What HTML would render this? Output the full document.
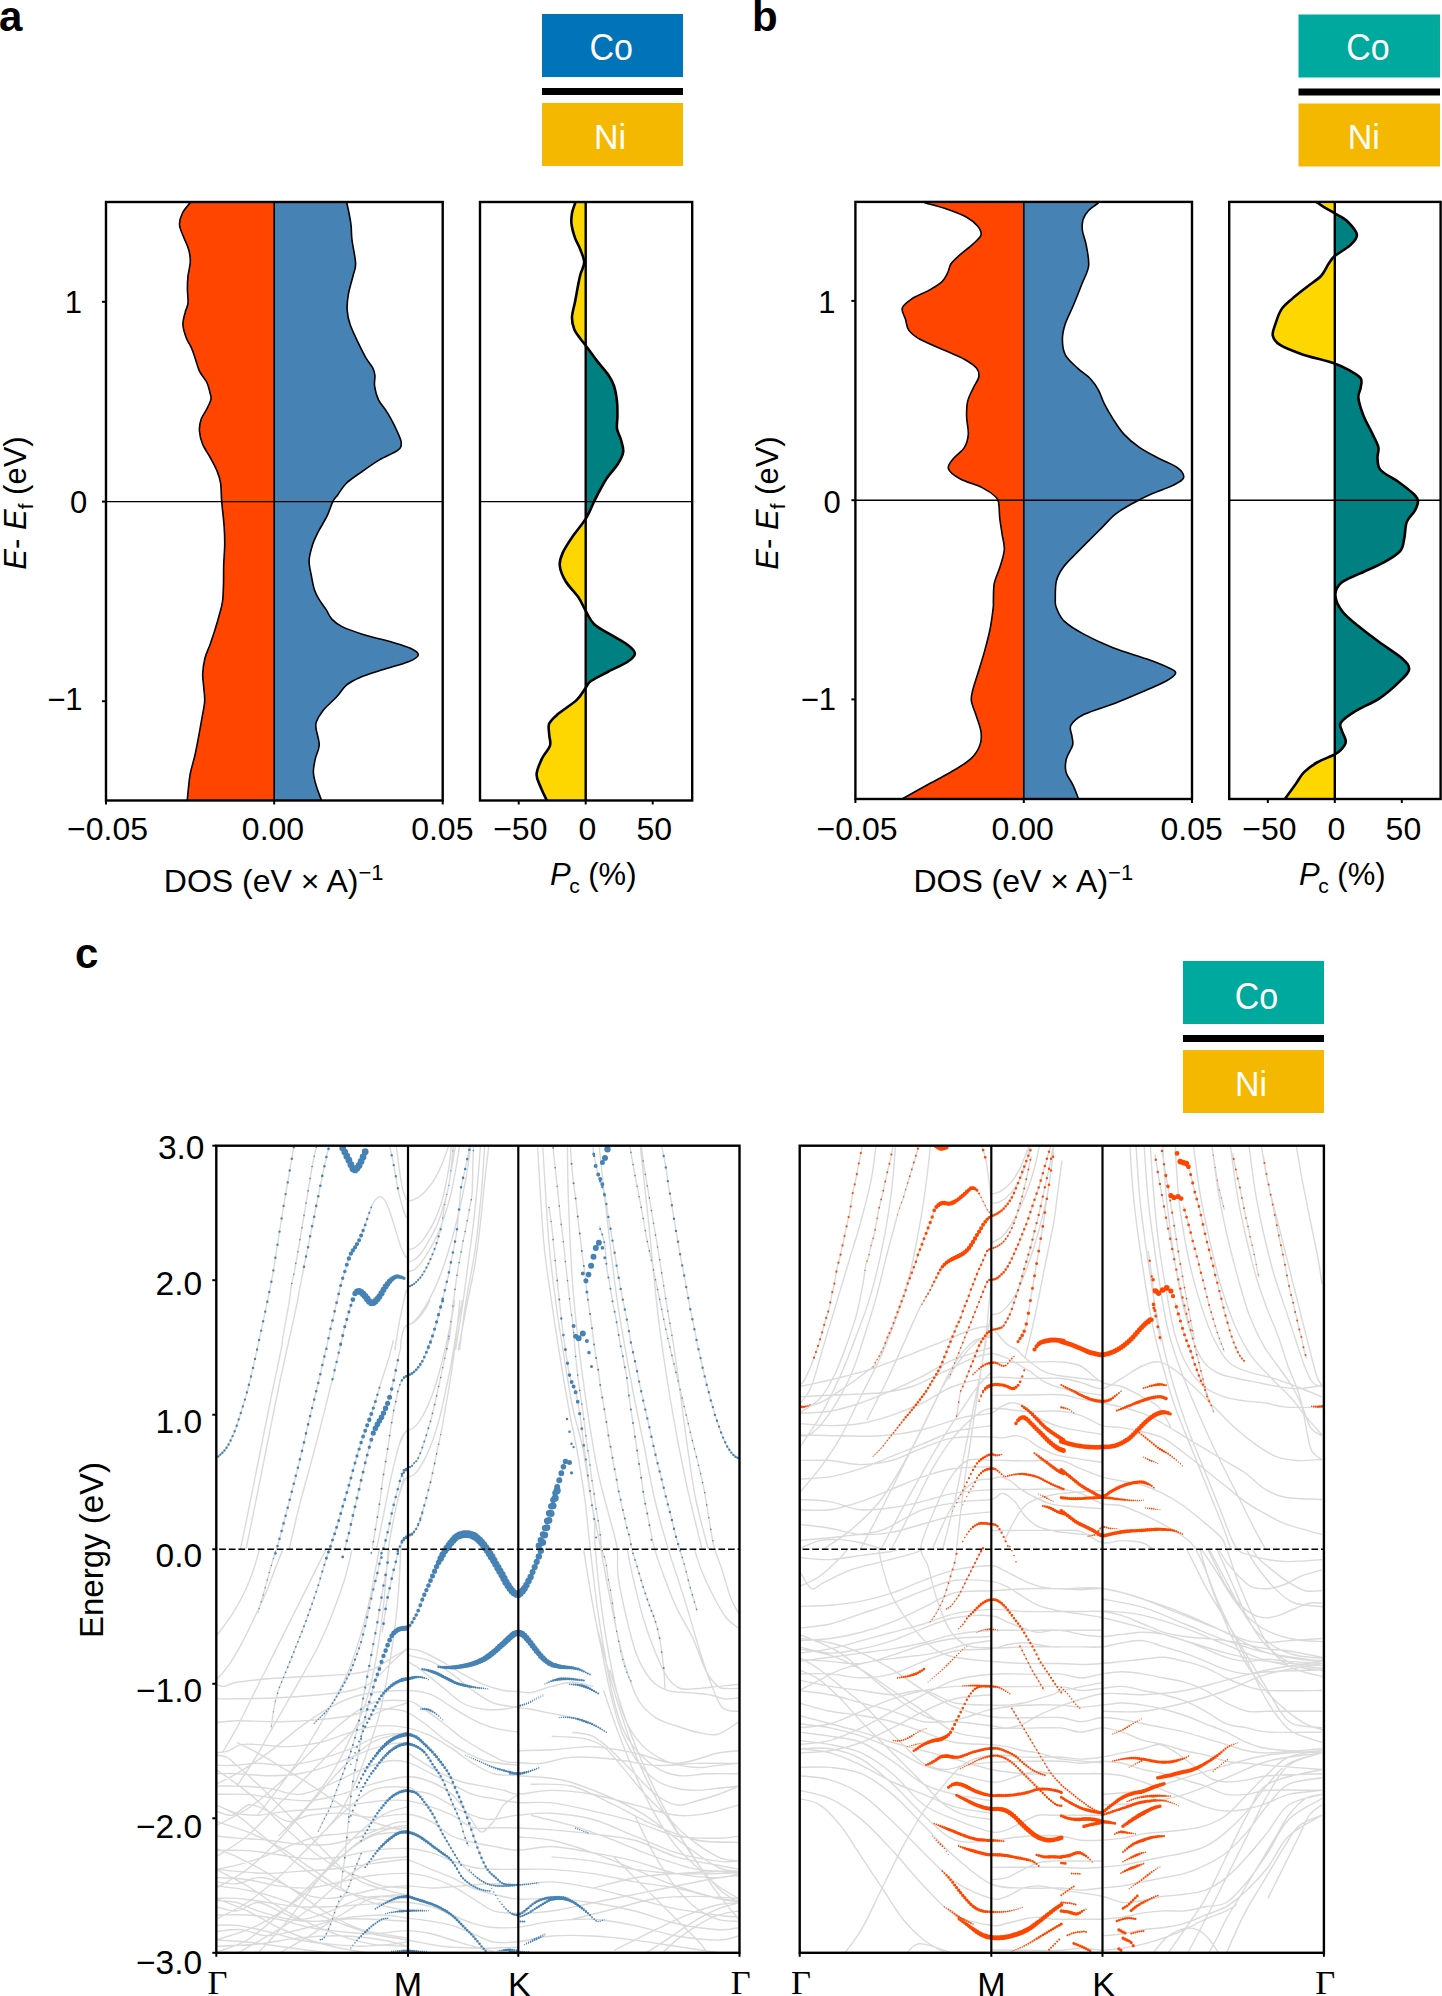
<!DOCTYPE html>
<html><head><meta charset="utf-8"><style>html,body{margin:0;padding:0;background:#fff;width:1442px;height:1996px;overflow:hidden}svg{display:block}</style></head><body>
<svg width="1442" height="1996" viewBox="0 0 1442 1996">
<rect width="1442" height="1996" fill="#fff"/>
<text x="-1" y="30.5" style="font-family:'Liberation Sans',sans-serif;font-size:42px;font-weight:bold">a</text>
<text x="752" y="30.5" style="font-family:'Liberation Sans',sans-serif;font-size:42px;font-weight:bold">b</text>
<text x="75" y="968" style="font-family:'Liberation Sans',sans-serif;font-size:42px;font-weight:bold">c</text>
<rect x="542" y="14" width="141" height="63" fill="#0173b9"/>
<rect x="542" y="88" width="141" height="7" fill="#000"/>
<rect x="542" y="103" width="141" height="63" fill="#f5b800"/>
<text transform="translate(611.2,60.0) scale(1,1.1)" text-anchor="middle" fill="#fff" style="font-family:'Liberation Sans',sans-serif;font-size:34px">Co</text>
<text transform="translate(610.0,148.8) scale(1,1.03)" text-anchor="middle" fill="#fff" style="font-family:'Liberation Sans',sans-serif;font-size:34px">Ni</text>
<rect x="1298.5" y="14.5" width="141.5" height="63" fill="#00a99d"/>
<rect x="1298.5" y="88.5" width="141.5" height="7" fill="#000"/>
<rect x="1298.5" y="103.5" width="141.5" height="63" fill="#f5b800"/>
<text transform="translate(1368.0,59.8) scale(1,1.1)" text-anchor="middle" fill="#fff" style="font-family:'Liberation Sans',sans-serif;font-size:34px">Co</text>
<text transform="translate(1363.8,149.0) scale(1,1.03)" text-anchor="middle" fill="#fff" style="font-family:'Liberation Sans',sans-serif;font-size:34px">Ni</text>
<rect x="1183" y="961" width="141" height="63" fill="#00a99d"/>
<rect x="1183" y="1035" width="141" height="7" fill="#000"/>
<rect x="1183" y="1050" width="141" height="63" fill="#f5b800"/>
<text transform="translate(1256.4,1008.5) scale(1,1.1)" text-anchor="middle" fill="#fff" style="font-family:'Liberation Sans',sans-serif;font-size:34px">Co</text>
<text transform="translate(1251.0,1095.8) scale(1,1.03)" text-anchor="middle" fill="#fff" style="font-family:'Liberation Sans',sans-serif;font-size:34px">Ni</text>
<clipPath id="ca1"><rect x="106" y="202" width="336.7" height="598.5"/></clipPath>
<g clip-path="url(#ca1)">
<path d="M190.7,202.1 C189.3,203.9 184.4,209.2 182.5,213.0 C180.6,216.8 179.3,220.9 179.5,224.8 C179.7,228.7 181.9,232.5 183.4,236.5 C184.9,240.5 187.3,244.8 188.5,249.0 C189.7,253.2 190.4,257.2 190.3,261.7 C190.2,266.2 188.5,271.5 188.0,276.0 C187.5,280.5 187.4,284.3 187.4,288.8 C187.4,293.3 188.4,299.3 188.0,303.2 C187.6,307.1 186.0,308.6 185.2,312.2 C184.3,315.8 182.8,320.6 182.9,324.8 C183.1,329.0 184.7,333.5 186.1,337.4 C187.5,341.3 189.9,344.4 191.6,348.3 C193.2,352.2 194.7,357.0 196.0,360.9 C197.3,364.8 197.9,368.1 199.7,371.7 C201.5,375.3 205.2,378.9 206.9,382.5 C208.6,386.1 209.4,390.4 210.1,393.3 C210.8,396.2 211.5,397.0 210.9,399.7 C210.3,402.4 208.2,406.2 206.6,409.4 C205.0,412.6 202.4,415.5 201.2,419.1 C200.0,422.7 199.2,426.6 199.4,430.8 C199.7,435.0 200.8,439.9 202.7,444.4 C204.5,448.9 208.1,453.5 210.5,458.0 C212.9,462.5 215.6,467.4 217.3,471.6 C219.0,475.8 219.9,478.2 220.6,483.2 C221.3,488.2 221.1,494.6 221.7,501.7 C222.3,508.8 223.6,518.6 224.1,525.9 C224.6,533.2 224.8,538.8 224.7,545.3 C224.6,551.8 223.9,558.3 223.7,564.8 C223.5,571.3 223.7,578.1 223.5,584.2 C223.3,590.4 223.2,596.5 222.5,601.7 C221.8,606.9 220.4,610.7 219.2,615.2 C218.0,619.7 216.8,623.9 215.3,628.8 C213.8,633.7 211.8,639.5 210.1,644.4 C208.4,649.3 206.2,653.1 205.0,658.0 C203.8,662.9 202.9,668.6 202.7,673.5 C202.5,678.4 203.4,682.6 203.7,687.1 C204.0,691.6 204.9,695.9 204.7,700.7 C204.5,705.6 203.3,710.4 202.3,716.2 C201.3,722.0 200.0,729.1 198.8,735.6 C197.6,742.1 196.4,748.5 195.0,755.0 C193.6,761.5 191.4,766.9 190.1,774.5 C188.8,782.1 187.7,796.2 187.2,800.5 L274.2,800.5 L274.2,202.0 Z" fill="#ff4500"/>
<path d="M346.6,202.1 C347.0,203.9 348.2,209.1 349.0,213.0 C349.8,216.9 350.6,221.2 351.1,225.7 C351.6,230.2 351.2,233.7 352.0,240.0 C352.8,246.3 355.4,257.5 355.6,263.5 C355.8,269.5 354.2,270.9 353.0,276.0 C351.8,281.1 349.4,288.5 348.4,294.2 C347.4,299.9 346.9,305.3 347.2,310.4 C347.5,315.5 348.3,319.4 350.2,324.8 C352.1,330.2 355.7,337.5 358.3,342.9 C360.9,348.3 363.2,353.1 365.6,357.3 C368.0,361.5 371.2,365.1 372.8,368.1 C374.4,371.1 374.6,372.3 374.9,375.3 C375.2,378.3 374.0,382.0 374.6,386.1 C375.2,390.2 376.6,395.8 378.4,399.7 C380.2,403.6 383.1,406.2 385.2,409.4 C387.3,412.6 389.2,415.5 391.1,419.1 C393.1,422.7 395.2,426.9 396.9,430.8 C398.6,434.7 401.0,439.2 401.2,442.4 C401.4,445.6 401.5,447.3 397.9,450.2 C394.3,453.1 385.4,456.3 379.4,459.9 C373.4,463.5 367.5,467.7 362.0,471.6 C356.5,475.5 350.4,479.3 346.4,483.2 C342.3,487.1 340.0,491.8 337.7,494.9 C335.4,498.0 334.6,498.1 332.8,501.7 C331.0,505.2 329.4,511.2 327.0,516.2 C324.6,521.2 320.7,526.9 318.3,531.7 C315.9,536.6 313.9,540.4 312.4,545.3 C310.9,550.2 309.2,555.7 309.1,560.9 C309.0,566.1 310.6,571.5 311.5,576.4 C312.4,581.2 313.2,586.1 314.5,590.0 C315.8,593.9 317.3,596.5 319.2,599.7 C321.1,602.9 323.9,606.2 326.0,609.4 C328.1,612.6 329.1,616.2 331.8,619.1 C334.6,622.0 337.1,624.3 342.5,626.9 C347.9,629.5 355.5,632.1 363.9,634.7 C372.3,637.3 385.2,640.1 393.0,642.4 C400.8,644.7 406.3,646.2 410.5,648.3 C414.7,650.4 418.6,652.8 418.3,655.0 C418.0,657.2 414.3,659.4 408.5,661.8 C402.7,664.2 391.4,667.0 383.3,669.6 C375.2,672.2 366.1,674.8 360.0,677.4 C353.9,680.0 350.3,681.9 346.4,685.1 C342.5,688.3 340.6,692.6 336.7,696.8 C332.8,701.0 326.5,706.2 323.1,710.4 C319.7,714.6 317.4,718.9 316.3,722.1 C315.2,725.3 315.8,725.9 316.3,729.8 C316.8,733.7 319.4,740.4 319.2,745.3 C319.0,750.1 316.3,754.4 315.3,758.9 C314.3,763.4 313.2,768.0 313.4,772.5 C313.6,777.0 314.9,781.4 316.3,786.1 C317.7,790.8 320.7,798.1 321.6,800.5 L274.2,800.5 L274.2,202.0 Z" fill="#4682b4"/>
<path d="M190.7,202.1 C189.3,203.9 184.4,209.2 182.5,213.0 C180.6,216.8 179.3,220.9 179.5,224.8 C179.7,228.7 181.9,232.5 183.4,236.5 C184.9,240.5 187.3,244.8 188.5,249.0 C189.7,253.2 190.4,257.2 190.3,261.7 C190.2,266.2 188.5,271.5 188.0,276.0 C187.5,280.5 187.4,284.3 187.4,288.8 C187.4,293.3 188.4,299.3 188.0,303.2 C187.6,307.1 186.0,308.6 185.2,312.2 C184.3,315.8 182.8,320.6 182.9,324.8 C183.1,329.0 184.7,333.5 186.1,337.4 C187.5,341.3 189.9,344.4 191.6,348.3 C193.2,352.2 194.7,357.0 196.0,360.9 C197.3,364.8 197.9,368.1 199.7,371.7 C201.5,375.3 205.2,378.9 206.9,382.5 C208.6,386.1 209.4,390.4 210.1,393.3 C210.8,396.2 211.5,397.0 210.9,399.7 C210.3,402.4 208.2,406.2 206.6,409.4 C205.0,412.6 202.4,415.5 201.2,419.1 C200.0,422.7 199.2,426.6 199.4,430.8 C199.7,435.0 200.8,439.9 202.7,444.4 C204.5,448.9 208.1,453.5 210.5,458.0 C212.9,462.5 215.6,467.4 217.3,471.6 C219.0,475.8 219.9,478.2 220.6,483.2 C221.3,488.2 221.1,494.6 221.7,501.7 C222.3,508.8 223.6,518.6 224.1,525.9 C224.6,533.2 224.8,538.8 224.7,545.3 C224.6,551.8 223.9,558.3 223.7,564.8 C223.5,571.3 223.7,578.1 223.5,584.2 C223.3,590.4 223.2,596.5 222.5,601.7 C221.8,606.9 220.4,610.7 219.2,615.2 C218.0,619.7 216.8,623.9 215.3,628.8 C213.8,633.7 211.8,639.5 210.1,644.4 C208.4,649.3 206.2,653.1 205.0,658.0 C203.8,662.9 202.9,668.6 202.7,673.5 C202.5,678.4 203.4,682.6 203.7,687.1 C204.0,691.6 204.9,695.9 204.7,700.7 C204.5,705.6 203.3,710.4 202.3,716.2 C201.3,722.0 200.0,729.1 198.8,735.6 C197.6,742.1 196.4,748.5 195.0,755.0 C193.6,761.5 191.4,766.9 190.1,774.5 C188.8,782.1 187.7,796.2 187.2,800.5" fill="none" stroke="#000" stroke-width="1.6"/>
<path d="M346.6,202.1 C347.0,203.9 348.2,209.1 349.0,213.0 C349.8,216.9 350.6,221.2 351.1,225.7 C351.6,230.2 351.2,233.7 352.0,240.0 C352.8,246.3 355.4,257.5 355.6,263.5 C355.8,269.5 354.2,270.9 353.0,276.0 C351.8,281.1 349.4,288.5 348.4,294.2 C347.4,299.9 346.9,305.3 347.2,310.4 C347.5,315.5 348.3,319.4 350.2,324.8 C352.1,330.2 355.7,337.5 358.3,342.9 C360.9,348.3 363.2,353.1 365.6,357.3 C368.0,361.5 371.2,365.1 372.8,368.1 C374.4,371.1 374.6,372.3 374.9,375.3 C375.2,378.3 374.0,382.0 374.6,386.1 C375.2,390.2 376.6,395.8 378.4,399.7 C380.2,403.6 383.1,406.2 385.2,409.4 C387.3,412.6 389.2,415.5 391.1,419.1 C393.1,422.7 395.2,426.9 396.9,430.8 C398.6,434.7 401.0,439.2 401.2,442.4 C401.4,445.6 401.5,447.3 397.9,450.2 C394.3,453.1 385.4,456.3 379.4,459.9 C373.4,463.5 367.5,467.7 362.0,471.6 C356.5,475.5 350.4,479.3 346.4,483.2 C342.3,487.1 340.0,491.8 337.7,494.9 C335.4,498.0 334.6,498.1 332.8,501.7 C331.0,505.2 329.4,511.2 327.0,516.2 C324.6,521.2 320.7,526.9 318.3,531.7 C315.9,536.6 313.9,540.4 312.4,545.3 C310.9,550.2 309.2,555.7 309.1,560.9 C309.0,566.1 310.6,571.5 311.5,576.4 C312.4,581.2 313.2,586.1 314.5,590.0 C315.8,593.9 317.3,596.5 319.2,599.7 C321.1,602.9 323.9,606.2 326.0,609.4 C328.1,612.6 329.1,616.2 331.8,619.1 C334.6,622.0 337.1,624.3 342.5,626.9 C347.9,629.5 355.5,632.1 363.9,634.7 C372.3,637.3 385.2,640.1 393.0,642.4 C400.8,644.7 406.3,646.2 410.5,648.3 C414.7,650.4 418.6,652.8 418.3,655.0 C418.0,657.2 414.3,659.4 408.5,661.8 C402.7,664.2 391.4,667.0 383.3,669.6 C375.2,672.2 366.1,674.8 360.0,677.4 C353.9,680.0 350.3,681.9 346.4,685.1 C342.5,688.3 340.6,692.6 336.7,696.8 C332.8,701.0 326.5,706.2 323.1,710.4 C319.7,714.6 317.4,718.9 316.3,722.1 C315.2,725.3 315.8,725.9 316.3,729.8 C316.8,733.7 319.4,740.4 319.2,745.3 C319.0,750.1 316.3,754.4 315.3,758.9 C314.3,763.4 313.2,768.0 313.4,772.5 C313.6,777.0 314.9,781.4 316.3,786.1 C317.7,790.8 320.7,798.1 321.6,800.5" fill="none" stroke="#000" stroke-width="1.6"/>
<line x1="274.2" y1="202" x2="274.2" y2="800.5" stroke="#000" stroke-width="1.6"/>
<line x1="106" y1="501.6" x2="442.7" y2="501.6" stroke="#000" stroke-width="1.4"/>
</g>
<rect x="106" y="202" width="336.7" height="598.5" fill="none" stroke="#000" stroke-width="2.4"/>
<clipPath id="ca2L"><rect x="480" y="202" width="105.70000000000005" height="598.5"/></clipPath>
<clipPath id="ca2R"><rect x="585.7" y="202" width="106.5" height="598.5"/></clipPath>
<path d="M575.3,202.6 C574.8,204.4 572.6,209.7 572.0,213.3 C571.4,216.9 571.0,219.9 571.5,224.0 C572.0,228.1 573.6,233.7 575.0,237.8 C576.4,241.9 578.4,244.4 579.9,248.5 C581.4,252.6 584.1,257.9 584.2,262.2 C584.3,266.5 581.5,270.4 580.4,274.5 C579.3,278.6 578.7,282.1 577.8,286.7 C576.9,291.3 576.0,296.9 575.0,302.0 C574.0,307.1 572.1,312.7 572.0,317.3 C571.9,321.9 572.9,325.9 574.3,329.5 C575.7,333.1 578.5,336.0 580.4,338.7 C582.3,341.4 583.0,341.9 585.7,345.5 C588.4,349.1 592.6,355.1 596.4,360.1 C600.2,365.1 605.7,371.0 608.6,375.3 C611.5,379.6 612.6,381.7 614.0,386.0 C615.4,390.3 616.4,396.2 617.0,401.3 C617.6,406.4 617.4,412.0 617.4,416.6 C617.4,421.2 616.4,425.0 617.0,428.8 C617.6,432.6 619.9,435.7 620.9,439.5 C621.9,443.3 623.7,447.7 623.2,451.8 C622.7,455.9 620.5,459.7 617.8,464.0 C615.1,468.3 610.1,473.4 607.1,477.7 C604.1,482.0 602.2,486.0 600.0,490.0 C597.8,494.0 596.3,497.1 594.0,501.8 C591.7,506.5 589.6,512.5 586.0,518.4 C582.4,524.3 576.0,531.5 572.1,537.3 C568.2,543.1 564.7,548.4 562.6,553.1 C560.5,557.9 559.3,561.1 559.8,565.8 C560.3,570.5 562.7,576.2 565.8,581.5 C568.9,586.8 575.0,592.3 578.4,597.3 C581.8,602.3 583.4,607.0 586.0,611.5 C588.6,616.0 590.0,620.2 594.2,624.2 C598.5,628.2 606.0,631.8 611.5,635.2 C617.0,638.6 623.4,641.7 627.3,644.7 C631.2,647.7 634.9,650.5 634.9,653.4 C634.9,656.3 631.7,659.0 627.3,662.0 C622.9,665.0 614.4,668.3 608.4,671.5 C602.4,674.7 594.7,678.4 591.0,681.0 C587.3,683.6 588.4,684.1 586.0,687.3 C583.6,690.4 581.5,695.4 576.8,699.9 C572.1,704.4 562.5,710.1 557.9,714.1 C553.3,718.1 550.7,720.2 549.2,723.6 C547.8,727.0 549.1,730.9 549.2,734.6 C549.3,738.3 551.2,741.8 550.0,745.7 C548.8,749.7 544.3,753.6 542.1,758.3 C539.9,763.0 536.9,769.4 536.6,774.1 C536.3,778.8 538.8,782.3 540.5,786.7 C542.2,791.1 545.8,798.2 546.8,800.5 L585.7,800.5 L585.7,202.0 Z" fill="#ffd700" clip-path="url(#ca2L)"/>
<path d="M575.3,202.6 C574.8,204.4 572.6,209.7 572.0,213.3 C571.4,216.9 571.0,219.9 571.5,224.0 C572.0,228.1 573.6,233.7 575.0,237.8 C576.4,241.9 578.4,244.4 579.9,248.5 C581.4,252.6 584.1,257.9 584.2,262.2 C584.3,266.5 581.5,270.4 580.4,274.5 C579.3,278.6 578.7,282.1 577.8,286.7 C576.9,291.3 576.0,296.9 575.0,302.0 C574.0,307.1 572.1,312.7 572.0,317.3 C571.9,321.9 572.9,325.9 574.3,329.5 C575.7,333.1 578.5,336.0 580.4,338.7 C582.3,341.4 583.0,341.9 585.7,345.5 C588.4,349.1 592.6,355.1 596.4,360.1 C600.2,365.1 605.7,371.0 608.6,375.3 C611.5,379.6 612.6,381.7 614.0,386.0 C615.4,390.3 616.4,396.2 617.0,401.3 C617.6,406.4 617.4,412.0 617.4,416.6 C617.4,421.2 616.4,425.0 617.0,428.8 C617.6,432.6 619.9,435.7 620.9,439.5 C621.9,443.3 623.7,447.7 623.2,451.8 C622.7,455.9 620.5,459.7 617.8,464.0 C615.1,468.3 610.1,473.4 607.1,477.7 C604.1,482.0 602.2,486.0 600.0,490.0 C597.8,494.0 596.3,497.1 594.0,501.8 C591.7,506.5 589.6,512.5 586.0,518.4 C582.4,524.3 576.0,531.5 572.1,537.3 C568.2,543.1 564.7,548.4 562.6,553.1 C560.5,557.9 559.3,561.1 559.8,565.8 C560.3,570.5 562.7,576.2 565.8,581.5 C568.9,586.8 575.0,592.3 578.4,597.3 C581.8,602.3 583.4,607.0 586.0,611.5 C588.6,616.0 590.0,620.2 594.2,624.2 C598.5,628.2 606.0,631.8 611.5,635.2 C617.0,638.6 623.4,641.7 627.3,644.7 C631.2,647.7 634.9,650.5 634.9,653.4 C634.9,656.3 631.7,659.0 627.3,662.0 C622.9,665.0 614.4,668.3 608.4,671.5 C602.4,674.7 594.7,678.4 591.0,681.0 C587.3,683.6 588.4,684.1 586.0,687.3 C583.6,690.4 581.5,695.4 576.8,699.9 C572.1,704.4 562.5,710.1 557.9,714.1 C553.3,718.1 550.7,720.2 549.2,723.6 C547.8,727.0 549.1,730.9 549.2,734.6 C549.3,738.3 551.2,741.8 550.0,745.7 C548.8,749.7 544.3,753.6 542.1,758.3 C539.9,763.0 536.9,769.4 536.6,774.1 C536.3,778.8 538.8,782.3 540.5,786.7 C542.2,791.1 545.8,798.2 546.8,800.5 L585.7,800.5 L585.7,202.0 Z" fill="#008080" clip-path="url(#ca2R)"/>
<clipPath id="ca2A"><rect x="480" y="202" width="212.20000000000005" height="598.5"/></clipPath>
<g clip-path="url(#ca2A)">
<path d="M575.3,202.6 C574.8,204.4 572.6,209.7 572.0,213.3 C571.4,216.9 571.0,219.9 571.5,224.0 C572.0,228.1 573.6,233.7 575.0,237.8 C576.4,241.9 578.4,244.4 579.9,248.5 C581.4,252.6 584.1,257.9 584.2,262.2 C584.3,266.5 581.5,270.4 580.4,274.5 C579.3,278.6 578.7,282.1 577.8,286.7 C576.9,291.3 576.0,296.9 575.0,302.0 C574.0,307.1 572.1,312.7 572.0,317.3 C571.9,321.9 572.9,325.9 574.3,329.5 C575.7,333.1 578.5,336.0 580.4,338.7 C582.3,341.4 583.0,341.9 585.7,345.5 C588.4,349.1 592.6,355.1 596.4,360.1 C600.2,365.1 605.7,371.0 608.6,375.3 C611.5,379.6 612.6,381.7 614.0,386.0 C615.4,390.3 616.4,396.2 617.0,401.3 C617.6,406.4 617.4,412.0 617.4,416.6 C617.4,421.2 616.4,425.0 617.0,428.8 C617.6,432.6 619.9,435.7 620.9,439.5 C621.9,443.3 623.7,447.7 623.2,451.8 C622.7,455.9 620.5,459.7 617.8,464.0 C615.1,468.3 610.1,473.4 607.1,477.7 C604.1,482.0 602.2,486.0 600.0,490.0 C597.8,494.0 596.3,497.1 594.0,501.8 C591.7,506.5 589.6,512.5 586.0,518.4 C582.4,524.3 576.0,531.5 572.1,537.3 C568.2,543.1 564.7,548.4 562.6,553.1 C560.5,557.9 559.3,561.1 559.8,565.8 C560.3,570.5 562.7,576.2 565.8,581.5 C568.9,586.8 575.0,592.3 578.4,597.3 C581.8,602.3 583.4,607.0 586.0,611.5 C588.6,616.0 590.0,620.2 594.2,624.2 C598.5,628.2 606.0,631.8 611.5,635.2 C617.0,638.6 623.4,641.7 627.3,644.7 C631.2,647.7 634.9,650.5 634.9,653.4 C634.9,656.3 631.7,659.0 627.3,662.0 C622.9,665.0 614.4,668.3 608.4,671.5 C602.4,674.7 594.7,678.4 591.0,681.0 C587.3,683.6 588.4,684.1 586.0,687.3 C583.6,690.4 581.5,695.4 576.8,699.9 C572.1,704.4 562.5,710.1 557.9,714.1 C553.3,718.1 550.7,720.2 549.2,723.6 C547.8,727.0 549.1,730.9 549.2,734.6 C549.3,738.3 551.2,741.8 550.0,745.7 C548.8,749.7 544.3,753.6 542.1,758.3 C539.9,763.0 536.9,769.4 536.6,774.1 C536.3,778.8 538.8,782.3 540.5,786.7 C542.2,791.1 545.8,798.2 546.8,800.5" fill="none" stroke="#000" stroke-width="2.6"/>
<line x1="585.7" y1="202" x2="585.7" y2="800.5" stroke="#000" stroke-width="2.4"/>
<line x1="480" y1="501.6" x2="692.2" y2="501.6" stroke="#000" stroke-width="1.4"/>
</g>
<rect x="480" y="202" width="212.20000000000005" height="598.5" fill="none" stroke="#000" stroke-width="2.4"/>
<clipPath id="cb1"><rect x="855.4" y="201.9" width="336.6" height="597.1"/></clipPath>
<g clip-path="url(#cb1)">
<path d="M924.4,202.8 C927.7,203.7 937.4,205.9 944.4,208.3 C951.4,210.7 961.1,214.2 966.6,217.2 C972.1,220.2 975.2,223.1 977.6,226.1 C980.0,229.1 981.7,232.1 981.0,235.0 C980.3,237.9 976.7,240.5 973.2,243.8 C969.7,247.1 963.6,251.6 959.9,254.9 C956.2,258.2 953.0,260.8 951.0,263.8 C949.0,266.8 949.2,269.7 947.7,272.7 C946.2,275.7 945.2,278.7 942.1,281.6 C939.0,284.6 934.0,287.4 928.8,290.4 C923.6,293.3 915.5,296.3 911.1,299.3 C906.7,302.3 903.1,304.9 902.2,308.2 C901.3,311.5 904.4,315.6 905.5,319.3 C906.6,323.0 906.5,327.1 908.9,330.4 C911.3,333.7 914.0,336.0 919.9,339.3 C925.8,342.6 937.0,347.0 944.4,350.3 C951.8,353.6 958.9,356.2 964.3,359.2 C969.6,362.2 974.1,365.1 976.5,368.1 C978.9,371.1 979.3,373.7 978.8,377.0 C978.2,380.3 975.1,384.1 973.2,388.1 C971.4,392.1 968.8,396.4 967.7,401.1 C966.6,405.9 966.5,411.1 966.6,416.6 C966.7,422.2 968.7,429.2 968.3,434.4 C967.9,439.6 966.8,443.6 964.3,447.7 C961.8,451.8 955.9,455.3 953.2,458.8 C950.6,462.3 947.3,465.5 948.4,468.8 C949.5,472.1 954.3,475.7 959.9,478.8 C965.5,481.9 976.2,484.7 982.1,487.6 C988.0,490.6 992.6,493.9 995.4,496.5 C998.2,499.1 998.0,499.5 998.7,503.2 C999.4,506.9 999.2,513.5 999.8,518.7 C1000.4,523.9 1001.4,529.1 1002.1,534.3 C1002.9,539.5 1004.7,544.3 1004.3,549.8 C1003.9,555.3 1001.5,562.0 999.8,567.5 C998.1,573.0 995.4,577.7 994.3,583.1 C993.2,588.5 993.6,595.9 993.4,600.0 C993.2,604.1 993.8,602.8 993.2,607.8 C992.6,612.8 991.4,622.6 989.9,630.0 C988.4,637.4 986.3,644.7 984.3,652.1 C982.2,659.5 979.5,668.0 977.6,674.3 C975.7,680.6 973.8,685.4 972.8,689.9 C971.8,694.4 970.8,696.6 971.4,701.0 C972.0,705.4 974.9,711.3 976.5,716.5 C978.1,721.7 980.4,727.2 981.0,732.0 C981.6,736.8 981.6,740.8 979.9,745.3 C978.2,749.8 975.8,754.2 971.0,758.7 C966.2,763.2 958.4,767.6 951.0,772.0 C943.6,776.4 935.1,780.6 926.6,785.3 C918.1,790.0 904.6,797.5 900.2,800.0 L1023.8,799.0 L1023.8,201.9 Z" fill="#ff4500"/>
<path d="M1098.6,202.8 C1096.9,204.1 1091.2,207.7 1088.6,210.5 C1086.0,213.3 1084.1,216.1 1083.1,219.4 C1082.1,222.7 1081.9,226.1 1082.4,230.5 C1083.0,234.9 1085.4,240.1 1086.4,246.0 C1087.4,251.9 1089.3,259.7 1088.6,266.0 C1087.9,272.3 1084.6,277.1 1082.0,283.8 C1079.4,290.5 1075.9,299.4 1073.1,306.0 C1070.3,312.6 1067.1,318.1 1065.3,323.7 C1063.5,329.2 1062.4,334.1 1062.4,339.3 C1062.4,344.5 1062.8,350.0 1065.3,354.8 C1067.8,359.6 1073.2,364.0 1077.5,368.1 C1081.8,372.2 1087.3,375.5 1090.8,379.2 C1094.3,382.9 1096.4,386.3 1098.6,390.3 C1100.8,394.3 1101.7,398.5 1104.1,403.3 C1106.5,408.1 1109.7,413.7 1113.0,418.9 C1116.3,424.1 1119.6,429.6 1124.1,434.4 C1128.5,439.2 1133.8,443.6 1139.7,447.7 C1145.6,451.8 1153.3,455.5 1159.6,458.8 C1165.9,462.1 1173.4,464.6 1177.4,467.7 C1181.4,470.8 1184.3,474.8 1183.6,477.7 C1182.8,480.6 1178.4,482.6 1172.9,485.4 C1167.4,488.2 1157.5,491.3 1150.8,494.3 C1144.1,497.3 1138.9,499.9 1133.0,503.2 C1127.1,506.5 1120.4,510.2 1115.2,514.3 C1110.0,518.4 1106.3,523.2 1101.9,527.6 C1097.5,532.0 1093.0,536.5 1088.6,540.9 C1084.2,545.3 1079.5,549.8 1075.3,554.2 C1071.0,558.6 1066.2,563.0 1063.1,567.5 C1059.9,572.0 1057.7,575.5 1056.4,580.9 C1055.1,586.3 1055.3,595.5 1055.3,600.0 C1055.3,604.5 1054.9,604.3 1056.4,607.8 C1057.9,611.3 1059.6,616.7 1064.2,621.1 C1068.8,625.5 1076.1,630.0 1084.2,634.4 C1092.3,638.8 1102.7,643.6 1113.0,647.7 C1123.3,651.8 1137.0,655.5 1146.3,658.8 C1155.5,662.1 1163.6,665.3 1168.5,667.7 C1173.4,670.1 1176.0,671.0 1175.6,673.2 C1175.2,675.4 1171.9,677.9 1166.3,681.0 C1160.7,684.1 1150.4,688.4 1141.9,692.1 C1133.4,695.8 1124.8,699.5 1115.2,703.2 C1105.6,706.9 1091.6,710.6 1084.2,714.3 C1076.8,718.0 1072.9,721.7 1070.9,725.4 C1068.9,729.1 1071.7,733.2 1072.0,736.5 C1072.3,739.8 1073.5,741.6 1072.6,745.3 C1071.7,749.0 1067.5,754.2 1066.4,758.7 C1065.3,763.2 1064.9,767.6 1066.0,772.0 C1067.1,776.4 1070.9,780.6 1073.1,785.3 C1075.3,790.0 1078.0,797.5 1079.0,800.0 L1023.8,799.0 L1023.8,201.9 Z" fill="#4682b4"/>
<path d="M924.4,202.8 C927.7,203.7 937.4,205.9 944.4,208.3 C951.4,210.7 961.1,214.2 966.6,217.2 C972.1,220.2 975.2,223.1 977.6,226.1 C980.0,229.1 981.7,232.1 981.0,235.0 C980.3,237.9 976.7,240.5 973.2,243.8 C969.7,247.1 963.6,251.6 959.9,254.9 C956.2,258.2 953.0,260.8 951.0,263.8 C949.0,266.8 949.2,269.7 947.7,272.7 C946.2,275.7 945.2,278.7 942.1,281.6 C939.0,284.6 934.0,287.4 928.8,290.4 C923.6,293.3 915.5,296.3 911.1,299.3 C906.7,302.3 903.1,304.9 902.2,308.2 C901.3,311.5 904.4,315.6 905.5,319.3 C906.6,323.0 906.5,327.1 908.9,330.4 C911.3,333.7 914.0,336.0 919.9,339.3 C925.8,342.6 937.0,347.0 944.4,350.3 C951.8,353.6 958.9,356.2 964.3,359.2 C969.6,362.2 974.1,365.1 976.5,368.1 C978.9,371.1 979.3,373.7 978.8,377.0 C978.2,380.3 975.1,384.1 973.2,388.1 C971.4,392.1 968.8,396.4 967.7,401.1 C966.6,405.9 966.5,411.1 966.6,416.6 C966.7,422.2 968.7,429.2 968.3,434.4 C967.9,439.6 966.8,443.6 964.3,447.7 C961.8,451.8 955.9,455.3 953.2,458.8 C950.6,462.3 947.3,465.5 948.4,468.8 C949.5,472.1 954.3,475.7 959.9,478.8 C965.5,481.9 976.2,484.7 982.1,487.6 C988.0,490.6 992.6,493.9 995.4,496.5 C998.2,499.1 998.0,499.5 998.7,503.2 C999.4,506.9 999.2,513.5 999.8,518.7 C1000.4,523.9 1001.4,529.1 1002.1,534.3 C1002.9,539.5 1004.7,544.3 1004.3,549.8 C1003.9,555.3 1001.5,562.0 999.8,567.5 C998.1,573.0 995.4,577.7 994.3,583.1 C993.2,588.5 993.6,595.9 993.4,600.0 C993.2,604.1 993.8,602.8 993.2,607.8 C992.6,612.8 991.4,622.6 989.9,630.0 C988.4,637.4 986.3,644.7 984.3,652.1 C982.2,659.5 979.5,668.0 977.6,674.3 C975.7,680.6 973.8,685.4 972.8,689.9 C971.8,694.4 970.8,696.6 971.4,701.0 C972.0,705.4 974.9,711.3 976.5,716.5 C978.1,721.7 980.4,727.2 981.0,732.0 C981.6,736.8 981.6,740.8 979.9,745.3 C978.2,749.8 975.8,754.2 971.0,758.7 C966.2,763.2 958.4,767.6 951.0,772.0 C943.6,776.4 935.1,780.6 926.6,785.3 C918.1,790.0 904.6,797.5 900.2,800.0" fill="none" stroke="#000" stroke-width="1.6"/>
<path d="M1098.6,202.8 C1096.9,204.1 1091.2,207.7 1088.6,210.5 C1086.0,213.3 1084.1,216.1 1083.1,219.4 C1082.1,222.7 1081.9,226.1 1082.4,230.5 C1083.0,234.9 1085.4,240.1 1086.4,246.0 C1087.4,251.9 1089.3,259.7 1088.6,266.0 C1087.9,272.3 1084.6,277.1 1082.0,283.8 C1079.4,290.5 1075.9,299.4 1073.1,306.0 C1070.3,312.6 1067.1,318.1 1065.3,323.7 C1063.5,329.2 1062.4,334.1 1062.4,339.3 C1062.4,344.5 1062.8,350.0 1065.3,354.8 C1067.8,359.6 1073.2,364.0 1077.5,368.1 C1081.8,372.2 1087.3,375.5 1090.8,379.2 C1094.3,382.9 1096.4,386.3 1098.6,390.3 C1100.8,394.3 1101.7,398.5 1104.1,403.3 C1106.5,408.1 1109.7,413.7 1113.0,418.9 C1116.3,424.1 1119.6,429.6 1124.1,434.4 C1128.5,439.2 1133.8,443.6 1139.7,447.7 C1145.6,451.8 1153.3,455.5 1159.6,458.8 C1165.9,462.1 1173.4,464.6 1177.4,467.7 C1181.4,470.8 1184.3,474.8 1183.6,477.7 C1182.8,480.6 1178.4,482.6 1172.9,485.4 C1167.4,488.2 1157.5,491.3 1150.8,494.3 C1144.1,497.3 1138.9,499.9 1133.0,503.2 C1127.1,506.5 1120.4,510.2 1115.2,514.3 C1110.0,518.4 1106.3,523.2 1101.9,527.6 C1097.5,532.0 1093.0,536.5 1088.6,540.9 C1084.2,545.3 1079.5,549.8 1075.3,554.2 C1071.0,558.6 1066.2,563.0 1063.1,567.5 C1059.9,572.0 1057.7,575.5 1056.4,580.9 C1055.1,586.3 1055.3,595.5 1055.3,600.0 C1055.3,604.5 1054.9,604.3 1056.4,607.8 C1057.9,611.3 1059.6,616.7 1064.2,621.1 C1068.8,625.5 1076.1,630.0 1084.2,634.4 C1092.3,638.8 1102.7,643.6 1113.0,647.7 C1123.3,651.8 1137.0,655.5 1146.3,658.8 C1155.5,662.1 1163.6,665.3 1168.5,667.7 C1173.4,670.1 1176.0,671.0 1175.6,673.2 C1175.2,675.4 1171.9,677.9 1166.3,681.0 C1160.7,684.1 1150.4,688.4 1141.9,692.1 C1133.4,695.8 1124.8,699.5 1115.2,703.2 C1105.6,706.9 1091.6,710.6 1084.2,714.3 C1076.8,718.0 1072.9,721.7 1070.9,725.4 C1068.9,729.1 1071.7,733.2 1072.0,736.5 C1072.3,739.8 1073.5,741.6 1072.6,745.3 C1071.7,749.0 1067.5,754.2 1066.4,758.7 C1065.3,763.2 1064.9,767.6 1066.0,772.0 C1067.1,776.4 1070.9,780.6 1073.1,785.3 C1075.3,790.0 1078.0,797.5 1079.0,800.0" fill="none" stroke="#000" stroke-width="1.6"/>
<line x1="1023.8" y1="201.9" x2="1023.8" y2="799.0" stroke="#000" stroke-width="1.6"/>
<line x1="855.4" y1="500.2" x2="1192" y2="500.2" stroke="#000" stroke-width="1.4"/>
</g>
<rect x="855.4" y="201.9" width="336.6" height="597.1" fill="none" stroke="#000" stroke-width="2.4"/>
<clipPath id="cb2L"><rect x="1229.2" y="201.9" width="105.59999999999991" height="597.1"/></clipPath>
<clipPath id="cb2R"><rect x="1334.8" y="201.9" width="105.79999999999995" height="597.1"/></clipPath>
<path d="M1316.4,201.9 C1317.7,202.8 1321.0,205.3 1324.0,207.2 C1327.0,209.1 1330.9,211.0 1334.7,213.3 C1338.5,215.6 1343.3,217.4 1347.0,221.0 C1350.7,224.6 1356.4,230.6 1356.9,234.7 C1357.4,238.8 1353.7,241.8 1350.0,245.4 C1346.3,249.0 1338.3,253.0 1334.7,256.1 C1331.1,259.2 1330.9,260.5 1328.6,263.8 C1326.3,267.1 1324.6,272.2 1321.0,276.0 C1317.4,279.8 1312.0,282.9 1307.2,286.7 C1302.4,290.5 1296.3,295.1 1292.0,298.9 C1287.7,302.7 1284.1,305.3 1281.3,309.6 C1278.5,313.9 1276.5,320.6 1275.1,324.9 C1273.7,329.2 1272.0,332.3 1272.8,335.6 C1273.6,338.9 1275.0,341.6 1279.7,344.7 C1284.4,347.8 1292.2,350.8 1301.1,353.9 C1310.0,357.0 1325.0,360.3 1333.2,363.1 C1341.4,365.9 1345.4,368.2 1350.0,370.7 C1354.6,373.2 1358.9,375.5 1360.7,378.3 C1362.5,381.1 1361.1,384.2 1360.7,387.5 C1360.3,390.8 1357.9,393.4 1358.4,398.2 C1358.9,403.0 1361.6,410.9 1363.8,416.5 C1366.0,422.1 1369.0,426.7 1371.4,431.8 C1373.8,436.9 1377.3,442.8 1378.3,447.1 C1379.3,451.4 1377.1,454.0 1377.5,457.8 C1377.9,461.6 1377.0,465.9 1380.6,470.0 C1384.2,474.1 1393.3,478.1 1398.9,482.2 C1404.5,486.3 1411.0,491.3 1414.2,494.5 C1417.4,497.7 1417.9,498.5 1418.0,501.2 C1418.1,503.9 1416.6,507.3 1414.7,510.8 C1412.8,514.3 1408.4,517.6 1406.7,522.1 C1405.0,526.6 1405.4,533.3 1404.3,538.1 C1403.2,542.9 1403.6,546.9 1400.3,550.9 C1397.0,554.9 1391.0,558.4 1384.3,562.1 C1377.6,565.9 1367.4,569.9 1360.2,573.4 C1353.0,576.9 1345.1,579.3 1341.0,583.0 C1336.9,586.7 1335.1,591.0 1335.4,595.8 C1335.7,600.6 1338.7,606.7 1342.6,611.8 C1346.5,616.9 1352.4,621.2 1358.6,626.3 C1364.8,631.4 1372.3,637.0 1379.5,642.3 C1386.7,647.6 1397.0,653.8 1401.9,658.3 C1406.8,662.8 1409.6,665.5 1409.1,669.5 C1408.6,673.5 1403.6,677.6 1398.7,682.4 C1393.8,687.2 1386.7,693.6 1379.5,698.4 C1372.3,703.2 1361.8,707.2 1355.4,711.2 C1349.0,715.2 1343.3,719.2 1341.0,722.4 C1338.7,725.6 1341.0,727.3 1341.8,730.5 C1342.6,733.7 1345.9,738.5 1345.8,741.7 C1345.7,744.9 1342.9,747.6 1341.0,749.7 C1339.1,751.8 1338.6,752.4 1334.6,754.5 C1330.6,756.6 1322.1,759.6 1317.0,762.5 C1311.9,765.4 1307.6,768.6 1304.1,772.1 C1300.6,775.6 1299.3,778.9 1296.1,783.4 C1292.9,787.9 1286.8,796.4 1284.9,799.0 L1334.8,799.0 L1334.8,201.9 Z" fill="#ffd700" clip-path="url(#cb2L)"/>
<path d="M1316.4,201.9 C1317.7,202.8 1321.0,205.3 1324.0,207.2 C1327.0,209.1 1330.9,211.0 1334.7,213.3 C1338.5,215.6 1343.3,217.4 1347.0,221.0 C1350.7,224.6 1356.4,230.6 1356.9,234.7 C1357.4,238.8 1353.7,241.8 1350.0,245.4 C1346.3,249.0 1338.3,253.0 1334.7,256.1 C1331.1,259.2 1330.9,260.5 1328.6,263.8 C1326.3,267.1 1324.6,272.2 1321.0,276.0 C1317.4,279.8 1312.0,282.9 1307.2,286.7 C1302.4,290.5 1296.3,295.1 1292.0,298.9 C1287.7,302.7 1284.1,305.3 1281.3,309.6 C1278.5,313.9 1276.5,320.6 1275.1,324.9 C1273.7,329.2 1272.0,332.3 1272.8,335.6 C1273.6,338.9 1275.0,341.6 1279.7,344.7 C1284.4,347.8 1292.2,350.8 1301.1,353.9 C1310.0,357.0 1325.0,360.3 1333.2,363.1 C1341.4,365.9 1345.4,368.2 1350.0,370.7 C1354.6,373.2 1358.9,375.5 1360.7,378.3 C1362.5,381.1 1361.1,384.2 1360.7,387.5 C1360.3,390.8 1357.9,393.4 1358.4,398.2 C1358.9,403.0 1361.6,410.9 1363.8,416.5 C1366.0,422.1 1369.0,426.7 1371.4,431.8 C1373.8,436.9 1377.3,442.8 1378.3,447.1 C1379.3,451.4 1377.1,454.0 1377.5,457.8 C1377.9,461.6 1377.0,465.9 1380.6,470.0 C1384.2,474.1 1393.3,478.1 1398.9,482.2 C1404.5,486.3 1411.0,491.3 1414.2,494.5 C1417.4,497.7 1417.9,498.5 1418.0,501.2 C1418.1,503.9 1416.6,507.3 1414.7,510.8 C1412.8,514.3 1408.4,517.6 1406.7,522.1 C1405.0,526.6 1405.4,533.3 1404.3,538.1 C1403.2,542.9 1403.6,546.9 1400.3,550.9 C1397.0,554.9 1391.0,558.4 1384.3,562.1 C1377.6,565.9 1367.4,569.9 1360.2,573.4 C1353.0,576.9 1345.1,579.3 1341.0,583.0 C1336.9,586.7 1335.1,591.0 1335.4,595.8 C1335.7,600.6 1338.7,606.7 1342.6,611.8 C1346.5,616.9 1352.4,621.2 1358.6,626.3 C1364.8,631.4 1372.3,637.0 1379.5,642.3 C1386.7,647.6 1397.0,653.8 1401.9,658.3 C1406.8,662.8 1409.6,665.5 1409.1,669.5 C1408.6,673.5 1403.6,677.6 1398.7,682.4 C1393.8,687.2 1386.7,693.6 1379.5,698.4 C1372.3,703.2 1361.8,707.2 1355.4,711.2 C1349.0,715.2 1343.3,719.2 1341.0,722.4 C1338.7,725.6 1341.0,727.3 1341.8,730.5 C1342.6,733.7 1345.9,738.5 1345.8,741.7 C1345.7,744.9 1342.9,747.6 1341.0,749.7 C1339.1,751.8 1338.6,752.4 1334.6,754.5 C1330.6,756.6 1322.1,759.6 1317.0,762.5 C1311.9,765.4 1307.6,768.6 1304.1,772.1 C1300.6,775.6 1299.3,778.9 1296.1,783.4 C1292.9,787.9 1286.8,796.4 1284.9,799.0 L1334.8,799.0 L1334.8,201.9 Z" fill="#008080" clip-path="url(#cb2R)"/>
<clipPath id="cb2A"><rect x="1229.2" y="201.9" width="211.39999999999986" height="597.1"/></clipPath>
<g clip-path="url(#cb2A)">
<path d="M1316.4,201.9 C1317.7,202.8 1321.0,205.3 1324.0,207.2 C1327.0,209.1 1330.9,211.0 1334.7,213.3 C1338.5,215.6 1343.3,217.4 1347.0,221.0 C1350.7,224.6 1356.4,230.6 1356.9,234.7 C1357.4,238.8 1353.7,241.8 1350.0,245.4 C1346.3,249.0 1338.3,253.0 1334.7,256.1 C1331.1,259.2 1330.9,260.5 1328.6,263.8 C1326.3,267.1 1324.6,272.2 1321.0,276.0 C1317.4,279.8 1312.0,282.9 1307.2,286.7 C1302.4,290.5 1296.3,295.1 1292.0,298.9 C1287.7,302.7 1284.1,305.3 1281.3,309.6 C1278.5,313.9 1276.5,320.6 1275.1,324.9 C1273.7,329.2 1272.0,332.3 1272.8,335.6 C1273.6,338.9 1275.0,341.6 1279.7,344.7 C1284.4,347.8 1292.2,350.8 1301.1,353.9 C1310.0,357.0 1325.0,360.3 1333.2,363.1 C1341.4,365.9 1345.4,368.2 1350.0,370.7 C1354.6,373.2 1358.9,375.5 1360.7,378.3 C1362.5,381.1 1361.1,384.2 1360.7,387.5 C1360.3,390.8 1357.9,393.4 1358.4,398.2 C1358.9,403.0 1361.6,410.9 1363.8,416.5 C1366.0,422.1 1369.0,426.7 1371.4,431.8 C1373.8,436.9 1377.3,442.8 1378.3,447.1 C1379.3,451.4 1377.1,454.0 1377.5,457.8 C1377.9,461.6 1377.0,465.9 1380.6,470.0 C1384.2,474.1 1393.3,478.1 1398.9,482.2 C1404.5,486.3 1411.0,491.3 1414.2,494.5 C1417.4,497.7 1417.9,498.5 1418.0,501.2 C1418.1,503.9 1416.6,507.3 1414.7,510.8 C1412.8,514.3 1408.4,517.6 1406.7,522.1 C1405.0,526.6 1405.4,533.3 1404.3,538.1 C1403.2,542.9 1403.6,546.9 1400.3,550.9 C1397.0,554.9 1391.0,558.4 1384.3,562.1 C1377.6,565.9 1367.4,569.9 1360.2,573.4 C1353.0,576.9 1345.1,579.3 1341.0,583.0 C1336.9,586.7 1335.1,591.0 1335.4,595.8 C1335.7,600.6 1338.7,606.7 1342.6,611.8 C1346.5,616.9 1352.4,621.2 1358.6,626.3 C1364.8,631.4 1372.3,637.0 1379.5,642.3 C1386.7,647.6 1397.0,653.8 1401.9,658.3 C1406.8,662.8 1409.6,665.5 1409.1,669.5 C1408.6,673.5 1403.6,677.6 1398.7,682.4 C1393.8,687.2 1386.7,693.6 1379.5,698.4 C1372.3,703.2 1361.8,707.2 1355.4,711.2 C1349.0,715.2 1343.3,719.2 1341.0,722.4 C1338.7,725.6 1341.0,727.3 1341.8,730.5 C1342.6,733.7 1345.9,738.5 1345.8,741.7 C1345.7,744.9 1342.9,747.6 1341.0,749.7 C1339.1,751.8 1338.6,752.4 1334.6,754.5 C1330.6,756.6 1322.1,759.6 1317.0,762.5 C1311.9,765.4 1307.6,768.6 1304.1,772.1 C1300.6,775.6 1299.3,778.9 1296.1,783.4 C1292.9,787.9 1286.8,796.4 1284.9,799.0" fill="none" stroke="#000" stroke-width="2.6"/>
<line x1="1334.8" y1="201.9" x2="1334.8" y2="799.0" stroke="#000" stroke-width="2.4"/>
<line x1="1229.2" y1="500.2" x2="1440.6" y2="500.2" stroke="#000" stroke-width="1.4"/>
</g>
<rect x="1229.2" y="201.9" width="211.39999999999986" height="597.1" fill="none" stroke="#000" stroke-width="2.4"/>
<line x1="106" y1="800.5" x2="106" y2="804.5" stroke="#000" stroke-width="2"/>
<line x1="274.2" y1="800.5" x2="274.2" y2="804.5" stroke="#000" stroke-width="2"/>
<line x1="442.7" y1="800.5" x2="442.7" y2="804.5" stroke="#000" stroke-width="2"/>
<line x1="518.7" y1="800.5" x2="518.7" y2="804.5" stroke="#000" stroke-width="2"/>
<line x1="585.7" y1="800.5" x2="585.7" y2="804.5" stroke="#000" stroke-width="2"/>
<line x1="652.7" y1="800.5" x2="652.7" y2="804.5" stroke="#000" stroke-width="2"/>
<line x1="102" y1="301.8" x2="106" y2="301.8" stroke="#000" stroke-width="2"/>
<line x1="102" y1="501.6" x2="106" y2="501.6" stroke="#000" stroke-width="2"/>
<line x1="102" y1="701.2" x2="106" y2="701.2" stroke="#000" stroke-width="2"/>
<text x="107.6" y="839.5" text-anchor="middle" style="font-family:'Liberation Sans',sans-serif;font-size:32px">−0.05</text>
<text x="273.0" y="839.5" text-anchor="middle" style="font-family:'Liberation Sans',sans-serif;font-size:32px">0.00</text>
<text x="442.3" y="839.5" text-anchor="middle" style="font-family:'Liberation Sans',sans-serif;font-size:32px">0.05</text>
<text x="520.3000000000001" y="839.5" text-anchor="middle" style="font-family:'Liberation Sans',sans-serif;font-size:32px">−50</text>
<text x="587.3000000000001" y="839.5" text-anchor="middle" style="font-family:'Liberation Sans',sans-serif;font-size:32px">0</text>
<text x="654.3000000000001" y="839.5" text-anchor="middle" style="font-family:'Liberation Sans',sans-serif;font-size:32px">50</text>
<text x="82.1" y="312.5" text-anchor="end" style="font-family:'Liberation Sans',sans-serif;font-size:31px">1</text>
<text x="87.2" y="512.5" text-anchor="end" style="font-family:'Liberation Sans',sans-serif;font-size:31px">0</text>
<text x="82.5" y="709.5" text-anchor="end" style="font-family:'Liberation Sans',sans-serif;font-size:31px">−1</text>
<text x="273.7" y="891.5" text-anchor="middle" style="font-family:'Liberation Sans',sans-serif;font-size:32px">DOS (eV × A)<tspan dy="-12" style="font-size:22px">−1</tspan></text>
<text x="593.2" y="885" text-anchor="middle" style="font-family:'Liberation Sans',sans-serif;font-size:31px"><tspan style="font-style:italic">P</tspan><tspan dx="-1.5" dy="8" style="font-size:21px">c</tspan><tspan dy="-8"> (%)</tspan></text>
<text transform="translate(25.5,503) rotate(-90)" text-anchor="middle" style="font-family:'Liberation Sans',sans-serif;font-size:31px"><tspan style="font-style:italic">E</tspan>- <tspan style="font-style:italic">E</tspan><tspan dy="7" style="font-size:21px">f</tspan><tspan dy="-7"> (eV)</tspan></text>
<line x1="855.4" y1="799.0" x2="855.4" y2="803.0" stroke="#000" stroke-width="2"/>
<line x1="1023.8" y1="799.0" x2="1023.8" y2="803.0" stroke="#000" stroke-width="2"/>
<line x1="1192" y1="799.0" x2="1192" y2="803.0" stroke="#000" stroke-width="2"/>
<line x1="1267.8" y1="799.0" x2="1267.8" y2="803.0" stroke="#000" stroke-width="2"/>
<line x1="1334.8" y1="799.0" x2="1334.8" y2="803.0" stroke="#000" stroke-width="2"/>
<line x1="1401.8" y1="799.0" x2="1401.8" y2="803.0" stroke="#000" stroke-width="2"/>
<line x1="851.4" y1="300.9" x2="855.4" y2="300.9" stroke="#000" stroke-width="2"/>
<line x1="851.4" y1="500.2" x2="855.4" y2="500.2" stroke="#000" stroke-width="2"/>
<line x1="851.4" y1="699.4" x2="855.4" y2="699.4" stroke="#000" stroke-width="2"/>
<text x="857.0" y="839.5" text-anchor="middle" style="font-family:'Liberation Sans',sans-serif;font-size:32px">−0.05</text>
<text x="1022.5999999999999" y="839.5" text-anchor="middle" style="font-family:'Liberation Sans',sans-serif;font-size:32px">0.00</text>
<text x="1191.6" y="839.5" text-anchor="middle" style="font-family:'Liberation Sans',sans-serif;font-size:32px">0.05</text>
<text x="1269.3999999999999" y="839.5" text-anchor="middle" style="font-family:'Liberation Sans',sans-serif;font-size:32px">−50</text>
<text x="1336.3999999999999" y="839.5" text-anchor="middle" style="font-family:'Liberation Sans',sans-serif;font-size:32px">0</text>
<text x="1403.3999999999999" y="839.5" text-anchor="middle" style="font-family:'Liberation Sans',sans-serif;font-size:32px">50</text>
<text x="835.6" y="312.5" text-anchor="end" style="font-family:'Liberation Sans',sans-serif;font-size:31px">1</text>
<text x="840.7" y="512.5" text-anchor="end" style="font-family:'Liberation Sans',sans-serif;font-size:31px">0</text>
<text x="836.0" y="709.5" text-anchor="end" style="font-family:'Liberation Sans',sans-serif;font-size:31px">−1</text>
<text x="1023.3" y="891.5" text-anchor="middle" style="font-family:'Liberation Sans',sans-serif;font-size:32px">DOS (eV × A)<tspan dy="-12" style="font-size:22px">−1</tspan></text>
<text x="1342.3" y="885" text-anchor="middle" style="font-family:'Liberation Sans',sans-serif;font-size:31px"><tspan style="font-style:italic">P</tspan><tspan dx="-1.5" dy="8" style="font-size:21px">c</tspan><tspan dy="-8"> (%)</tspan></text>
<text transform="translate(778.0,503) rotate(-90)" text-anchor="middle" style="font-family:'Liberation Sans',sans-serif;font-size:31px"><tspan style="font-style:italic">E</tspan>- <tspan style="font-style:italic">E</tspan><tspan dy="7" style="font-size:21px">f</tspan><tspan dy="-7"> (eV)</tspan></text>
<clipPath id="bsL"><rect x="216.3" y="1145.7" width="523.2" height="807.0999999999999"/></clipPath>
<g clip-path="url(#bsL)">
<path fill="none" stroke="#dadada" stroke-width="1.4" d="M216.6,1458.0 C218.2,1456.4 223.3,1452.6 226.3,1448.2 C229.3,1443.8 232.1,1437.6 234.5,1431.7 C236.9,1425.9 238.6,1419.8 240.7,1413.2 C242.7,1406.7 244.8,1400.2 246.8,1392.7 C248.9,1385.2 250.8,1377.6 253.0,1368.0 C255.2,1358.5 257.9,1345.4 260.2,1335.2 C262.4,1324.9 264.3,1316.3 266.3,1306.4 C268.4,1296.5 270.6,1286.0 272.5,1275.6 C274.4,1265.2 275.9,1254.5 277.6,1243.8 C279.3,1233.0 281.1,1221.3 282.8,1210.9 C284.5,1200.4 286.2,1191.0 287.9,1181.1 C289.6,1171.2 291.9,1157.5 293.0,1151.3 C294.1,1145.1 294.2,1145.3 294.5,1144.1 M317.0,1144.2 C316.4,1146.5 314.7,1153.9 313.8,1158.0 C312.9,1162.2 313.0,1161.7 311.7,1169.1 C310.4,1176.5 308.0,1191.3 306.2,1202.4 C304.3,1213.5 302.5,1224.6 300.6,1235.7 C298.7,1246.8 296.3,1261.2 294.8,1269.3 C293.3,1277.4 292.5,1278.7 291.6,1284.2 C290.6,1289.7 290.5,1293.8 289.1,1302.3 C287.7,1310.7 284.6,1326.9 283.3,1334.9 C281.9,1342.8 283.0,1339.9 281.0,1350.0 C279.1,1360.1 274.9,1378.7 271.5,1395.5 C268.0,1412.3 264.1,1432.5 260.4,1451.0 C256.7,1469.4 252.6,1490.1 249.3,1506.4 C246.0,1522.8 241.9,1542.1 240.4,1549.2 M330.0,1143.9 C329.6,1145.4 328.1,1149.9 327.4,1152.8 C326.6,1155.6 326.2,1158.3 325.6,1161.2 C324.9,1164.1 324.1,1167.1 323.5,1170.1 C322.8,1173.1 322.3,1176.2 321.7,1179.3 C321.1,1182.3 320.4,1185.4 319.7,1188.5 C319.1,1191.7 318.6,1194.8 317.9,1198.0 C317.3,1201.2 316.5,1204.4 315.9,1207.7 C315.2,1210.9 314.7,1214.2 314.1,1217.4 C313.4,1220.6 312.6,1223.9 312.0,1227.1 C311.3,1230.3 310.7,1233.5 310.0,1236.7 C309.4,1239.9 308.9,1243.2 308.2,1246.4 C307.6,1249.6 306.8,1252.7 306.2,1256.0 C305.5,1259.2 304.8,1262.4 304.2,1265.7 C303.6,1268.9 303.2,1271.0 302.4,1275.2 C301.6,1279.5 300.2,1286.0 299.2,1291.2 C298.2,1296.4 297.7,1300.2 296.4,1306.4 C295.2,1312.7 293.2,1321.4 291.6,1328.6 C290.0,1335.9 289.2,1338.8 286.7,1350.0 C284.3,1361.1 280.5,1378.7 277.0,1395.5 C273.6,1412.3 269.6,1432.5 265.9,1451.0 C262.2,1469.4 258.2,1490.1 254.8,1506.4 C251.5,1522.8 247.4,1542.1 246.0,1549.2 M389.6,1145.5 C389.8,1146.4 390.0,1148.3 390.5,1150.4 C390.9,1152.6 391.8,1155.6 392.4,1158.4 C393.0,1161.3 393.6,1164.5 394.2,1167.7 C394.8,1171.0 395.4,1174.1 396.0,1177.7 C396.7,1181.3 397.2,1185.6 398.0,1189.2 C398.7,1192.9 399.6,1196.3 400.5,1199.6 C401.3,1203.0 402.3,1206.3 403.2,1209.3 C404.2,1212.4 405.8,1216.3 406.3,1217.7 M396.3,1145.5 C396.8,1149.2 398.0,1160.6 399.1,1167.7 C400.1,1174.9 401.3,1183.2 402.5,1188.5 C403.7,1193.9 405.7,1197.8 406.3,1199.6 M406.3,1257.9 C405.6,1256.5 403.3,1253.0 401.9,1249.6 C400.4,1246.1 399.1,1241.5 397.7,1237.1 C396.3,1232.7 394.9,1227.6 393.5,1223.2 C392.1,1218.8 390.8,1214.4 389.4,1210.7 C388.0,1207.0 386.6,1203.3 385.2,1201.0 C383.8,1198.7 382.4,1197.3 381.0,1196.9 C379.7,1196.4 378.3,1197.1 376.9,1198.3 C375.5,1199.4 374.0,1201.4 372.7,1203.8 C371.5,1206.2 370.4,1209.6 369.3,1212.8 C368.1,1216.1 367.1,1219.6 365.8,1223.2 C364.5,1226.8 363.0,1231.0 361.6,1234.3 C360.2,1237.7 359.0,1240.6 357.5,1243.3 C356.0,1246.1 353.9,1248.9 352.6,1251.0 C351.3,1253.0 350.9,1253.3 349.8,1255.8 C348.8,1258.4 347.3,1263.3 346.4,1266.2 C345.4,1269.1 345.0,1270.8 344.3,1273.1 C343.6,1275.5 342.9,1277.7 342.2,1280.1 C341.5,1282.5 340.8,1285.2 340.1,1287.7 C339.5,1290.3 339.0,1292.7 338.3,1295.3 C337.7,1298.0 337.0,1301.0 336.4,1303.7 C335.8,1306.3 335.2,1308.6 334.6,1311.3 C334.0,1313.9 333.4,1317.0 332.8,1319.6 C332.2,1322.3 331.5,1324.5 330.8,1327.2 C330.2,1329.9 329.6,1333.0 329.0,1335.8 C328.4,1338.6 328.2,1340.0 327.3,1344.0 C326.4,1348.1 324.7,1354.7 323.5,1360.1 C322.2,1365.6 321.0,1371.3 319.7,1376.8 C318.5,1382.2 317.2,1387.4 315.9,1392.7 C314.6,1398.0 313.3,1403.3 312.0,1408.7 C310.7,1414.0 309.2,1419.5 308.0,1424.9 C306.7,1430.2 305.6,1435.6 304.3,1440.8 C303.1,1446.1 301.9,1451.3 300.6,1456.5 C299.4,1461.7 298.1,1466.7 296.9,1471.8 C295.6,1476.8 294.3,1481.9 293.0,1487.0 C291.7,1492.1 290.4,1497.3 289.1,1502.3 C287.8,1507.2 286.6,1512.0 285.3,1516.8 C284.1,1521.7 282.7,1526.7 281.5,1531.4 C280.2,1536.1 278.5,1542.3 277.7,1545.3 C276.9,1548.2 276.8,1548.6 276.6,1549.2 M352.6,1300.9 C352.2,1301.9 351.0,1305.0 350.3,1307.1 C349.6,1309.2 349.1,1311.1 348.5,1313.4 C347.8,1315.7 347.1,1318.5 346.4,1321.0 C345.7,1323.5 344.9,1326.0 344.3,1328.6 C343.6,1331.2 343.1,1334.0 342.5,1336.7 C341.9,1339.3 341.3,1341.7 340.7,1344.4 C340.1,1347.0 339.4,1349.8 338.7,1352.5 C338.1,1355.2 337.6,1357.9 336.9,1360.5 C336.3,1363.2 335.6,1365.7 335.0,1368.4 C334.4,1371.1 333.8,1374.1 333.2,1376.8 C332.6,1379.4 332.9,1377.6 331.1,1384.4 C329.4,1391.2 325.8,1405.9 322.8,1417.7 C319.8,1429.5 317.0,1440.3 313.1,1455.1 C309.2,1469.9 303.2,1490.7 299.2,1506.4 C295.2,1522.1 290.9,1542.1 289.2,1549.2 M406.3,1289.8 C405.7,1292.6 403.9,1300.2 402.5,1306.4 C401.2,1312.7 399.7,1320.0 398.4,1327.2 C397.1,1334.5 395.5,1346.2 394.9,1350.0 M393.5,1340.0 C392.6,1343.5 390.1,1353.8 388.0,1360.8 C385.9,1367.9 382.9,1376.3 381.0,1382.3 C379.2,1388.3 378.2,1392.1 376.9,1396.6 C375.5,1401.0 374.3,1405.2 373.0,1409.1 C371.7,1412.9 370.5,1416.3 369.3,1419.8 C368.0,1423.2 366.8,1426.3 365.5,1429.9 C364.2,1433.4 362.9,1437.0 361.6,1441.0 C360.3,1444.9 359.0,1449.2 357.7,1453.5 C356.5,1457.7 355.3,1462.0 354.0,1466.5 C352.8,1471.0 351.5,1475.8 350.3,1480.4 C349.0,1484.9 347.7,1489.5 346.4,1494.0 C345.1,1498.4 343.8,1502.7 342.5,1507.1 C341.2,1511.5 340.0,1516.0 338.7,1520.3 C337.5,1524.6 336.2,1528.6 334.9,1532.8 C333.5,1536.9 331.7,1542.5 330.8,1545.3 C329.9,1548.0 329.7,1548.6 329.4,1549.2 M344.8,1549.2 C345.0,1548.1 345.8,1544.9 346.4,1542.5 C347.0,1540.1 347.8,1537.4 348.5,1534.9 C349.1,1532.3 349.6,1529.9 350.3,1527.2 C350.9,1524.6 351.6,1521.7 352.2,1518.9 C352.8,1516.1 353.4,1513.4 354.0,1510.6 C354.7,1507.8 355.4,1505.0 356.1,1502.3 C356.7,1499.5 357.3,1496.9 357.9,1494.2 C358.5,1491.5 359.2,1488.8 359.8,1486.0 C360.5,1483.3 361.0,1480.7 361.6,1478.0 C362.3,1475.3 363.1,1472.5 363.7,1469.7 C364.4,1466.9 364.9,1464.1 365.5,1461.4 C366.2,1458.7 366.9,1456.0 367.6,1453.5 C368.3,1450.9 368.9,1448.4 369.5,1446.1 C370.2,1443.8 370.7,1441.7 371.3,1439.6 C371.9,1437.5 372.6,1435.3 373.1,1433.6 C373.7,1431.9 374.2,1430.8 374.8,1429.5 C375.4,1428.1 376.1,1426.8 376.9,1425.3 C377.7,1423.8 378.7,1422.1 379.7,1420.4 C380.6,1418.8 381.6,1417.2 382.4,1415.6 C383.2,1414.0 383.8,1412.4 384.5,1410.7 C385.2,1409.1 385.9,1407.6 386.6,1405.9 C387.3,1404.1 388.0,1402.3 388.7,1400.3 C389.3,1398.4 389.9,1396.3 390.5,1394.1 C391.1,1391.9 391.5,1389.9 392.1,1387.2 C392.8,1384.5 393.5,1381.1 394.2,1377.9 C394.9,1374.6 395.6,1371.2 396.3,1367.7 C397.0,1364.3 397.7,1360.6 398.4,1357.3 C399.1,1354.1 400.0,1351.3 400.5,1348.3 C400.9,1345.4 400.7,1342.8 401.3,1339.5 C401.8,1336.3 402.9,1331.1 403.9,1328.7 C405.0,1326.2 406.0,1325.7 407.6,1324.8 C409.1,1323.8 411.0,1324.1 413.0,1322.8 C415.0,1321.5 417.4,1319.4 419.5,1316.9 C421.7,1314.4 424.3,1310.6 426.1,1307.8 C427.8,1305.0 429.3,1301.3 430.0,1300.0 M372.0,1549.2 C372.1,1548.6 372.3,1548.0 372.7,1545.3 C373.2,1542.5 374.1,1536.9 374.8,1532.8 C375.5,1528.6 376.2,1524.5 376.9,1520.3 C377.6,1516.1 378.3,1511.9 379.0,1507.5 C379.6,1503.2 380.2,1498.7 380.8,1494.4 C381.3,1490.0 381.8,1485.8 382.4,1481.5 C383.1,1477.1 383.8,1472.7 384.5,1468.3 C385.2,1463.9 385.9,1459.4 386.6,1455.1 C387.3,1450.8 388.0,1446.6 388.7,1442.4 C389.3,1438.2 389.9,1433.9 390.5,1429.9 C391.1,1425.9 391.8,1422.0 392.4,1418.4 C393.0,1414.7 393.6,1411.1 394.2,1408.0 C394.9,1404.8 395.7,1402.0 396.3,1399.4 C396.9,1396.7 397.2,1394.0 397.7,1392.0 C398.2,1390.0 398.4,1389.1 399.1,1387.2 C399.8,1385.2 401.0,1381.7 401.9,1380.2 C402.7,1378.8 404.0,1378.8 404.4,1378.4 C404.7,1378.0 403.4,1378.0 403.9,1377.5 C404.4,1377.1 406.3,1376.2 407.6,1375.6 C408.9,1374.9 410.4,1374.5 411.7,1373.6 C413.1,1372.7 414.4,1371.6 415.6,1370.4 C416.8,1369.2 418.0,1367.6 418.9,1366.4 C419.8,1365.3 420.1,1364.7 420.8,1363.6 C421.6,1362.5 422.4,1361.2 423.2,1359.7 C424.0,1358.2 424.7,1356.5 425.4,1354.7 C426.1,1353.0 426.9,1351.1 427.6,1349.3 C428.4,1347.4 429.2,1345.7 430.0,1343.6 C430.7,1341.6 431.5,1339.4 432.2,1337.1 C432.9,1334.9 433.6,1332.4 434.3,1330.0 C435.0,1327.5 435.7,1325.0 436.5,1322.4 C437.2,1319.8 437.9,1317.4 438.7,1314.6 C439.5,1311.8 440.3,1308.3 441.0,1305.9 C441.8,1303.4 442.7,1301.0 443.0,1300.0 M407.4,1468.3 C406.7,1468.8 404.4,1469.3 403.2,1471.1 C402.1,1472.8 401.3,1476.0 400.5,1478.7 C399.7,1481.4 399.1,1484.3 398.4,1487.0 C397.7,1489.7 397.0,1492.3 396.3,1494.9 C395.6,1497.6 394.9,1500.2 394.2,1503.0 C393.5,1505.7 392.8,1508.5 392.1,1511.3 C391.5,1514.1 391.1,1516.8 390.5,1519.6 C389.9,1522.4 389.3,1525.2 388.7,1527.9 C388.0,1530.7 387.3,1533.5 386.6,1536.3 C385.9,1539.0 385.1,1542.4 384.5,1544.6 C384.0,1546.7 383.5,1548.5 383.3,1549.2 M398.7,1549.2 C398.7,1549.2 398.7,1549.2 398.7,1549.2 M407.4,1430.2 C406.5,1431.3 403.7,1432.9 401.9,1437.1 C400.0,1441.2 398.2,1448.2 396.3,1455.1 C394.5,1462.1 392.6,1470.1 390.8,1478.7 C388.9,1487.2 387.1,1497.2 385.2,1506.4 C383.4,1515.7 381.1,1527.0 379.7,1534.2 C378.2,1541.3 377.0,1546.7 376.4,1549.2 M388.3,1549.2 C388.7,1546.7 389.4,1541.3 390.8,1534.2 C392.1,1527.0 394.5,1514.8 396.3,1506.4 C398.2,1498.1 400.6,1488.8 401.9,1484.2 C403.1,1479.7 403.6,1480.8 403.7,1479.2 C403.8,1477.6 402.0,1476.3 402.6,1474.6 C403.2,1472.8 406.0,1470.1 407.6,1468.7 C409.1,1467.3 410.6,1467.1 411.7,1466.1 C412.9,1465.1 413.5,1463.8 414.3,1462.9 C415.2,1461.9 416.2,1461.3 416.9,1460.3 C417.7,1459.2 418.2,1457.9 418.9,1456.4 C419.6,1454.8 420.4,1453.1 421.1,1451.1 C421.8,1449.2 422.5,1447.0 423.2,1444.9 C423.9,1442.8 424.7,1440.7 425.4,1438.4 C426.1,1436.0 426.9,1433.5 427.6,1430.9 C428.4,1428.4 429.2,1425.8 430.0,1423.1 C430.7,1420.4 431.5,1417.5 432.2,1414.7 C432.9,1411.8 433.6,1408.8 434.3,1405.8 C435.0,1402.8 435.7,1399.7 436.5,1396.4 C437.2,1393.2 437.9,1389.7 438.7,1386.3 C439.5,1382.8 440.3,1379.3 441.0,1375.8 C441.8,1372.3 442.5,1368.7 443.3,1365.1 C444.0,1361.6 444.8,1358.1 445.6,1354.5 C446.4,1350.8 447.2,1346.9 447.9,1343.3 C448.7,1339.6 449.5,1337.2 450.2,1332.6 C450.9,1328.0 451.6,1321.1 452.1,1315.6 C452.7,1310.2 453.2,1302.6 453.4,1300.0 M407.6,1201.0 C408.7,1200.8 411.7,1200.6 413.9,1199.6 C416.1,1198.7 418.5,1197.3 420.8,1195.5 C423.1,1193.6 425.4,1191.3 427.7,1188.5 C430.1,1185.8 432.4,1182.8 434.7,1178.8 C437.0,1174.9 439.8,1169.1 441.6,1165.0 C443.5,1160.8 444.6,1157.0 445.8,1153.9 C446.9,1150.7 448.1,1147.5 448.5,1146.2 M407.6,1249.6 C408.7,1249.3 411.7,1249.3 413.9,1248.2 C416.1,1247.0 418.5,1245.2 420.8,1242.6 C423.1,1240.1 425.4,1236.6 427.7,1232.9 C430.1,1229.2 432.4,1225.5 434.7,1220.4 C437.0,1215.4 439.8,1208.4 441.6,1202.4 C443.5,1196.4 444.5,1190.6 445.8,1184.4 C447.0,1178.1 448.3,1171.3 449.2,1165.0 C450.2,1158.6 451.0,1149.4 451.3,1146.2 M407.6,1262.1 C408.7,1261.7 411.7,1261.4 413.9,1260.0 C416.1,1258.6 418.5,1256.6 420.8,1253.7 C423.1,1250.8 425.2,1247.0 427.7,1242.6 C430.3,1238.2 433.7,1232.5 436.1,1227.4 C438.4,1222.3 439.8,1217.9 441.6,1212.1 C443.5,1206.3 445.5,1199.6 447.2,1192.7 C448.8,1185.8 449.9,1178.3 451.3,1170.5 C452.7,1162.8 454.8,1150.3 455.5,1146.2 M407.6,1271.8 C408.9,1271.3 412.6,1271.1 415.3,1269.0 C417.9,1266.9 420.8,1263.2 423.6,1259.3 C426.4,1255.3 429.4,1250.0 431.9,1245.4 C434.4,1240.8 436.5,1237.1 438.8,1231.5 C441.1,1226.0 443.7,1218.6 445.8,1212.1 C447.9,1205.6 449.7,1199.6 451.3,1192.7 C452.9,1185.8 454.1,1178.3 455.5,1170.5 C456.9,1162.8 458.9,1150.3 459.6,1146.2 M406.9,1287.0 C407.4,1286.9 408.8,1286.7 409.7,1286.3 C410.6,1286.0 411.6,1285.5 412.5,1284.9 C413.4,1284.4 414.3,1283.7 415.3,1282.9 C416.2,1282.0 417.1,1281.1 418.0,1280.1 C419.0,1279.1 420.0,1278.1 420.8,1277.0 C421.6,1276.0 422.1,1275.1 422.9,1273.8 C423.6,1272.6 424.6,1271.1 425.4,1269.7 C426.1,1268.3 426.7,1267.0 427.5,1265.5 C428.2,1264.0 429.0,1262.4 429.8,1260.7 C430.6,1258.9 431.4,1257.0 432.2,1255.1 C432.9,1253.3 433.6,1251.7 434.4,1249.6 C435.2,1247.5 436.0,1244.9 436.8,1242.6 C437.5,1240.3 438.0,1238.5 438.8,1235.7 C439.6,1232.9 440.7,1230.8 441.6,1226.0 C442.5,1221.1 443.5,1212.1 444.4,1206.6 C445.3,1201.0 446.2,1197.3 447.2,1192.7 C448.1,1188.1 448.9,1186.6 449.9,1178.8 C451.0,1171.1 452.8,1151.7 453.4,1146.2 M407.6,1325.2 C408.7,1324.6 411.7,1323.7 413.9,1321.7 C416.1,1319.7 418.5,1316.6 420.8,1313.4 C423.1,1310.1 425.4,1306.4 427.7,1302.3 C430.1,1298.1 432.4,1293.5 434.7,1288.4 C437.0,1283.3 439.3,1278.0 441.6,1271.8 C443.9,1265.5 446.2,1258.6 448.5,1251.0 C450.9,1243.3 453.4,1234.1 455.5,1226.0 C457.6,1217.9 459.2,1211.0 461.0,1202.4 C462.9,1193.9 465.0,1184.0 466.6,1174.7 C468.2,1165.3 470.0,1151.0 470.7,1146.2 M427.0,1350.0 C427.5,1348.9 429.0,1345.4 429.8,1343.2 C430.7,1341.0 431.4,1339.2 432.2,1336.9 C432.9,1334.7 433.7,1332.2 434.4,1329.7 C435.1,1327.3 435.8,1324.9 436.5,1322.4 C437.2,1319.8 437.8,1317.3 438.6,1314.5 C439.3,1311.7 440.1,1308.7 440.9,1305.7 C441.7,1302.8 442.5,1299.8 443.3,1296.7 C444.0,1293.6 444.7,1290.3 445.5,1287.0 C446.3,1283.8 447.1,1280.7 447.9,1277.3 C448.6,1274.0 449.2,1270.5 449.9,1266.9 C450.7,1263.3 451.5,1259.6 452.3,1255.8 C453.1,1252.0 453.8,1247.9 454.5,1244.0 C455.2,1240.2 455.8,1238.2 456.6,1232.6 C457.3,1227.1 458.2,1218.2 458.9,1210.7 C459.7,1203.3 460.3,1193.3 461.0,1187.9 C461.7,1182.4 462.4,1181.5 463.1,1178.1 C463.8,1174.8 464.7,1171.3 465.5,1167.7 C466.2,1164.2 466.9,1160.5 467.7,1156.9 C468.4,1153.3 469.6,1148.0 470.0,1146.2 M473.5,1146.2 C473.4,1149.8 473.0,1159.9 472.8,1167.7 C472.6,1175.6 472.6,1187.0 472.1,1193.4 C471.7,1199.8 470.8,1201.7 470.0,1205.9 C469.3,1210.0 468.4,1214.3 467.7,1218.4 C466.9,1222.4 466.2,1226.3 465.5,1230.2 C464.7,1234.0 463.8,1237.5 463.1,1241.2 C462.4,1244.9 461.7,1248.6 461.0,1252.3 C460.3,1256.0 459.9,1257.9 458.9,1263.4 C458.0,1269.0 456.6,1277.3 455.5,1285.6 C454.3,1294.0 453.3,1303.8 452.0,1313.4 C450.7,1323.0 448.8,1337.1 447.9,1343.2 C446.9,1349.3 446.7,1348.9 446.5,1350.0 M480.4,1146.2 C480.0,1152.1 478.8,1168.8 477.7,1181.6 C476.5,1194.4 475.1,1209.3 473.5,1223.2 C471.9,1237.1 469.8,1251.0 468.0,1264.8 C466.1,1278.7 464.5,1292.2 462.4,1306.4 C460.3,1320.6 456.6,1342.7 455.5,1350.0 M488.8,1146.2 C488.1,1152.1 486.0,1168.8 484.6,1181.6 C483.2,1194.4 482.1,1209.3 480.4,1223.2 C478.8,1237.1 477.2,1251.0 474.9,1264.8 C472.6,1278.7 469.3,1292.2 466.6,1306.4 C463.8,1320.6 459.6,1342.7 458.3,1350.0 M484.6,1146.2 C484.0,1154.4 482.8,1178.0 481.1,1195.5 C479.5,1212.9 477.6,1232.5 474.9,1251.0 C472.2,1269.4 467.7,1289.9 465.2,1306.4 C462.6,1322.9 460.6,1342.7 459.6,1350.0 M537.6,1548.8 C538.3,1547.0 540.5,1541.0 541.7,1537.5 C542.9,1534.1 543.9,1531.4 544.8,1528.3 C545.8,1525.2 546.6,1522.1 547.5,1519.1 C548.4,1516.0 549.1,1512.7 550.0,1509.8 C550.8,1506.9 551.8,1504.3 552.6,1501.6 C553.5,1498.8 554.2,1496.1 555.1,1493.4 C556.0,1490.6 556.9,1487.9 557.8,1485.2 C558.6,1482.4 559.4,1479.7 560.2,1476.9 C561.1,1474.2 561.8,1471.3 562.7,1468.7 C563.6,1466.1 564.6,1463.2 565.4,1461.5 C566.2,1459.8 567.1,1459.0 567.4,1458.4 M661.9,1147.2 C662.3,1149.2 663.6,1155.2 664.4,1159.5 C665.2,1163.8 665.9,1168.2 666.7,1172.9 C667.4,1177.5 668.0,1182.6 668.7,1187.3 C669.5,1191.9 670.4,1196.2 671.2,1200.6 C671.9,1205.1 672.5,1209.6 673.2,1214.0 C673.9,1218.3 674.5,1222.6 675.3,1226.9 C676.0,1231.3 677.0,1235.8 677.7,1240.1 C678.5,1244.3 679.1,1248.4 679.8,1252.6 C680.5,1256.7 681.3,1260.8 682.1,1264.9 C682.9,1269.0 683.8,1273.2 684.5,1277.2 C685.3,1281.2 685.9,1285.0 686.6,1288.9 C687.3,1292.9 688.1,1297.0 688.8,1300.9 C689.6,1304.7 690.2,1308.5 690.9,1312.2 C691.6,1315.8 692.4,1319.2 693.2,1322.8 C693.9,1326.5 694.7,1330.5 695.4,1334.1 C696.1,1337.8 696.7,1341.3 697.5,1344.8 C698.2,1348.3 699.2,1351.7 699.9,1355.1 C700.7,1358.5 701.3,1361.7 702.0,1365.0 C702.7,1368.2 703.5,1371.5 704.3,1374.6 C705.0,1377.8 705.8,1380.9 706.5,1383.9 C707.3,1386.8 708.1,1389.5 708.8,1392.3 C709.5,1395.1 710.1,1397.8 710.8,1400.5 C711.6,1403.2 712.5,1405.9 713.3,1408.5 C714.0,1411.2 714.6,1413.9 715.3,1416.3 C716.1,1418.8 717.0,1420.9 717.8,1423.1 C718.6,1425.3 719.4,1427.7 720.1,1429.7 C720.8,1431.7 721.4,1433.3 722.1,1435.2 C722.9,1437.1 723.8,1439.3 724.6,1441.0 C725.3,1442.7 725.9,1444.1 726.6,1445.5 C727.4,1446.9 728.3,1448.4 729.1,1449.6 C729.9,1450.8 730.6,1451.7 731.4,1452.7 C732.2,1453.6 733.0,1454.6 733.8,1455.4 C734.7,1456.1 735.6,1456.9 736.5,1457.4 C737.4,1457.9 738.9,1458.3 739.4,1458.4 M593.1,1147.2 C593.2,1148.3 592.9,1149.3 593.7,1154.0 C594.6,1158.6 596.4,1168.1 598.2,1174.9 C600.1,1181.8 602.8,1187.4 604.6,1195.1 C606.4,1202.8 607.6,1212.5 609.1,1221.2 C610.6,1229.8 612.2,1238.7 613.6,1247.2 C615.1,1255.8 616.3,1264.2 617.8,1272.5 C619.2,1280.8 620.7,1289.2 622.3,1297.2 C623.8,1305.1 625.5,1312.7 627.0,1320.4 C628.5,1328.1 629.6,1336.0 631.1,1343.4 C632.6,1350.8 634.4,1357.9 635.8,1365.0 C637.3,1372.0 638.5,1378.7 639.9,1385.5 C641.4,1392.4 643.0,1399.4 644.5,1406.1 C646.0,1412.7 647.5,1419.1 649.0,1425.6 C650.5,1432.1 651.8,1438.7 653.3,1445.1 C654.8,1451.5 656.3,1458.0 657.8,1464.2 C659.3,1470.4 660.9,1476.1 662.3,1482.1 C663.8,1488.0 665.2,1494.1 666.7,1499.9 C668.1,1505.8 669.7,1511.3 671.2,1517.0 C672.6,1522.7 673.9,1528.7 675.3,1534.0 C676.7,1539.4 677.9,1543.6 679.4,1548.9 C681.0,1554.2 683.1,1560.2 684.7,1565.8 C686.3,1571.4 687.5,1577.2 688.8,1582.4 C690.2,1587.6 691.6,1592.1 693.0,1597.0 C694.4,1601.8 696.5,1609.1 697.2,1611.5 M630.1,1147.2 C630.6,1150.4 632.1,1159.5 633.4,1166.7 C634.7,1173.9 636.4,1182.5 637.9,1190.3 C639.4,1198.2 641.0,1206.1 642.4,1214.0 C643.9,1221.8 645.0,1229.7 646.5,1237.6 C648.1,1245.5 649.9,1253.2 651.7,1261.2 C653.4,1269.3 655.1,1277.6 656.8,1285.9 C658.5,1294.1 660.2,1302.3 661.9,1310.5 C663.6,1318.7 665.2,1326.8 667.1,1335.2 C668.9,1343.6 671.2,1352.3 673.2,1360.9 C675.3,1369.4 677.3,1378.0 679.4,1386.5 C681.4,1395.1 683.5,1403.7 685.6,1412.2 C687.6,1420.8 689.7,1429.5 691.7,1437.9 C693.8,1446.3 695.8,1454.0 697.9,1462.6 C699.9,1471.1 702.2,1479.7 704.0,1489.3 C705.9,1498.8 707.5,1510.5 709.2,1520.1 C710.9,1529.7 711.9,1538.6 714.1,1546.9 C716.2,1555.2 719.4,1561.6 722.1,1570.0 C724.8,1578.3 727.7,1589.7 730.4,1597.0 C733.2,1604.3 737.4,1610.9 738.8,1613.6 M641.4,1147.2 C641.9,1150.9 643.2,1161.3 644.5,1169.4 C645.7,1177.4 647.5,1186.7 649.0,1195.5 C650.5,1204.3 651.8,1213.3 653.3,1222.2 C654.8,1231.0 656.4,1239.7 657.8,1248.5 C659.3,1257.2 660.6,1265.9 661.9,1274.6 C663.3,1283.2 664.7,1291.9 666.0,1300.2 C667.4,1308.6 668.9,1317.4 670.1,1324.9 C671.4,1332.4 672.1,1335.2 673.6,1345.4 C675.2,1355.7 677.1,1369.4 679.4,1386.5 C681.7,1403.7 684.9,1429.3 687.6,1448.2 C690.4,1467.0 692.4,1482.8 695.8,1499.5 C699.3,1516.3 706.1,1540.6 708.2,1548.8 M599.3,1226.3 C600.1,1229.0 603.1,1235.6 604.4,1242.7 C605.7,1249.8 606.1,1262.7 606.9,1269.0 C607.7,1275.4 608.4,1276.7 609.1,1280.7 C609.8,1284.7 610.5,1288.9 611.2,1293.1 C611.9,1297.2 612.5,1301.4 613.2,1305.4 C614.0,1309.4 615.0,1313.1 615.7,1317.1 C616.5,1321.1 617.1,1325.3 617.8,1329.4 C618.4,1333.5 619.1,1337.7 619.8,1341.7 C620.6,1345.8 621.5,1349.8 622.3,1353.7 C623.0,1357.5 623.6,1361.2 624.3,1365.0 C625.1,1368.7 625.8,1371.0 626.6,1376.3 C627.4,1381.6 628.1,1390.0 629.1,1396.8 C630.0,1403.7 631.1,1410.5 632.1,1417.4 C633.2,1424.2 634.2,1431.1 635.2,1437.9 C636.2,1444.7 637.3,1451.6 638.3,1458.4 C639.3,1465.3 640.4,1472.1 641.4,1479.0 C642.4,1485.8 643.3,1492.7 644.5,1499.5 C645.7,1506.4 647.0,1512.2 648.6,1520.1 C650.2,1528.0 651.6,1537.6 654.1,1546.9 C656.7,1556.3 660.2,1566.1 663.9,1576.2 C667.6,1586.3 671.5,1597.0 676.4,1607.4 C681.2,1617.8 688.1,1628.2 693.0,1638.6 C697.9,1649.0 701.3,1661.8 705.5,1669.8 C709.6,1677.7 714.1,1683.3 718.0,1686.4 C721.8,1689.5 724.9,1688.1 728.4,1688.5 C731.8,1688.8 737.0,1688.5 738.8,1688.5 M570.5,1147.2 C570.7,1149.9 571.0,1157.6 571.5,1163.6 C572.0,1169.6 572.8,1176.8 573.6,1183.1 C574.3,1189.5 575.3,1195.5 576.1,1201.6 C576.8,1207.8 577.4,1214.0 578.1,1220.1 C578.8,1226.3 579.6,1232.6 580.4,1238.6 C581.1,1244.6 581.7,1250.3 582.4,1256.1 C583.2,1261.9 584.1,1267.5 584.9,1273.5 C585.6,1279.5 586.3,1286.4 586.9,1292.0 C587.6,1297.7 588.2,1302.1 589.0,1307.4 C589.7,1312.7 590.7,1318.4 591.5,1323.9 C592.2,1329.4 592.8,1335.0 593.5,1340.3 C594.2,1345.6 595.0,1350.8 595.8,1355.7 C596.6,1360.7 597.5,1365.1 598.2,1370.1 C599.0,1375.1 599.6,1380.6 600.3,1385.5 C601.0,1390.4 601.8,1394.7 602.6,1399.3 C603.3,1403.9 604.3,1408.7 605.0,1413.2 C605.8,1417.8 606.4,1422.1 607.1,1426.6 C607.8,1431.1 608.4,1435.7 609.1,1440.0 C609.9,1444.2 610.8,1448.2 611.6,1452.3 C612.3,1456.4 612.9,1460.5 613.6,1464.6 C614.4,1468.7 615.4,1472.8 616.1,1476.9 C616.9,1481.0 617.5,1485.7 618.2,1489.3 C618.9,1492.9 619.7,1495.3 620.4,1498.5 C621.1,1501.8 621.7,1505.4 622.5,1508.8 C623.2,1512.2 624.2,1515.8 624.9,1519.1 C625.7,1522.3 626.2,1525.2 627.0,1528.3 C627.8,1531.4 628.9,1534.1 629.7,1537.5 C630.5,1541.0 630.5,1544.2 631.7,1548.9 C632.9,1553.6 635.0,1559.5 636.9,1565.8 C638.8,1572.1 641.0,1580.0 643.1,1586.6 C645.2,1593.2 647.3,1599.4 649.3,1605.3 C651.4,1611.2 653.8,1616.4 655.6,1621.9 C657.3,1627.5 658.7,1633.4 659.7,1638.6 C660.8,1643.8 661.1,1647.9 661.8,1653.1 C662.5,1658.3 663.4,1663.9 663.9,1669.8 C664.4,1675.7 664.8,1685.4 664.9,1688.5 M553.0,1147.2 C553.5,1151.5 554.9,1164.9 555.7,1172.9 C556.6,1180.8 557.4,1187.9 558.2,1195.1 C558.9,1202.2 559.5,1208.9 560.2,1215.6 C561.0,1222.4 561.9,1228.9 562.7,1235.5 C563.5,1242.2 564.1,1249.0 564.8,1255.5 C565.4,1262.0 566.1,1268.3 566.8,1274.6 C567.5,1280.8 568.2,1287.1 568.9,1293.1 C569.5,1299.1 570.2,1305.0 570.9,1310.5 C571.6,1316.0 572.1,1317.5 573.0,1325.9 C573.8,1334.3 575.2,1352.1 576.1,1360.9 C576.9,1369.6 577.4,1372.7 578.1,1378.3 C578.8,1384.0 579.6,1389.3 580.4,1394.8 C581.2,1400.2 582.1,1405.7 582.8,1411.2 C583.6,1416.7 584.2,1422.1 584.9,1427.6 C585.6,1433.1 586.2,1438.6 586.9,1444.1 C587.7,1449.5 588.7,1455.0 589.4,1460.5 C590.2,1466.0 590.7,1471.8 591.5,1476.9 C592.2,1482.1 593.0,1486.4 593.7,1491.3 C594.4,1496.3 595.0,1501.8 595.8,1506.7 C596.5,1511.7 597.5,1516.3 598.2,1521.1 C599.0,1525.9 599.7,1530.9 600.3,1535.5 C600.9,1540.1 600.8,1544.5 601.7,1548.9 C602.6,1553.3 604.7,1557.1 605.7,1561.6 C606.7,1566.2 607.0,1572.0 607.7,1576.2 C608.4,1580.4 609.1,1582.8 609.8,1586.6 C610.5,1590.4 611.2,1594.6 611.9,1599.1 C612.6,1603.6 613.3,1608.8 614.0,1613.6 C614.7,1618.5 615.4,1624.0 616.1,1628.2 C616.8,1632.3 617.4,1635.1 618.1,1638.6 C618.8,1642.0 619.4,1645.2 620.2,1649.0 C621.1,1652.8 622.1,1657.3 623.3,1661.5 C624.5,1665.6 626.1,1670.5 627.5,1673.9 C628.9,1677.4 631.0,1680.9 631.7,1682.3 M548.9,1206.8 C549.4,1210.4 551.2,1221.6 552.0,1228.8 C552.9,1235.9 553.4,1243.1 554.1,1249.9 C554.8,1256.8 555.4,1263.2 556.1,1269.8 C556.8,1276.5 557.5,1283.1 558.2,1289.6 C558.9,1296.0 559.5,1302.2 560.2,1308.5 C560.9,1314.7 561.5,1320.9 562.3,1327.0 C563.0,1333.1 564.0,1339.5 564.8,1345.0 C565.5,1350.6 566.3,1355.5 567.0,1360.2 C567.7,1364.9 568.3,1369.6 569.1,1373.2 C569.8,1376.8 570.8,1379.8 571.5,1382.0 C572.3,1384.2 572.8,1384.6 573.6,1386.5 C574.3,1388.5 575.3,1390.8 576.1,1393.7 C576.8,1396.6 577.4,1400.0 578.1,1404.0 C578.8,1408.0 579.6,1412.8 580.4,1417.8 C581.1,1422.7 581.7,1428.4 582.4,1433.8 C583.1,1439.2 583.7,1444.7 584.5,1450.2 C585.2,1455.7 586.3,1461.5 586.9,1466.7 C587.6,1471.8 588.0,1476.2 588.6,1481.0 C589.2,1485.8 590.0,1490.6 590.6,1495.4 C591.3,1500.2 592.0,1505.0 592.7,1509.8 C593.4,1514.6 594.3,1518.0 594.7,1524.2 C595.2,1530.4 594.1,1533.1 595.2,1546.9 C596.3,1560.8 598.7,1586.9 601.5,1607.4 C604.3,1627.9 608.4,1652.4 611.9,1669.8 C615.4,1687.1 618.5,1700.3 622.3,1711.4 C626.1,1722.5 629.9,1729.4 634.8,1736.3 C639.6,1743.3 645.2,1748.5 651.4,1753.0 C657.6,1757.5 664.6,1760.9 672.2,1763.4 C679.8,1765.8 689.5,1767.2 697.2,1767.5 C704.8,1767.9 711.0,1766.1 718.0,1765.4 C724.9,1764.7 735.3,1763.7 738.8,1763.4 M537.6,1147.2 C538.7,1163.1 541.4,1216.5 543.8,1242.7 C546.2,1268.9 549.6,1287.2 552.0,1304.4 C554.4,1321.5 555.4,1328.3 558.2,1345.4 C560.9,1362.6 565.4,1390.0 568.5,1407.1 C571.5,1424.2 573.9,1432.8 576.7,1448.2 C579.4,1463.6 582.7,1483.1 584.9,1499.5 C587.1,1516.0 588.0,1528.9 590.0,1546.9 C592.1,1564.9 594.7,1588.6 597.3,1607.4 C599.9,1626.1 602.9,1643.8 605.7,1659.4 C608.4,1675.0 610.9,1688.8 614.0,1701.0 C617.1,1713.1 620.2,1723.5 624.4,1732.2 C628.5,1740.8 633.0,1746.7 638.9,1753.0 C644.8,1759.2 652.8,1765.8 659.7,1769.6 C666.7,1773.4 672.6,1775.1 680.5,1775.8 C688.5,1776.5 697.9,1774.1 707.6,1773.8 C717.3,1773.4 733.6,1773.8 738.8,1773.8 M542.8,1147.2 C543.8,1163.1 546.7,1216.5 548.9,1242.7 C551.2,1268.9 553.9,1287.2 556.1,1304.4 C558.4,1321.5 559.5,1328.3 562.3,1345.4 C565.0,1362.6 569.1,1390.0 572.6,1407.1 C576.0,1424.2 579.8,1432.8 582.8,1448.2 C585.9,1463.6 588.1,1483.1 591.1,1499.5 C594.0,1516.0 597.6,1532.4 600.4,1546.9 C603.2,1561.4 605.1,1573.0 607.7,1586.6 C610.4,1600.1 612.9,1614.3 616.1,1628.2 C619.2,1642.0 622.6,1657.6 626.5,1669.8 C630.3,1681.9 634.1,1693.0 638.9,1701.0 C643.8,1708.9 649.3,1713.4 655.6,1717.6 C661.8,1721.8 669.4,1723.5 676.4,1725.9 C683.3,1728.3 690.2,1730.8 697.2,1732.2 C704.1,1733.5 711.0,1736.0 718.0,1734.2 C724.9,1732.5 735.3,1723.8 738.8,1721.8 M567.4,1147.2 C567.6,1156.3 567.6,1178.9 568.5,1201.6 C569.3,1224.4 570.8,1259.8 572.6,1283.8 C574.3,1307.8 576.3,1324.9 578.7,1345.4 C581.1,1366.0 583.9,1386.5 586.9,1407.1 C590.0,1427.6 593.8,1451.6 597.2,1468.7 C600.6,1485.8 604.2,1496.8 607.5,1509.8 C610.8,1522.8 615.1,1535.9 616.9,1546.9 C618.7,1558.0 616.5,1564.4 618.1,1576.2 C619.7,1588.0 623.3,1604.6 626.5,1617.8 C629.6,1631.0 632.7,1644.8 636.9,1655.2 C641.0,1665.6 646.2,1674.3 651.4,1680.2 C656.6,1686.1 661.8,1688.5 668.0,1690.6 C674.3,1692.6 681.9,1692.0 688.8,1692.6 C695.8,1693.3 703.7,1693.7 709.6,1694.7 C715.5,1695.8 719.3,1698.4 724.2,1698.9 C729.0,1699.4 736.3,1698.0 738.8,1697.8 M599.3,1147.2 C600.6,1159.7 604.4,1196.0 607.5,1222.2 C610.6,1248.4 613.6,1277.0 617.8,1304.4 C621.9,1331.8 627.7,1362.6 632.1,1386.5 C636.6,1410.5 640.7,1429.3 644.5,1448.2 C648.2,1467.0 650.9,1483.1 654.7,1499.5 C658.6,1516.0 663.6,1533.5 667.6,1546.9 C671.5,1560.4 674.9,1569.2 678.4,1580.4 C682.0,1591.5 685.4,1602.2 688.8,1613.6 C692.3,1625.1 695.8,1637.9 699.2,1649.0 C702.7,1660.1 705.8,1670.5 709.6,1680.2 C713.5,1689.9 717.3,1702.0 722.1,1707.2 C727.0,1712.4 736.0,1710.7 738.8,1711.4 M640.4,1147.2 C641.7,1159.7 645.8,1196.0 648.6,1222.2 C651.3,1248.4 654.1,1280.4 656.8,1304.4 C659.5,1328.3 661.9,1345.4 665.0,1366.0 C668.1,1386.5 671.5,1407.1 675.3,1427.6 C679.1,1448.2 683.2,1469.1 687.6,1489.3 C692.1,1509.5 699.6,1538.9 702.0,1548.8 M408.3,1627.3 C408.8,1626.7 410.2,1625.2 411.1,1623.8 C412.0,1622.5 412.9,1620.6 413.9,1619.0 C414.8,1617.4 415.8,1615.8 416.6,1614.1 C417.5,1612.5 418.0,1611.0 418.7,1609.3 C419.4,1607.5 420.1,1605.6 420.8,1603.7 C421.5,1601.9 422.2,1599.9 422.9,1598.2 C423.6,1596.4 424.2,1595.2 425.0,1593.3 C425.8,1591.5 426.9,1588.9 427.7,1587.1 C428.5,1585.2 429.1,1583.9 429.8,1582.2 C430.5,1580.6 431.2,1579.0 431.9,1577.4 C432.6,1575.8 433.3,1574.1 434.0,1572.5 C434.7,1570.9 435.3,1569.4 436.1,1567.7 C436.9,1565.9 437.9,1564.0 438.8,1562.1 C439.8,1560.3 441.1,1557.5 441.6,1556.6 M531.1,1576.0 C531.5,1574.8 532.9,1571.4 533.8,1569.1 C534.8,1566.7 535.8,1564.2 536.6,1562.1 C537.4,1560.0 538.0,1558.4 538.7,1556.6 C539.4,1554.7 540.1,1553.3 540.8,1551.0 C541.5,1548.7 542.2,1545.4 542.9,1542.7 C543.6,1540.0 544.2,1537.6 544.9,1535.1 C545.6,1532.5 546.3,1530.1 547.0,1527.4 C547.8,1524.8 548.6,1521.9 549.4,1519.1 C550.2,1516.4 551.1,1513.6 551.9,1510.8 C552.6,1508.0 553.2,1505.4 554.0,1502.5 C554.7,1499.6 555.8,1496.0 556.4,1493.5 C557.1,1490.9 557.8,1488.3 558.1,1487.2 M429.1,1487.2 C428.9,1488.2 428.4,1490.3 427.7,1492.8 C427.1,1495.2 426.1,1499.0 425.4,1501.8 C424.6,1504.6 423.9,1507.0 423.3,1509.4 C422.7,1511.8 422.1,1514.2 421.5,1516.4 C420.9,1518.5 420.1,1520.9 419.4,1522.6 C418.7,1524.3 418.0,1525.5 417.3,1526.8 C416.6,1528.0 416.1,1529.0 415.3,1530.2 C414.4,1531.5 413.6,1533.3 412.5,1534.4 C411.3,1535.4 409.7,1535.5 408.3,1536.5 C406.9,1537.4 405.4,1538.5 404.2,1539.9 C402.9,1541.4 401.9,1537.5 401.0,1545.2 C400.2,1553.0 400.0,1572.8 398.9,1586.6 C397.9,1600.4 396.5,1614.3 394.8,1628.1 C393.0,1642.0 391.0,1655.9 388.5,1669.7 C386.1,1683.6 383.3,1698.8 380.2,1711.3 C377.1,1723.8 373.6,1733.5 369.8,1744.6 C366.0,1755.6 362.2,1766.7 357.4,1777.8 C352.5,1788.9 347.0,1801.4 340.7,1811.1 C334.5,1820.8 326.9,1828.4 319.9,1836.0 C313.0,1843.6 302.6,1853.3 299.1,1856.8 M738.8,1917.2 C735.3,1916.9 728.4,1916.5 718.0,1915.2 C707.6,1913.8 690.2,1911.7 676.4,1908.9 C662.5,1906.2 648.6,1902.0 634.8,1898.5 C620.9,1895.1 607.0,1890.9 593.2,1888.1 C579.3,1885.4 564.1,1882.4 551.6,1881.9 C539.1,1881.4 526.3,1884.7 518.4,1885.0 C510.5,1885.4 507.7,1885.1 503.9,1883.8 C500.1,1882.6 498.4,1880.0 495.6,1877.6 C492.9,1875.2 489.7,1872.7 487.3,1869.3 C484.9,1865.8 483.1,1861.7 481.1,1856.8 C479.0,1852.0 476.9,1846.1 474.8,1840.2 C472.8,1834.3 470.7,1827.4 468.6,1821.5 C466.5,1815.6 464.4,1810.0 462.4,1804.8 C460.3,1799.6 458.2,1795.1 456.1,1790.3 C454.0,1785.4 452.3,1780.2 449.9,1775.7 C447.5,1771.2 444.3,1767.1 441.6,1763.3 C438.8,1759.5 436.0,1756.0 433.3,1752.9 C430.5,1749.8 427.7,1747.2 424.9,1744.6 C422.2,1742.0 419.5,1739.2 416.6,1737.3 C413.7,1735.4 413.9,1733.3 407.5,1733.1 C401.1,1733.0 387.5,1733.6 378.1,1736.2 C368.8,1738.8 360.8,1744.9 351.1,1748.7 C341.4,1752.5 330.3,1756.3 319.9,1759.1 C309.5,1761.9 299.1,1764.7 288.8,1765.3 C278.4,1766.0 266.2,1763.3 257.6,1763.3 C248.9,1763.3 243.7,1765.0 236.8,1765.3 C229.9,1765.7 219.5,1765.3 216.0,1765.3 M468.6,1846.4 C467.9,1844.7 465.8,1840.2 464.4,1836.0 C463.1,1831.9 462.0,1826.3 460.3,1821.5 C458.6,1816.6 456.1,1811.8 454.0,1806.9 C452.0,1802.1 449.9,1797.2 447.8,1792.4 C445.7,1787.5 444.0,1782.3 441.6,1777.8 C439.1,1773.3 436.0,1769.5 433.3,1765.3 C430.5,1761.2 427.7,1756.0 424.9,1752.9 C422.2,1749.8 419.5,1748.3 416.6,1746.6 C413.7,1745.0 412.5,1743.3 407.5,1743.0 C402.4,1742.7 394.1,1742.9 386.5,1744.6 C378.8,1746.2 370.9,1749.4 361.5,1752.9 C352.2,1756.3 340.7,1761.9 330.3,1765.3 C319.9,1768.8 309.5,1771.9 299.1,1773.7 C288.8,1775.4 278.4,1775.7 268.0,1775.7 C257.6,1775.7 245.4,1774.0 236.8,1773.7 C228.1,1773.3 219.5,1773.7 216.0,1773.7 M216.0,1919.2 C221.2,1916.4 236.8,1909.5 247.2,1902.5 C257.6,1895.6 268.0,1887.0 278.4,1877.6 C288.8,1868.2 299.1,1856.8 309.5,1846.4 C319.9,1836.0 330.3,1824.6 340.7,1815.2 C351.1,1805.9 360.8,1795.0 371.9,1790.3 C383.0,1785.6 400.0,1786.7 407.5,1787.2 C414.9,1787.7 413.7,1790.8 416.6,1793.4 C419.5,1796.0 422.2,1799.1 424.9,1802.8 C427.7,1806.4 430.5,1810.4 433.3,1815.2 C436.0,1820.1 438.8,1826.7 441.6,1831.9 C444.3,1837.1 447.5,1842.3 449.9,1846.4 C452.3,1850.6 453.5,1853.2 456.1,1856.8 C458.7,1860.4 462.0,1864.8 465.5,1868.2 C468.9,1871.7 473.3,1875.0 476.9,1877.6 C480.6,1880.2 483.8,1882.4 487.3,1883.8 C490.8,1885.2 493.9,1885.6 497.7,1885.9 C501.5,1886.3 506.7,1886.1 510.2,1885.9 C513.6,1885.7 515.4,1885.2 518.5,1884.9 C521.6,1884.5 525.8,1884.2 528.9,1883.8 C532.0,1883.5 535.8,1883.0 537.2,1882.8 M491.5,1891.1 C490.1,1890.9 486.3,1890.9 483.1,1890.1 C480.0,1889.2 476.2,1888.0 472.8,1885.9 C469.3,1883.8 465.1,1880.7 462.4,1877.6 C459.6,1874.5 458.2,1870.3 456.1,1867.2 C454.0,1864.1 452.3,1861.3 449.9,1858.9 C447.5,1856.5 444.3,1854.7 441.6,1852.7 C438.8,1850.6 436.0,1848.5 433.3,1846.4 C430.5,1844.3 427.7,1842.1 424.9,1840.2 C422.2,1838.3 419.5,1836.4 416.6,1835.0 C413.7,1833.6 414.9,1834.1 407.5,1831.9 C400.0,1829.6 383.0,1826.0 371.9,1821.5 C360.8,1817.0 351.1,1811.1 340.7,1804.8 C330.3,1798.6 319.9,1790.6 309.5,1784.1 C299.1,1777.5 287.0,1770.5 278.4,1765.3 C269.7,1760.1 264.5,1756.7 257.6,1752.9 C250.6,1749.1 240.3,1744.2 236.8,1742.5 M487.3,1952.4 C486.6,1951.7 485.6,1951.0 483.1,1948.3 C480.7,1945.5 476.2,1939.6 472.8,1935.8 C469.3,1932.0 465.5,1928.5 462.4,1925.4 C459.2,1922.3 456.8,1919.5 454.0,1917.1 C451.3,1914.7 449.2,1912.9 445.7,1910.9 C442.3,1908.8 437.4,1906.4 433.3,1904.6 C429.1,1902.9 425.1,1902.0 420.8,1900.5 C416.5,1898.9 413.2,1897.0 407.5,1895.3 C401.7,1893.5 394.1,1892.3 386.5,1890.1 C378.8,1887.8 369.1,1885.6 361.5,1881.8 C353.9,1877.9 347.7,1873.1 340.7,1867.2 C333.8,1861.3 326.9,1853.3 319.9,1846.4 C313.0,1839.5 306.1,1832.6 299.1,1825.6 C292.2,1818.7 285.3,1811.8 278.4,1804.8 C271.4,1797.9 264.5,1790.6 257.6,1784.1 C250.6,1777.5 242.0,1769.9 236.8,1765.3 C231.6,1760.8 229.9,1758.8 226.4,1757.0 C222.9,1755.3 217.7,1755.3 216.0,1755.0 M276.3,1549.2 C275.2,1552.7 272.1,1562.7 270.0,1569.9 C268.0,1577.2 265.9,1585.5 263.8,1592.8 C261.7,1600.1 258.6,1610.1 257.6,1613.6 M329.3,1549.2 C328.4,1552.0 326.0,1559.6 324.1,1565.8 C322.2,1572.0 319.9,1580.0 317.9,1586.6 C315.8,1593.2 314.0,1598.4 311.6,1605.3 C309.2,1612.2 306.1,1620.9 303.3,1628.1 C300.5,1635.4 297.8,1642.0 295.0,1648.9 C292.2,1655.9 289.4,1662.8 286.7,1669.7 C283.9,1676.7 280.4,1684.3 278.4,1690.5 C276.3,1696.7 275.4,1700.9 274.2,1707.1 C273.0,1713.4 271.6,1724.5 271.1,1727.9 M382.3,1549.2 C381.6,1552.7 379.5,1563.7 378.1,1569.9 C376.8,1576.2 375.4,1580.7 374.0,1586.6 C372.6,1592.5 371.2,1599.0 369.8,1605.3 C368.4,1611.5 367.1,1618.1 365.7,1624.0 C364.3,1629.9 362.9,1635.8 361.5,1640.6 C360.1,1645.5 359.1,1648.2 357.4,1653.1 C355.6,1657.9 353.2,1664.9 351.1,1669.7 C349.0,1674.6 347.3,1677.7 344.9,1682.2 C342.5,1686.7 339.3,1692.2 336.6,1696.7 C333.8,1701.3 331.0,1705.8 328.3,1709.2 C325.5,1712.7 322.4,1715.1 319.9,1717.5 C317.5,1720.0 314.7,1722.7 313.7,1723.8 M389.6,1549.2 C389.0,1552.7 387.5,1563.7 386.5,1569.9 C385.4,1576.2 384.4,1580.7 383.3,1586.6 C382.3,1592.5 381.3,1599.0 380.2,1605.3 C379.2,1611.5 378.1,1618.1 377.1,1624.0 C376.1,1629.9 375.0,1635.1 374.0,1640.6 C372.9,1646.2 371.9,1651.7 370.9,1657.3 C369.8,1662.8 368.8,1668.3 367.7,1673.9 C366.7,1679.4 365.7,1685.0 364.6,1690.5 C363.6,1696.1 362.6,1701.6 361.5,1707.1 C360.5,1712.7 359.6,1718.2 358.4,1723.8 C357.2,1729.3 355.8,1734.9 354.2,1740.4 C352.7,1745.9 350.9,1751.5 349.0,1757.0 C347.1,1762.6 344.9,1768.1 342.8,1773.7 C340.7,1779.2 338.6,1784.7 336.6,1790.3 C334.5,1795.8 332.4,1802.1 330.3,1806.9 C328.3,1811.8 326.2,1815.2 324.1,1819.4 C322.0,1823.6 318.9,1829.8 317.9,1831.9 M382.3,1632.3 C382.6,1629.9 383.7,1622.6 384.4,1617.8 C385.1,1612.9 385.6,1608.1 386.5,1603.2 C387.3,1598.4 388.5,1593.5 389.6,1588.7 C390.6,1583.8 391.7,1578.6 392.7,1574.1 C393.7,1569.6 394.7,1566.0 395.8,1561.6 C396.9,1557.2 398.3,1551.4 399.5,1547.7 C400.6,1544.1 401.3,1541.7 402.6,1539.7 C404.0,1537.8 406.0,1536.8 407.6,1535.8 C409.1,1534.9 410.6,1534.6 411.7,1533.9 C412.9,1533.1 413.5,1532.2 414.3,1531.3 C415.2,1530.3 415.9,1529.5 416.7,1528.0 C417.4,1526.5 418.2,1524.1 418.9,1522.1 C419.6,1520.2 420.4,1518.5 421.1,1516.3 C421.8,1514.1 422.5,1511.6 423.2,1509.1 C423.9,1506.7 424.7,1504.3 425.4,1501.7 C426.1,1499.0 426.9,1496.1 427.6,1493.2 C428.4,1490.3 429.2,1487.5 430.0,1484.4 C430.7,1481.3 431.5,1477.9 432.2,1474.6 C432.9,1471.3 433.6,1468.2 434.3,1464.8 C435.0,1461.5 435.7,1457.9 436.5,1454.4 C437.2,1450.9 437.9,1447.6 438.7,1444.0 C439.5,1440.4 440.3,1436.5 441.0,1432.9 C441.8,1429.3 442.2,1426.8 443.0,1422.5 C443.8,1418.1 444.5,1413.1 445.6,1406.8 C446.7,1400.5 448.2,1392.7 449.5,1384.7 C450.8,1376.7 452.1,1368.4 453.4,1358.6 C454.7,1348.9 456.2,1335.8 457.3,1326.1 C458.4,1316.3 459.5,1304.3 459.9,1300.0 M388.5,1642.7 C388.0,1644.1 386.5,1648.2 385.4,1651.0 C384.4,1653.8 383.3,1656.2 382.3,1659.3 C381.3,1662.4 380.2,1666.6 379.2,1669.7 C378.1,1672.8 377.1,1674.9 376.1,1678.0 C375.0,1681.2 374.0,1684.8 372.9,1688.4 C371.9,1692.1 370.9,1696.1 369.8,1699.9 C368.8,1703.7 367.7,1707.3 366.7,1711.3 C365.7,1715.3 364.5,1719.6 363.6,1723.8 C362.7,1727.9 362.2,1732.1 361.5,1736.2 C360.8,1740.4 360.3,1744.2 359.4,1748.7 C358.6,1753.2 357.4,1758.1 356.3,1763.3 C355.3,1768.5 354.1,1774.7 353.2,1779.9 C352.3,1785.1 351.8,1788.6 351.1,1794.4 C350.4,1800.3 349.7,1808.3 349.0,1815.2 C348.3,1822.2 347.7,1829.1 347.0,1836.0 C346.3,1843.0 345.6,1850.9 344.9,1856.8 C344.2,1862.7 343.5,1866.2 342.8,1871.4 C342.1,1876.6 341.1,1885.2 340.7,1888.0 M361.5,1852.7 C360.8,1854.4 358.7,1859.6 357.4,1863.0 C356.0,1866.5 354.6,1869.6 353.2,1873.4 C351.8,1877.3 350.8,1881.9 349.0,1885.9 C347.3,1889.9 344.9,1893.9 342.8,1897.3 C340.7,1900.8 338.3,1903.1 336.6,1906.7 C334.8,1910.3 333.8,1915.4 332.4,1919.2 C331.0,1923.0 329.6,1926.4 328.3,1929.6 C326.9,1932.7 325.5,1936.1 324.1,1937.9 C322.7,1939.6 320.6,1939.6 319.9,1940.0 M216.0,1636.5 C218.8,1632.7 227.8,1621.2 232.6,1613.6 C237.5,1606.0 241.6,1598.0 245.1,1590.7 C248.6,1583.5 251.0,1576.9 253.4,1569.9 C255.8,1563.0 258.6,1552.7 259.6,1549.2 M216.0,1680.1 C218.1,1677.7 224.3,1671.5 228.5,1665.6 C232.6,1659.7 236.8,1652.4 240.9,1644.8 C245.1,1637.2 249.3,1628.5 253.4,1619.8 C257.6,1611.2 262.1,1601.8 265.9,1592.8 C269.7,1583.8 273.4,1573.0 276.3,1565.8 C279.1,1558.5 281.8,1552.0 282.9,1549.2 M222.2,1752.9 C224.7,1748.7 231.9,1736.9 236.8,1727.9 C241.6,1718.9 246.5,1708.5 251.3,1698.8 C256.2,1689.1 261.0,1679.4 265.9,1669.7 C270.7,1660.0 275.6,1650.3 280.4,1640.6 C285.3,1630.9 290.5,1620.5 295.0,1611.5 C299.5,1602.5 303.3,1594.9 307.5,1586.6 C311.6,1578.3 316.8,1567.9 319.9,1561.6 C323.0,1555.4 325.1,1551.3 326.1,1549.2 M236.8,1786.1 C239.6,1782.0 247.9,1770.2 253.4,1761.2 C259.0,1752.2 264.5,1741.8 270.0,1732.1 C275.6,1722.4 281.1,1712.7 286.7,1703.0 C292.2,1693.3 297.8,1683.9 303.3,1673.9 C308.9,1663.8 315.1,1652.7 319.9,1642.7 C324.8,1632.7 328.3,1624.3 332.4,1613.6 C336.6,1602.9 341.6,1589.0 344.9,1578.3 C348.2,1567.5 350.9,1554.1 352.1,1549.2 M257.6,1815.2 C261.0,1810.7 271.4,1797.6 278.4,1788.2 C285.3,1778.9 292.9,1768.5 299.1,1759.1 C305.4,1749.8 310.2,1741.4 315.8,1732.1 C321.3,1722.7 326.9,1713.4 332.4,1703.0 C338.0,1692.6 344.2,1681.5 349.0,1669.7 C353.9,1657.9 358.0,1644.1 361.5,1632.3 C365.0,1620.5 367.4,1610.1 369.8,1599.0 C372.3,1588.0 374.5,1574.1 376.1,1565.8 C377.7,1557.5 378.8,1552.0 379.4,1549.2 M278.4,1836.0 C281.8,1832.6 292.2,1822.9 299.1,1815.2 C306.1,1807.6 313.7,1798.6 319.9,1790.3 C326.2,1782.0 331.0,1775.0 336.6,1765.3 C342.1,1755.6 348.3,1742.5 353.2,1732.1 C358.0,1721.7 362.2,1713.4 365.7,1703.0 C369.1,1692.6 371.6,1681.5 374.0,1669.7 C376.4,1657.9 378.5,1644.4 380.2,1632.3 C382.0,1620.2 383.0,1610.8 384.4,1597.0 C385.7,1583.1 387.6,1557.2 388.2,1549.2 M216.0,1684.3 C217.4,1684.6 220.9,1686.7 224.3,1686.4 C227.8,1686.0 227.8,1683.6 236.8,1682.2 C245.8,1680.8 264.5,1679.1 278.4,1678.0 C292.2,1677.0 307.8,1676.7 319.9,1676.0 C332.1,1675.3 342.5,1674.9 351.1,1673.9 C359.8,1672.8 365.0,1672.5 371.9,1669.7 C378.8,1667.0 386.8,1660.7 392.7,1657.3 C398.6,1653.8 404.8,1650.3 407.2,1648.9 M216.0,1698.8 C219.5,1698.8 226.4,1699.0 236.8,1698.8 C247.2,1698.7 264.5,1698.5 278.4,1697.8 C292.2,1697.1 307.8,1695.9 319.9,1694.7 C332.1,1693.5 342.5,1692.6 351.1,1690.5 C359.8,1688.4 365.0,1687.0 371.9,1682.2 C378.8,1677.3 386.8,1667.0 392.7,1661.4 C398.6,1655.9 404.8,1651.0 407.2,1648.9 M216.0,1722.7 C219.5,1722.4 226.4,1720.8 236.8,1720.7 C247.2,1720.5 264.5,1721.9 278.4,1721.7 C292.2,1721.5 307.8,1720.7 319.9,1719.6 C332.1,1718.6 342.5,1717.2 351.1,1715.5 C359.8,1713.7 365.0,1710.3 371.9,1709.2 C378.8,1708.2 386.8,1708.7 392.7,1709.2 C398.6,1709.7 402.1,1709.9 407.5,1712.3 C412.8,1714.8 418.6,1719.1 424.9,1723.8 C431.3,1728.4 438.8,1735.6 445.7,1740.4 C452.7,1745.3 459.6,1749.4 466.5,1752.9 C473.4,1756.3 478.6,1759.1 487.3,1761.2 C496.0,1763.3 513.3,1764.7 518.5,1765.3 M216.0,1752.9 C218.1,1752.5 224.3,1752.2 228.5,1750.8 C232.6,1749.4 236.1,1745.6 240.9,1744.6 C245.8,1743.5 249.6,1744.2 257.6,1744.6 C265.5,1744.9 278.4,1747.0 288.8,1746.6 C299.1,1746.3 309.5,1744.9 319.9,1742.5 C330.3,1740.1 341.4,1734.9 351.1,1732.1 C360.8,1729.3 368.8,1726.5 378.1,1725.9 C387.5,1725.2 398.6,1726.2 407.5,1727.9 C416.3,1729.7 423.8,1732.8 431.2,1736.2 C438.6,1739.7 445.0,1744.2 452.0,1748.7 C458.9,1753.2 465.8,1759.1 472.8,1763.3 C479.7,1767.4 485.8,1771.6 493.5,1773.7 C501.3,1775.7 508.0,1774.7 519.4,1775.8 C530.9,1776.8 548.0,1776.9 562.0,1780.0 C576.0,1783.1 589.7,1788.7 603.6,1794.5 C617.4,1800.4 631.3,1806.7 645.2,1815.3 C659.0,1824.0 674.6,1837.9 686.8,1846.5 C698.9,1855.2 709.3,1863.2 718.0,1867.3 C726.6,1871.5 735.3,1870.8 738.8,1871.5 M216.0,1786.1 C219.5,1786.1 228.1,1785.8 236.8,1786.1 C245.4,1786.5 257.6,1786.8 268.0,1788.2 C278.4,1789.6 288.8,1795.1 299.1,1794.4 C309.5,1793.8 319.9,1788.2 330.3,1784.1 C340.7,1779.9 352.2,1773.3 361.5,1769.5 C370.9,1765.7 378.8,1762.4 386.5,1761.2 C394.1,1760.0 400.0,1760.1 407.5,1762.2 C414.9,1764.3 423.8,1770.0 431.2,1773.7 C438.6,1777.3 445.0,1780.6 452.0,1784.1 C458.9,1787.5 465.8,1792.0 472.8,1794.4 C479.7,1796.9 485.9,1797.2 493.5,1798.6 C501.2,1800.0 508.7,1801.9 518.4,1802.6 C528.1,1803.3 539.1,1801.4 551.6,1802.9 C564.1,1804.3 579.3,1808.1 593.2,1811.2 C607.0,1814.3 620.9,1817.4 634.8,1821.6 C648.6,1825.7 662.5,1833.4 676.4,1836.1 C690.2,1838.9 707.6,1838.2 718.0,1838.2 C728.4,1838.2 735.3,1836.5 738.8,1836.1 M216.0,1794.4 C221.2,1794.4 236.8,1793.8 247.2,1794.4 C257.6,1795.1 268.0,1797.6 278.4,1798.6 C288.8,1799.6 299.1,1801.4 309.5,1800.7 C319.9,1800.0 330.3,1797.2 340.7,1794.4 C351.1,1791.7 360.8,1787.0 371.9,1784.1 C383.0,1781.1 397.6,1777.1 407.5,1776.8 C417.3,1776.4 423.8,1779.0 431.2,1782.0 C438.6,1784.9 445.7,1788.9 452.0,1794.4 C458.2,1800.0 463.7,1809.0 468.6,1815.2 C473.4,1821.5 476.9,1830.8 481.1,1831.9 C485.2,1832.9 489.7,1826.0 493.5,1821.5 C497.4,1817.0 499.8,1809.3 503.9,1804.8 C508.1,1800.3 516.1,1796.2 518.5,1794.4 M216.0,1804.8 C219.5,1806.2 229.9,1811.4 236.8,1813.2 C243.7,1814.9 248.9,1815.6 257.6,1815.2 C266.2,1814.9 278.4,1812.1 288.8,1811.1 C299.1,1810.0 309.5,1810.0 319.9,1809.0 C330.3,1808.0 340.7,1806.2 351.1,1804.8 C361.5,1803.5 372.9,1801.4 382.3,1800.7 C391.7,1800.0 399.3,1799.6 407.5,1800.7 C415.6,1801.7 423.8,1804.5 431.2,1806.9 C438.6,1809.3 445.0,1811.8 452.0,1815.2 C458.9,1818.7 465.8,1825.6 472.8,1827.7 C479.7,1829.8 485.9,1827.7 493.5,1827.7 C501.2,1827.8 508.7,1827.6 518.4,1828.0 C528.1,1828.3 539.1,1828.9 551.6,1829.9 C564.1,1830.9 579.3,1832.3 593.2,1834.1 C607.0,1835.8 620.9,1836.5 634.8,1840.3 C648.6,1844.1 662.5,1852.8 676.4,1856.9 C690.2,1861.1 707.6,1863.2 718.0,1865.3 C728.4,1867.3 735.3,1868.7 738.8,1869.4 M216.0,1836.0 C219.5,1836.4 228.1,1837.4 236.8,1838.1 C245.4,1838.8 257.6,1839.1 268.0,1840.2 C278.4,1841.2 288.8,1843.6 299.1,1844.3 C309.5,1845.0 319.9,1845.7 330.3,1844.3 C340.7,1843.0 351.1,1839.5 361.5,1836.0 C371.9,1832.6 385.1,1826.0 392.7,1823.6 C400.3,1821.1 404.8,1821.8 407.2,1821.5 M216.0,1850.6 C221.2,1850.6 236.8,1849.9 247.2,1850.6 C257.6,1851.3 268.0,1853.3 278.4,1854.7 C288.8,1856.1 299.1,1858.5 309.5,1858.9 C319.9,1859.2 330.3,1858.2 340.7,1856.8 C351.1,1855.4 360.8,1852.0 371.9,1850.6 C383.0,1849.2 397.6,1848.1 407.5,1848.5 C417.3,1848.8 423.8,1850.6 431.2,1852.7 C438.6,1854.7 445.0,1858.5 452.0,1861.0 C458.9,1863.4 465.8,1865.8 472.8,1867.2 C479.7,1868.6 485.9,1868.9 493.5,1869.3 C501.2,1869.6 508.7,1869.3 518.4,1869.3 C528.1,1869.4 539.1,1868.7 551.6,1869.4 C564.1,1870.1 579.3,1871.5 593.2,1873.6 C607.0,1875.7 620.9,1879.5 634.8,1881.9 C648.6,1884.3 662.5,1885.4 676.4,1888.1 C690.2,1890.9 707.6,1896.4 718.0,1898.5 C728.4,1900.6 735.3,1900.3 738.8,1900.6 M216.0,1869.3 C219.5,1869.6 228.1,1870.7 236.8,1871.4 C245.4,1872.1 257.6,1873.4 268.0,1873.4 C278.4,1873.4 288.8,1872.1 299.1,1871.4 C309.5,1870.7 319.9,1870.3 330.3,1869.3 C340.7,1868.2 351.1,1866.5 361.5,1865.1 C371.9,1863.7 385.0,1861.8 392.7,1861.0 C400.4,1860.1 401.1,1858.5 407.5,1859.9 C413.9,1861.3 423.8,1866.3 431.2,1869.3 C438.6,1872.2 445.0,1874.5 452.0,1877.6 C458.9,1880.7 465.8,1885.2 472.8,1888.0 C479.7,1890.8 485.9,1892.4 493.5,1894.2 C501.2,1896.1 508.7,1898.4 518.4,1899.1 C528.1,1899.8 539.1,1897.9 551.6,1898.5 C564.1,1899.1 579.3,1900.6 593.2,1902.7 C607.0,1904.8 620.9,1907.5 634.8,1911.0 C648.6,1914.5 662.5,1920.4 676.4,1923.5 C690.2,1926.6 707.6,1929.0 718.0,1929.7 C728.4,1930.4 735.3,1928.0 738.8,1927.6 M216.0,1877.6 C221.2,1877.9 236.8,1878.3 247.2,1879.7 C257.6,1881.1 268.0,1884.5 278.4,1885.9 C288.8,1887.3 299.1,1888.7 309.5,1888.0 C319.9,1887.3 330.3,1883.8 340.7,1881.8 C351.1,1879.7 360.8,1876.9 371.9,1875.5 C383.0,1874.1 397.6,1873.1 407.5,1873.4 C417.3,1873.8 423.8,1875.5 431.2,1877.6 C438.6,1879.7 445.0,1882.4 452.0,1885.9 C458.9,1889.4 465.8,1894.2 472.8,1898.4 C479.7,1902.5 485.9,1908.4 493.5,1910.9 C501.2,1913.3 508.7,1913.2 518.4,1913.2 C528.1,1913.2 539.1,1912.8 551.6,1911.0 C564.1,1909.2 579.3,1905.5 593.2,1902.7 C607.0,1899.9 620.9,1897.1 634.8,1894.4 C648.6,1891.6 662.5,1888.8 676.4,1886.0 C690.2,1883.3 707.6,1879.5 718.0,1877.7 C728.4,1876.0 735.3,1876.0 738.8,1875.7 M216.0,1898.4 C219.5,1898.4 228.1,1897.7 236.8,1898.4 C245.4,1899.1 257.6,1901.2 268.0,1902.5 C278.4,1903.9 288.8,1906.0 299.1,1906.7 C309.5,1907.4 319.9,1907.0 330.3,1906.7 C340.7,1906.4 351.1,1905.3 361.5,1904.6 C371.9,1903.9 385.0,1902.9 392.7,1902.5 C400.4,1902.2 401.1,1901.9 407.5,1902.5 C413.9,1903.2 423.8,1904.6 431.2,1906.7 C438.6,1908.8 445.0,1912.2 452.0,1915.0 C458.9,1917.8 465.8,1921.3 472.8,1923.3 C479.7,1925.4 485.9,1926.9 493.5,1927.5 C501.2,1928.1 508.7,1928.2 518.4,1927.1 C528.1,1926.1 539.1,1922.7 551.6,1921.4 C564.1,1920.1 579.3,1918.6 593.2,1919.3 C607.0,1920.0 620.9,1922.8 634.8,1925.6 C648.6,1928.3 662.5,1933.5 676.4,1936.0 C690.2,1938.4 707.6,1940.1 718.0,1940.1 C728.4,1940.1 735.3,1936.7 738.8,1936.0 M216.0,1900.5 C219.5,1900.8 229.9,1900.8 236.8,1902.5 C243.7,1904.3 248.9,1908.1 257.6,1910.9 C266.2,1913.6 278.4,1917.4 288.8,1919.2 C299.1,1920.9 309.5,1921.6 319.9,1921.3 C330.3,1920.9 340.7,1918.1 351.1,1917.1 C361.5,1916.1 372.9,1914.8 382.3,1915.0 C391.7,1915.2 399.3,1917.1 407.5,1918.1 C415.6,1919.2 423.8,1920.0 431.2,1921.3 C438.6,1922.5 445.0,1923.3 452.0,1925.4 C458.9,1927.5 465.8,1931.0 472.8,1933.7 C479.7,1936.5 485.9,1940.7 493.5,1942.0 C501.2,1943.4 508.7,1942.7 518.4,1941.7 C528.1,1940.7 539.1,1936.9 551.6,1936.0 C564.1,1935.0 579.3,1935.3 593.2,1936.0 C607.0,1936.7 620.9,1938.4 634.8,1940.1 C648.6,1941.9 662.5,1944.3 676.4,1946.4 C690.2,1948.4 711.0,1951.6 718.0,1952.6 M216.0,1915.0 C221.2,1915.0 236.8,1914.3 247.2,1915.0 C257.6,1915.7 268.0,1917.1 278.4,1919.2 C288.8,1921.3 299.1,1925.4 309.5,1927.5 C319.9,1929.6 330.3,1930.6 340.7,1931.6 C351.1,1932.7 360.8,1933.9 371.9,1933.7 C383.0,1933.6 397.6,1930.6 407.5,1930.6 C417.3,1930.6 423.8,1932.2 431.2,1933.7 C438.6,1935.3 445.0,1937.9 452.0,1940.0 C458.9,1942.0 465.8,1944.3 472.8,1946.2 C479.7,1948.1 490.1,1950.5 493.5,1951.4 M216.0,1925.4 C219.5,1925.4 228.1,1924.4 236.8,1925.4 C245.4,1926.4 257.6,1929.2 268.0,1931.6 C278.4,1934.1 288.8,1937.9 299.1,1940.0 C309.5,1942.0 319.9,1943.1 330.3,1944.1 C340.7,1945.2 351.1,1946.2 361.5,1946.2 C371.9,1946.2 385.1,1944.8 392.7,1944.1 C400.3,1943.4 404.8,1942.4 407.2,1942.0 M216.0,1940.0 C221.2,1940.3 236.8,1941.0 247.2,1942.0 C257.6,1943.1 268.0,1944.8 278.4,1946.2 C288.8,1947.6 299.1,1949.1 309.5,1950.4 C319.9,1951.6 335.5,1953.0 340.7,1953.5 M216.0,1869.3 C219.5,1868.6 229.9,1866.9 236.8,1865.1 C243.7,1863.4 250.6,1861.3 257.6,1858.9 C264.5,1856.5 271.4,1853.3 278.4,1850.6 C285.3,1847.8 292.2,1844.7 299.1,1842.3 C306.1,1839.8 313.0,1837.4 319.9,1836.0 C326.9,1834.6 332.1,1835.0 340.7,1833.9 C349.4,1832.9 360.8,1830.8 371.9,1829.8 C383.0,1828.7 401.4,1828.1 407.2,1827.7 M216.0,1769.5 C219.5,1771.9 229.9,1778.9 236.8,1784.1 C243.7,1789.3 250.6,1794.4 257.6,1800.7 C264.5,1806.9 271.4,1814.9 278.4,1821.5 C285.3,1828.1 292.2,1834.3 299.1,1840.2 C306.1,1846.1 313.0,1852.0 319.9,1856.8 C326.9,1861.7 333.8,1865.8 340.7,1869.3 C347.7,1872.7 354.6,1874.8 361.5,1877.6 C368.4,1880.4 374.7,1884.2 382.3,1885.9 C389.9,1887.6 403.1,1887.6 407.2,1888.0 M216.0,1804.8 C219.5,1806.6 229.9,1810.7 236.8,1815.2 C243.7,1819.7 250.6,1826.3 257.6,1831.9 C264.5,1837.4 271.4,1843.0 278.4,1848.5 C285.3,1854.0 292.2,1859.9 299.1,1865.1 C306.1,1870.3 313.0,1875.5 319.9,1879.7 C326.9,1883.8 332.1,1887.0 340.7,1890.1 C349.4,1893.2 360.8,1896.3 371.9,1898.4 C383.0,1900.5 401.4,1901.9 407.2,1902.5 M216.0,1821.5 C221.2,1823.2 236.8,1827.7 247.2,1831.9 C257.6,1836.0 268.0,1840.5 278.4,1846.4 C288.8,1852.3 299.1,1860.3 309.5,1867.2 C319.9,1874.1 330.3,1882.1 340.7,1888.0 C351.1,1893.9 360.8,1898.7 371.9,1902.5 C383.0,1906.4 401.4,1909.5 407.2,1910.9 M216.0,1848.5 C219.5,1849.9 228.1,1852.7 236.8,1856.8 C245.4,1861.0 257.6,1867.2 268.0,1873.4 C278.4,1879.7 288.8,1887.3 299.1,1894.2 C309.5,1901.2 319.9,1909.1 330.3,1915.0 C340.7,1920.9 351.1,1926.1 361.5,1929.6 C371.9,1933.0 385.1,1934.4 392.7,1935.8 C400.3,1937.2 404.8,1937.5 407.2,1937.9 M216.0,1885.9 C221.2,1886.6 236.8,1888.0 247.2,1890.1 C257.6,1892.1 268.0,1894.9 278.4,1898.4 C288.8,1901.9 299.1,1906.7 309.5,1910.9 C319.9,1915.0 330.3,1919.5 340.7,1923.3 C351.1,1927.1 360.8,1931.0 371.9,1933.7 C383.0,1936.5 395.9,1937.9 407.5,1940.0 C419.1,1942.0 429.0,1944.8 441.6,1946.2 C454.2,1947.6 470.3,1948.1 483.1,1948.3 C496.0,1948.4 512.6,1947.4 518.5,1947.2 M216.0,1946.2 C222.9,1945.9 243.7,1945.5 257.6,1944.1 C271.4,1942.7 285.3,1939.3 299.1,1937.9 C313.0,1936.5 326.9,1935.5 340.7,1935.8 C354.6,1936.1 371.2,1938.2 382.3,1940.0 C393.4,1941.7 403.1,1945.2 407.2,1946.2 M407.7,1648.9 C409.9,1649.3 415.1,1648.9 420.8,1651.0 C426.4,1653.1 434.6,1657.6 441.6,1661.4 C448.5,1665.2 455.4,1670.1 462.4,1673.9 C469.3,1677.7 476.2,1681.5 483.1,1684.3 C490.1,1687.0 498.1,1689.3 503.9,1690.5 C509.8,1691.7 513.9,1691.1 518.4,1691.5 C522.9,1691.8 525.3,1693.5 530.8,1692.6 C536.3,1691.8 544.7,1688.1 551.6,1686.4 C558.5,1684.7 565.5,1682.3 572.4,1682.3 C579.3,1682.3 589.7,1685.7 593.2,1686.4 M407.7,1655.2 C411.6,1656.2 423.8,1658.3 431.2,1661.4 C438.6,1664.5 445.0,1669.0 452.0,1673.9 C458.9,1678.7 465.8,1685.7 472.8,1690.5 C479.7,1695.4 485.9,1700.1 493.5,1703.0 C501.2,1705.8 512.2,1706.5 518.4,1707.6 C524.6,1708.6 525.3,1708.3 530.8,1709.3 C536.3,1710.3 544.7,1712.1 551.6,1713.4 C558.5,1714.8 565.5,1715.9 572.4,1717.6 C579.3,1719.3 587.6,1721.4 593.2,1723.8 C598.7,1726.3 603.6,1730.8 605.7,1732.2 M407.7,1661.4 C409.9,1662.8 415.1,1665.6 420.8,1669.7 C426.4,1673.9 434.6,1680.8 441.6,1686.4 C448.5,1691.9 455.4,1699.2 462.4,1703.0 C469.3,1706.8 476.2,1708.2 483.1,1709.2 C490.1,1710.3 498.0,1709.7 503.9,1709.2 C509.8,1708.7 516.1,1706.6 518.5,1706.1 M518.5,1732.1 C514.3,1731.4 501.2,1730.0 493.5,1727.9 C485.9,1725.9 479.7,1723.1 472.8,1719.6 C465.8,1716.1 458.9,1711.3 452.0,1707.1 C445.0,1703.0 438.6,1697.4 431.2,1694.7 C423.8,1691.9 419.1,1690.5 407.5,1690.5 C395.9,1690.5 374.4,1691.9 361.5,1694.7 C348.7,1697.4 340.7,1701.6 330.3,1707.1 C319.9,1712.7 309.5,1720.3 299.1,1727.9 C288.8,1735.6 278.4,1745.3 268.0,1752.9 C257.6,1760.5 245.4,1768.5 236.8,1773.7 C228.1,1778.9 219.5,1782.3 216.0,1784.1 M738.8,1763.4 C731.8,1763.4 711.0,1763.0 697.2,1763.4 C683.3,1763.7 669.4,1766.1 655.6,1765.4 C641.7,1764.7 627.8,1760.6 614.0,1759.2 C600.1,1757.8 584.5,1756.4 572.4,1757.1 C560.3,1757.8 550.2,1762.4 541.2,1763.4 C532.2,1764.3 524.6,1762.9 518.4,1762.5 C512.2,1762.2 509.8,1763.1 503.9,1761.2 C498.1,1759.2 490.1,1754.6 483.1,1750.8 C476.2,1747.0 469.3,1743.2 462.4,1738.3 C455.4,1733.5 448.5,1726.9 441.6,1721.7 C434.6,1716.5 426.5,1710.6 420.8,1707.1 C415.1,1703.7 415.6,1701.6 407.5,1700.9 C399.3,1700.2 383.0,1699.2 371.9,1703.0 C360.8,1706.8 351.1,1715.5 340.7,1723.8 C330.3,1732.1 319.9,1742.8 309.5,1752.9 C299.1,1762.9 288.8,1774.7 278.4,1784.1 C268.0,1793.4 257.6,1802.1 247.2,1809.0 C236.8,1815.9 221.2,1822.9 216.0,1825.6 M407.7,1752.9 C409.9,1754.3 415.1,1757.7 420.8,1761.2 C426.4,1764.7 434.6,1770.2 441.6,1773.7 C448.5,1777.1 455.4,1779.9 462.4,1782.0 C469.3,1784.1 476.2,1784.7 483.1,1786.1 C490.1,1787.5 498.1,1789.0 503.9,1790.3 C509.8,1791.6 510.5,1794.1 518.4,1794.1 C526.3,1794.1 539.1,1790.3 551.6,1790.4 C564.1,1790.5 579.3,1792.1 593.2,1794.5 C607.0,1797.0 620.9,1801.5 634.8,1804.9 C648.6,1808.4 664.2,1814.0 676.4,1815.3 C688.5,1816.7 697.2,1815.0 707.6,1813.3 C718.0,1811.5 733.6,1806.3 738.8,1804.9 M738.8,1873.6 C735.3,1874.3 728.4,1877.7 718.0,1877.7 C707.6,1877.7 690.2,1876.3 676.4,1873.6 C662.5,1870.8 648.6,1864.6 634.8,1861.1 C620.9,1857.6 607.0,1855.2 593.2,1852.8 C579.3,1850.3 564.1,1847.0 551.6,1846.5 C539.1,1846.1 528.1,1850.2 518.4,1850.2 C508.7,1850.2 501.2,1847.7 493.5,1846.4 C485.9,1845.1 479.7,1844.0 472.8,1842.3 C465.8,1840.5 458.9,1839.5 452.0,1836.0 C445.0,1832.6 438.6,1825.1 431.2,1821.5 C423.8,1817.8 417.3,1814.9 407.5,1814.2 C397.6,1813.5 383.0,1817.5 371.9,1817.3 C360.8,1817.1 351.1,1813.5 340.7,1813.2 C330.3,1812.8 318.2,1813.9 309.5,1815.2 C300.9,1816.6 295.7,1822.2 288.8,1821.5 C281.8,1820.8 274.6,1813.9 268.0,1811.1 C261.4,1808.3 255.1,1804.1 249.3,1804.8 C243.4,1805.5 238.2,1814.2 232.6,1815.2 C227.1,1816.3 218.8,1811.8 216.0,1811.1 M518.5,1885.9 C514.3,1885.6 502.9,1883.8 493.5,1883.8 C484.2,1883.8 472.8,1885.2 462.4,1885.9 C452.0,1886.6 440.3,1888.0 431.2,1888.0 C422.0,1888.0 415.6,1885.9 407.5,1885.9 C399.3,1885.9 391.3,1886.6 382.3,1888.0 C373.3,1889.4 362.2,1892.5 353.2,1894.2 C344.2,1896.0 336.6,1898.4 328.3,1898.4 C319.9,1898.4 311.6,1897.0 303.3,1894.2 C295.0,1891.5 286.0,1884.5 278.4,1881.8 C270.7,1879.0 264.5,1877.3 257.6,1877.6 C250.6,1877.9 243.7,1883.1 236.8,1883.8 C229.9,1884.5 219.5,1882.1 216.0,1881.8 M407.7,1790.3 C411.6,1791.0 422.1,1791.0 431.2,1794.4 C440.3,1797.9 453.0,1806.9 462.4,1811.1 C471.7,1815.2 478.0,1818.7 487.3,1819.4 C496.6,1820.1 507.7,1816.1 518.4,1815.1 C529.1,1814.1 539.1,1812.5 551.6,1813.3 C564.1,1814.0 579.3,1815.7 593.2,1819.5 C607.0,1823.3 620.9,1830.6 634.8,1836.1 C648.6,1841.7 662.5,1848.6 676.4,1852.8 C690.2,1856.9 707.6,1859.7 718.0,1861.1 C728.4,1862.5 735.3,1861.1 738.8,1861.1 M583.5,1549.2 C585.1,1558.9 590.2,1590.8 593.2,1607.4 C596.2,1624.0 598.7,1635.1 601.5,1649.0 C604.3,1662.8 607.0,1678.4 609.8,1690.6 C612.6,1702.7 615.4,1713.1 618.1,1721.8 C620.9,1730.4 623.0,1735.6 626.5,1742.6 C629.9,1749.5 634.1,1757.1 638.9,1763.4 C643.8,1769.6 649.3,1775.8 655.6,1780.0 C661.8,1784.2 669.4,1786.6 676.4,1788.3 C683.3,1790.0 690.2,1790.4 697.2,1790.4 C704.1,1790.4 711.0,1789.0 718.0,1788.3 C724.9,1787.6 735.3,1786.6 738.8,1786.2 M627.3,1549.2 C628.2,1553.7 630.1,1564.8 632.7,1576.2 C635.3,1587.6 639.3,1605.0 643.1,1617.8 C646.9,1630.6 651.4,1643.1 655.6,1653.1 C659.7,1663.2 663.9,1672.2 668.0,1678.1 C672.2,1684.0 675.7,1686.8 680.5,1688.5 C685.4,1690.2 690.9,1688.8 697.2,1688.5 C703.4,1688.1 711.0,1687.1 718.0,1686.4 C724.9,1685.7 735.3,1684.7 738.8,1684.3 M694.4,1549.2 C695.6,1552.7 698.1,1562.0 701.3,1570.0 C704.5,1577.9 709.6,1589.0 713.8,1597.0 C718.0,1605.0 722.1,1612.6 726.3,1617.8 C730.4,1623.0 736.7,1626.4 738.8,1628.2 M518.3,1750.7 C523.9,1750.5 539.1,1750.5 551.6,1749.8 C564.1,1749.2 579.3,1746.2 593.2,1746.7 C607.0,1747.2 620.9,1750.2 634.8,1753.0 C648.6,1755.7 662.5,1763.4 676.4,1763.4 C690.2,1763.4 707.6,1755.0 718.0,1753.0 C728.4,1750.9 735.3,1751.2 738.8,1750.9 M572.4,1732.2 C575.9,1732.9 586.3,1732.9 593.2,1736.3 C600.1,1739.8 607.0,1746.7 614.0,1753.0 C620.9,1759.2 627.8,1766.8 634.8,1773.8 C641.7,1780.7 648.6,1789.3 655.6,1794.5 C662.5,1799.7 669.4,1803.9 676.4,1804.9 C683.3,1806.0 690.2,1802.5 697.2,1800.8 C704.1,1799.1 711.0,1797.0 718.0,1794.5 C724.9,1792.1 735.3,1787.6 738.8,1786.2 M530.8,1784.2 C537.7,1784.5 558.5,1782.8 572.4,1786.2 C586.3,1789.7 600.1,1798.4 614.0,1804.9 C627.8,1811.5 641.7,1819.8 655.6,1825.7 C669.4,1831.6 683.3,1837.5 697.2,1840.3 C711.0,1843.1 731.8,1842.0 738.8,1842.4 M551.6,1736.3 C556.8,1736.7 574.1,1736.7 582.8,1738.4 C591.4,1740.1 596.6,1741.5 603.6,1746.7 C610.5,1751.9 617.4,1761.6 624.4,1769.6 C631.3,1777.6 638.2,1786.9 645.2,1794.5 C652.1,1802.2 659.0,1808.4 666.0,1815.3 C672.9,1822.3 678.1,1829.2 686.8,1836.1 C695.4,1843.1 709.3,1852.8 718.0,1856.9 C726.6,1861.1 735.3,1860.4 738.8,1861.1 M603.6,1690.6 C606.0,1697.5 612.9,1718.3 618.1,1732.2 C623.3,1746.0 628.5,1759.9 634.8,1773.8 C641.0,1787.6 648.6,1803.2 655.6,1815.3 C662.5,1827.5 669.4,1837.9 676.4,1846.5 C683.3,1855.2 690.2,1860.7 697.2,1867.3 C704.1,1873.9 711.0,1880.8 718.0,1886.0 C724.9,1891.2 735.3,1896.4 738.8,1898.5 M609.8,1669.8 C612.6,1678.4 620.2,1704.4 626.5,1721.8 C632.7,1739.1 640.3,1758.2 647.3,1773.8 C654.2,1789.3 660.4,1801.5 668.0,1815.3 C675.7,1829.2 684.7,1844.8 693.0,1856.9 C701.3,1869.1 710.3,1880.5 718.0,1888.1 C725.6,1895.8 735.3,1900.3 738.8,1902.7 M597.3,1628.2 C600.1,1638.6 607.7,1669.8 614.0,1690.6 C620.2,1711.4 627.1,1733.9 634.8,1753.0 C642.4,1772.0 651.1,1789.3 659.7,1804.9 C668.4,1820.5 677.8,1832.7 686.8,1846.5 C695.8,1860.4 705.1,1876.0 713.8,1888.1 C722.5,1900.3 734.6,1914.1 738.8,1919.3 M634.8,1815.3 C638.2,1822.3 648.6,1844.8 655.6,1856.9 C662.5,1869.1 669.4,1879.5 676.4,1888.1 C683.3,1896.8 690.2,1903.7 697.2,1908.9 C704.1,1914.1 711.0,1917.2 718.0,1919.3 C724.9,1921.4 735.3,1921.1 738.8,1921.4 M614.0,1856.9 C617.4,1860.4 627.8,1870.8 634.8,1877.7 C641.7,1884.7 648.6,1891.6 655.6,1898.5 C662.5,1905.5 669.4,1912.4 676.4,1919.3 C683.3,1926.3 692.0,1934.6 697.2,1940.1 C702.4,1945.7 705.8,1950.5 707.6,1952.6 M400.0,1443.3 C400.7,1441.8 402.6,1436.4 403.9,1434.2 C405.2,1432.0 406.0,1431.3 407.6,1430.3 C409.1,1429.3 411.0,1429.9 413.0,1428.3 C415.0,1426.8 417.4,1424.3 419.5,1421.2 C421.7,1418.0 423.9,1414.0 426.1,1409.4 C428.2,1404.9 430.4,1399.9 432.6,1393.8 C434.7,1387.7 436.9,1380.8 439.1,1373.0 C441.3,1365.1 443.4,1356.5 445.6,1346.9 C447.8,1337.4 450.6,1323.5 452.1,1315.6 C453.6,1307.8 454.3,1302.6 454.7,1300.0 M400.0,1492.8 C400.7,1490.9 402.6,1483.7 403.9,1481.1 C405.2,1478.5 406.0,1478.2 407.6,1477.2 C409.1,1476.2 411.0,1476.8 413.0,1475.2 C415.0,1473.7 417.4,1471.2 419.5,1468.1 C421.7,1464.9 423.9,1460.9 426.1,1456.4 C428.2,1451.8 430.4,1446.8 432.6,1440.7 C434.7,1434.6 436.9,1428.1 439.1,1419.9 C441.3,1411.6 443.4,1401.4 445.6,1391.2 C447.8,1381.0 450.2,1369.5 452.1,1358.6 C454.1,1347.8 455.6,1335.8 457.3,1326.1 C459.1,1316.3 461.7,1304.3 462.5,1300.0 M216.0,1856.8 C221.2,1853.3 236.8,1844.7 247.2,1836.0 C257.6,1827.4 268.0,1815.2 278.4,1804.8 C288.8,1794.4 299.1,1784.1 309.5,1773.7 C319.9,1763.3 330.3,1752.2 340.7,1742.5 C351.1,1732.8 360.8,1722.0 371.9,1715.5 C383.0,1708.9 401.4,1705.1 407.2,1703.0 M216.0,1888.0 C221.2,1884.9 236.8,1877.3 247.2,1869.3 C257.6,1861.3 268.0,1850.9 278.4,1840.2 C288.8,1829.4 299.1,1816.6 309.5,1804.8 C319.9,1793.1 330.3,1779.9 340.7,1769.5 C351.1,1759.1 360.8,1748.7 371.9,1742.5 C383.0,1736.2 401.4,1733.8 407.2,1732.1 M216.0,1940.0 C222.9,1937.5 243.7,1932.3 257.6,1925.4 C271.4,1918.5 287.0,1908.1 299.1,1898.4 C311.3,1888.7 319.9,1876.9 330.3,1867.2 C340.7,1857.5 351.1,1846.8 361.5,1840.2 C371.9,1833.6 385.1,1830.1 392.7,1827.7 C400.3,1825.3 404.8,1826.0 407.2,1825.6 M236.8,1953.5 C243.7,1949.5 266.2,1937.0 278.4,1929.6 C290.5,1922.1 299.1,1916.7 309.5,1908.8 C319.9,1900.8 330.3,1889.7 340.7,1881.8 C351.1,1873.8 360.8,1865.1 371.9,1861.0 C383.0,1856.8 401.4,1857.5 407.2,1856.8 M278.4,1953.5 C283.6,1950.5 299.1,1942.2 309.5,1935.8 C319.9,1929.4 330.3,1921.3 340.7,1915.0 C351.1,1908.8 360.8,1901.9 371.9,1898.4 C383.0,1894.9 401.4,1894.9 407.2,1894.2 M216.0,1906.7 C219.5,1907.4 229.9,1911.6 236.8,1910.9 C243.7,1910.2 250.6,1902.5 257.6,1902.5 C264.5,1902.5 271.4,1908.1 278.4,1910.9 C285.3,1913.6 292.2,1918.5 299.1,1919.2 C306.1,1919.9 313.0,1917.1 319.9,1915.0 C326.9,1912.9 333.8,1909.5 340.7,1906.7 C347.7,1903.9 354.6,1900.1 361.5,1898.4 C368.4,1896.7 374.7,1896.3 382.3,1896.3 C389.9,1896.3 403.1,1898.0 407.2,1898.4 M216.0,1931.6 C220.2,1931.3 232.6,1928.9 240.9,1929.6 C249.3,1930.3 257.6,1935.5 265.9,1935.8 C274.2,1936.1 282.5,1933.4 290.8,1931.6 C299.1,1929.9 307.5,1927.5 315.8,1925.4 C324.1,1923.3 331.4,1920.2 340.7,1919.2 C350.1,1918.1 360.8,1918.8 371.9,1919.2 C383.0,1919.5 401.4,1920.9 407.2,1921.3 M216.0,1898.4 C221.2,1900.5 236.8,1906.0 247.2,1910.9 C257.6,1915.7 268.0,1922.6 278.4,1927.5 C288.8,1932.3 299.1,1936.5 309.5,1940.0 C319.9,1943.4 330.3,1946.0 340.7,1948.3 C351.1,1950.5 366.7,1952.6 371.9,1953.5 M216.0,1869.3 C221.2,1872.1 236.8,1879.7 247.2,1885.9 C257.6,1892.1 268.0,1900.5 278.4,1906.7 C288.8,1912.9 299.1,1918.5 309.5,1923.3 C319.9,1928.2 330.3,1932.3 340.7,1935.8 C351.1,1939.3 360.8,1942.4 371.9,1944.1 C383.0,1945.9 401.4,1945.9 407.2,1946.2 M216.0,1952.4 C221.2,1950.4 236.8,1946.2 247.2,1940.0 C257.6,1933.7 268.0,1924.0 278.4,1915.0 C288.8,1906.0 299.1,1895.6 309.5,1885.9 C319.9,1876.2 330.3,1865.1 340.7,1856.8 C351.1,1848.5 360.8,1840.2 371.9,1836.0 C383.0,1831.9 401.4,1832.6 407.2,1831.9 M257.6,1953.5 C262.8,1947.8 278.4,1931.8 288.8,1919.2 C299.1,1906.5 309.5,1890.8 319.9,1877.6 C330.3,1864.4 340.7,1850.6 351.1,1840.2 C361.5,1829.8 372.9,1820.8 382.3,1815.2 C391.7,1809.7 403.1,1808.3 407.2,1806.9 M593.2,1888.1 C600.1,1886.4 620.9,1880.2 634.8,1877.7 C648.6,1875.3 662.5,1874.6 676.4,1873.6 C690.2,1872.5 707.6,1871.7 718.0,1871.5 C728.4,1871.3 735.3,1872.4 738.8,1872.5 M572.4,1919.3 C579.3,1917.6 600.1,1912.4 614.0,1908.9 C627.8,1905.5 641.7,1900.6 655.6,1898.5 C669.4,1896.4 683.3,1896.4 697.2,1896.4 C711.0,1896.4 731.8,1898.2 738.8,1898.5 M551.6,1856.9 C558.5,1857.6 579.3,1859.0 593.2,1861.1 C607.0,1863.2 620.9,1867.3 634.8,1869.4 C648.6,1871.5 662.5,1872.9 676.4,1873.6 C690.2,1874.3 707.6,1873.7 718.0,1873.6 C728.4,1873.4 735.3,1872.7 738.8,1872.5 M614.0,1950.5 C620.9,1947.0 643.4,1935.6 655.6,1929.7 C667.7,1923.8 676.4,1919.3 686.8,1915.2 C697.2,1911.0 709.3,1906.8 718.0,1904.8 C726.6,1902.7 735.3,1903.0 738.8,1902.7 M634.8,1960.1 C640.0,1956.8 655.6,1946.9 666.0,1940.1 C676.4,1933.3 688.5,1924.5 697.2,1919.3 C705.8,1914.1 711.0,1911.7 718.0,1908.9 C724.9,1906.2 735.3,1903.7 738.8,1902.7 M530.8,1815.3 C537.7,1817.1 558.5,1821.6 572.4,1825.7 C586.3,1829.9 600.1,1835.1 614.0,1840.3 C627.8,1845.5 641.7,1852.1 655.6,1856.9 C669.4,1861.8 683.3,1867.0 697.2,1869.4 C711.0,1871.8 731.8,1871.1 738.8,1871.5 M518.3,1837.0 C523.9,1837.5 539.1,1837.7 551.6,1840.3 C564.1,1842.9 579.3,1847.9 593.2,1852.8 C607.0,1857.6 620.9,1863.9 634.8,1869.4 C648.6,1875.0 662.5,1881.2 676.4,1886.0 C690.2,1890.9 707.6,1895.9 718.0,1898.5 C728.4,1901.1 735.3,1901.1 738.8,1901.6 M655.6,1960.1 C659.0,1956.8 669.4,1945.9 676.4,1940.1 C683.3,1934.4 690.2,1929.7 697.2,1925.6 C704.1,1921.4 711.0,1917.6 718.0,1915.2 C724.9,1912.7 735.3,1911.7 738.8,1911.0"/>
<g fill="none" stroke="#4682b4" stroke-linecap="round" stroke-linejoin="round">
<path stroke-width="0.8" d="M540.8 1696.0h0M542.9 1694.9h0M540.8 1697.0h0M542.9 1696.0h0M536.7 1769.1h0M538.8 1768.6h0M544.9 1935.1h0"/>
<path stroke-width="1.0" d="M465.2 1755.3h0M467.2 1756.2h0M428.4 1910.8h0M426.4 1951.4h0M534.7 1699.0h0M536.7 1698.0h0M538.8 1697.0h0M536.7 1883.3h0M538.8 1883.0h0M271.4 1726.0h0M536.7 1699.0h0M538.8 1698.0h0M532.6 1770.2h0M534.7 1769.7h0M604.3 1919.8h0M528.5 1951.6h0"/>
<path stroke-width="1.2" d="M442.7 1217.9h0M444.8 1204.4h0M446.8 1194.4h0M448.9 1185.3h0M450.9 1170.6h0M452.9 1150.8h0M487.7 1688.9h0M426.4 1678.4h0M544.9 1683.9h0M428.4 1679.7h0M469.3 1757.0h0M471.3 1757.9h0M538.8 1767.6h0M534.7 1883.1h0M536.7 1882.9h0M385.6 1913.7h0M426.4 1910.9h0M426.4 1910.6h0M491.7 1888.5h0M602.3 1920.1h0M526.5 1943.2h0M544.9 1934.0h0M497.9 1950.8h0M424.3 1951.4h0M442.7 1719.8h0M528.5 1702.2h0M530.6 1701.2h0M532.6 1700.1h0M559.3 1717.5h0M530.6 1884.0h0M532.6 1883.8h0M534.7 1883.5h0M273.4 1711.8h0M316.2 1721.2h0M314.2 1723.3h0M320.3 1827.0h0M318.3 1831.0h0M532.6 1701.1h0M534.7 1700.1h0M528.5 1771.2h0M530.6 1770.7h0M602.3 1920.6h0M524.4 1944.6h0M542.9 1936.2h0M526.5 1951.6h0M448.9 1338.9h0"/>
<path stroke-width="1.4" d="M549.0 1207.4h0M551.1 1221.5h0M485.6 1688.6h0M424.3 1677.8h0M350.9 1764.3h0M352.9 1758.6h0M473.4 1758.8h0M475.4 1759.7h0M477.4 1760.5h0M536.7 1768.5h0M526.5 1884.1h0M528.5 1883.9h0M530.6 1883.6h0M532.6 1883.4h0M387.6 1913.3h0M424.3 1910.9h0M424.3 1910.4h0M350.9 1948.0h0M352.9 1945.3h0M391.7 1951.3h0M393.7 1951.2h0M422.3 1951.3h0M493.8 1892.0h0M495.8 1895.4h0M497.9 1898.6h0M598.2 1921.4h0M600.2 1921.2h0M528.5 1942.2h0M542.9 1935.0h0M422.3 1951.4h0M420.3 1709.1h0M440.7 1717.9h0M522.4 1704.7h0M524.4 1703.9h0M526.5 1703.1h0M561.3 1717.4h0M606.4 1732.2h0M575.6 1828.3h0M577.7 1829.0h0M579.7 1829.8h0M581.8 1830.6h0M583.8 1831.3h0M585.9 1832.0h0M587.9 1832.7h0M526.5 1884.4h0M528.5 1884.2h0M275.4 1551.9h0M273.4 1558.6h0M271.4 1565.4h0M269.3 1572.5h0M267.3 1580.0h0M265.2 1587.7h0M263.2 1594.9h0M261.2 1601.8h0M259.1 1608.5h0M275.4 1701.1h0M322.3 1715.3h0M320.3 1717.2h0M318.3 1719.2h0M330.5 1806.5h0M328.5 1811.0h0M326.4 1814.9h0M324.4 1818.8h0M322.3 1822.9h0M602.3 1550.6h0M604.3 1556.8h0M606.4 1565.6h0M608.4 1579.8h0M610.5 1590.3h0M612.5 1603.2h0M614.6 1617.8h0M616.6 1631.2h0M618.7 1641.3h0M620.7 1651.1h0M622.8 1659.4h0M624.8 1666.3h0M626.9 1672.3h0M628.9 1677.0h0M630.9 1680.9h0M526.5 1704.1h0M528.5 1703.3h0M530.6 1702.2h0M522.4 1772.9h0M524.4 1772.3h0M526.5 1771.7h0M598.2 1921.5h0M600.2 1921.3h0M526.5 1943.9h0M528.5 1943.1h0M530.6 1942.3h0M524.4 1951.6h0M442.7 1367.7h0M444.8 1358.3h0M446.8 1348.7h0M440.7 1434.6h0"/>
<path stroke-width="1.6" d="M316.2 1147.3h0M314.2 1156.2h0M312.1 1166.5h0M310.1 1178.6h0M308.1 1190.9h0M306.0 1203.1h0M304.0 1215.4h0M302.0 1227.7h0M299.9 1239.8h0M297.9 1251.7h0M295.8 1263.4h0M293.8 1274.3h0M291.8 1283.5h0M473.4 1150.6h0M471.3 1199.8h0M469.3 1210.0h0M467.2 1220.8h0M465.2 1231.5h0M463.1 1241.0h0M461.1 1251.9h0M459.1 1262.7h0M457.0 1275.2h0M455.0 1289.4h0M452.9 1306.1h0M450.9 1321.7h0M448.9 1336.3h0M446.8 1348.8h0M630.9 1152.4h0M633.0 1164.6h0M635.0 1175.6h0M637.1 1186.2h0M639.1 1196.8h0M641.2 1207.4h0M643.2 1218.6h0M645.3 1230.8h0M647.3 1241.6h0M649.4 1250.9h0M651.4 1260.2h0M653.5 1269.9h0M655.5 1279.8h0M657.6 1289.6h0M659.6 1299.4h0M661.7 1309.3h0M663.7 1319.3h0M665.8 1329.2h0M667.8 1338.5h0M669.9 1347.0h0M671.9 1355.4h0M674.0 1363.9h0M676.0 1372.4h0M678.1 1381.0h0M680.1 1389.5h0M682.2 1398.0h0M684.2 1406.6h0M686.2 1415.1h0M688.3 1423.7h0M690.3 1432.2h0M692.4 1440.6h0M694.4 1448.7h0M696.5 1456.9h0M698.5 1465.3h0M700.6 1473.7h0M702.6 1482.5h0M704.7 1492.6h0M706.7 1504.9h0M708.8 1517.7h0M710.8 1529.4h0M712.9 1540.8h0M643.2 1161.0h0M645.3 1174.4h0M647.3 1186.0h0M649.4 1197.9h0M651.4 1210.6h0M653.5 1223.2h0M655.5 1235.1h0M657.6 1247.0h0M659.6 1259.8h0M661.7 1272.9h0M663.7 1285.8h0M665.8 1298.6h0M667.8 1311.0h0M669.9 1323.2h0M671.9 1335.3h0M553.1 1147.9h0M555.2 1167.7h0M557.2 1186.3h0M559.3 1206.1h0M561.3 1224.4h0M563.4 1241.7h0M565.4 1261.6h0M567.5 1280.5h0M569.5 1298.7h0M571.6 1315.0h0M573.6 1332.6h0M575.6 1356.5h0M577.7 1375.1h0M579.7 1390.4h0M581.8 1404.1h0M583.8 1419.0h0M585.9 1435.8h0M587.9 1450.8h0M590.0 1465.0h0M592.0 1480.8h0M594.1 1493.9h0M596.1 1508.9h0M598.2 1520.7h0M600.2 1534.9h0M553.1 1239.6h0M555.2 1260.6h0M483.6 1688.4h0M547.0 1683.0h0M569.5 1684.2h0M355.0 1752.9h0M426.4 1678.5h0M348.9 1821.9h0M479.5 1761.4h0M481.5 1762.3h0M483.6 1763.2h0M534.7 1769.4h0M361.1 1840.9h0M487.7 1890.8h0M489.7 1891.0h0M469.3 1870.0h0M471.3 1872.2h0M473.4 1874.4h0M475.4 1876.3h0M518.3 1884.9h0M518.3 1884.9h0M520.3 1884.7h0M522.4 1884.5h0M524.4 1884.3h0M375.4 1908.9h0M389.6 1912.8h0M420.3 1910.9h0M422.3 1910.9h0M420.3 1910.2h0M422.3 1910.3h0M355.0 1942.8h0M387.6 1918.2h0M395.8 1951.1h0M420.3 1951.2h0M499.9 1901.7h0M502.0 1904.4h0M594.1 1919.1h0M596.1 1920.6h0M530.6 1941.2h0M540.8 1936.1h0M499.9 1950.6h0M518.3 1950.3h0M518.3 1950.3h0M420.3 1951.4h0M438.6 1716.0h0M520.3 1705.4h0M563.4 1717.3h0M565.4 1717.3h0M602.3 1729.7h0M604.3 1731.0h0M520.3 1884.9h0M522.4 1884.7h0M524.4 1884.6h0M285.6 1672.3h0M283.6 1677.2h0M281.6 1682.1h0M279.5 1687.3h0M277.5 1693.3h0M330.5 1706.2h0M328.5 1708.9h0M326.4 1711.3h0M324.4 1713.4h0M338.7 1784.7h0M336.6 1790.1h0M334.6 1795.7h0M332.5 1801.3h0M342.7 1871.8h0M361.1 1853.7h0M359.1 1858.8h0M357.0 1863.9h0M355.0 1868.8h0M352.9 1874.2h0M350.9 1880.2h0M348.9 1886.5h0M346.8 1892.6h0M340.7 1896.4h0M338.7 1901.3h0M336.6 1906.6h0M334.6 1912.6h0M332.5 1918.8h0M330.5 1924.2h0M328.5 1929.1h0M326.4 1933.7h0M324.4 1937.5h0M322.3 1939.2h0M320.3 1939.8h0M680.1 1550.9h0M682.2 1557.4h0M684.2 1564.1h0M686.2 1571.8h0M688.3 1580.3h0M690.3 1587.8h0M692.4 1594.9h0M694.4 1602.0h0M696.5 1609.2h0M522.4 1705.3h0M524.4 1704.8h0M518.3 1773.8h0M518.3 1773.8h0M520.3 1773.4h0M594.1 1919.4h0M596.1 1920.9h0M532.6 1941.3h0M534.7 1940.3h0M540.8 1937.2h0M522.4 1951.6h0M436.6 1395.9h0M438.6 1386.5h0M440.7 1377.5h0M436.6 1453.9h0M438.6 1444.2h0"/>
<path stroke-width="1.8" d="M371.3 1207.4h0M406.0 1376.5h0M403.9 1378.1h0M401.9 1380.2h0M399.8 1384.8h0M397.8 1391.5h0M395.8 1401.6h0M393.7 1410.6h0M391.7 1422.6h0M389.6 1435.6h0M387.6 1449.0h0M385.6 1461.6h0M383.5 1474.4h0M381.5 1488.7h0M379.4 1504.2h0M377.4 1517.2h0M375.4 1529.4h0M373.3 1541.7h0M371.3 1552.9h0M557.2 1280.4h0M590.0 1674.4h0M481.5 1688.1h0M422.3 1677.3h0M549.0 1682.1h0M571.6 1684.3h0M357.0 1747.0h0M424.3 1677.9h0M350.9 1815.8h0M352.9 1810.5h0M485.6 1764.1h0M487.7 1765.1h0M489.7 1765.9h0M530.6 1771.0h0M532.6 1770.2h0M363.1 1836.9h0M365.2 1867.2h0M367.2 1864.5h0M479.5 1889.0h0M481.5 1889.6h0M483.6 1890.2h0M485.6 1890.6h0M477.4 1878.0h0M479.5 1879.5h0M481.5 1880.8h0M483.6 1882.0h0M485.6 1883.1h0M487.7 1884.0h0M489.7 1884.7h0M491.7 1885.1h0M493.8 1885.5h0M510.1 1885.9h0M512.2 1885.8h0M514.2 1885.5h0M516.3 1885.2h0M377.4 1907.6h0M379.4 1906.3h0M391.7 1912.4h0M393.7 1912.1h0M416.2 1910.8h0M418.2 1910.8h0M418.2 1910.3h0M357.0 1940.3h0M381.5 1919.5h0M383.5 1918.8h0M385.6 1918.4h0M397.8 1951.0h0M418.2 1951.1h0M504.0 1906.8h0M506.0 1908.9h0M587.9 1913.6h0M590.0 1915.4h0M592.0 1917.3h0M532.6 1940.2h0M536.7 1938.1h0M538.8 1937.1h0M502.0 1950.4h0M516.3 1950.2h0M418.2 1951.4h0M422.3 1709.0h0M436.6 1714.3h0M567.5 1717.3h0M569.5 1717.4h0M598.2 1727.3h0M600.2 1728.5h0M514.2 1885.1h0M516.3 1885.1h0M518.3 1885.0h0M518.3 1885.0h0M302.0 1631.7h0M299.9 1636.8h0M297.9 1641.8h0M295.8 1646.8h0M293.8 1651.9h0M291.8 1657.0h0M289.7 1662.1h0M287.7 1667.2h0M336.6 1696.7h0M334.6 1700.0h0M332.5 1703.2h0M346.8 1763.2h0M344.8 1768.5h0M342.7 1773.8h0M340.7 1779.3h0M350.9 1796.4h0M348.9 1817.0h0M346.8 1837.5h0M344.8 1857.7h0M633.0 1553.3h0M635.0 1559.9h0M637.1 1566.6h0M639.1 1573.5h0M641.2 1580.4h0M643.2 1587.0h0M645.3 1593.4h0M647.3 1599.5h0M649.4 1605.4h0M651.4 1610.9h0M653.5 1616.0h0M655.5 1621.8h0M657.6 1629.1h0M659.6 1638.1h0M661.7 1652.1h0M663.7 1668.0h0M520.3 1705.7h0M514.2 1773.9h0M516.3 1773.9h0M592.0 1917.2h0M536.7 1939.3h0M538.8 1938.2h0M518.3 1951.6h0M518.3 1951.6h0M520.3 1951.6h0M430.5 1421.3h0M432.5 1413.3h0M434.6 1404.6h0M432.5 1473.1h0M434.6 1463.5h0"/>
<path stroke-width="2.0" d="M379.4 1387.8h0M600.2 1228.9h0M602.3 1234.6h0M604.3 1242.3h0M606.4 1263.7h0M608.4 1277.4h0M610.5 1288.7h0M612.5 1301.3h0M614.6 1311.7h0M616.6 1322.3h0M618.7 1335.0h0M620.7 1346.2h0M622.8 1356.2h0M624.8 1367.2h0M626.9 1378.1h0M628.9 1395.6h0M630.9 1409.6h0M633.0 1423.1h0M635.0 1436.7h0M637.1 1450.4h0M639.1 1464.0h0M641.2 1477.7h0M643.2 1491.8h0M645.3 1503.8h0M647.3 1513.4h0M649.4 1525.2h0M651.4 1539.7h0M571.6 1163.8h0M573.6 1183.2h0M575.6 1198.5h0M577.7 1216.5h0M579.7 1233.5h0M581.8 1251.0h0M583.8 1266.0h0M585.9 1282.4h0M587.9 1299.8h0M590.0 1314.0h0M592.0 1328.3h0M594.1 1344.4h0M596.1 1357.9h0M598.2 1369.7h0M600.2 1385.0h0M602.3 1397.6h0M604.3 1409.2h0M606.4 1421.9h0M608.4 1435.6h0M610.5 1446.7h0M612.5 1457.8h0M614.6 1469.2h0M616.6 1479.8h0M618.7 1491.5h0M620.7 1499.8h0M622.8 1510.0h0M624.8 1518.4h0M626.9 1527.7h0M628.9 1534.6h0M630.9 1544.2h0M559.3 1299.6h0M587.9 1475.4h0M590.0 1490.9h0M592.0 1505.2h0M594.1 1519.0h0M596.1 1537.6h0M401.9 1542.8h0M403.9 1540.2h0M406.0 1538.2h0M408.0 1536.7h0M408.0 1536.7h0M410.0 1535.6h0M412.1 1534.7h0M414.1 1532.2h0M416.2 1528.8h0M418.2 1525.2h0M420.3 1520.3h0M422.3 1513.4h0M424.3 1505.6h0M426.4 1498.0h0M428.4 1490.1h0M585.9 1672.4h0M587.9 1673.4h0M477.4 1687.7h0M479.5 1687.9h0M420.3 1677.1h0M551.1 1681.2h0M583.8 1680.5h0M573.6 1684.4h0M598.2 1693.6h0M359.1 1741.4h0M361.1 1736.2h0M422.3 1677.5h0M514.2 1884.8h0M516.3 1884.8h0M518.3 1884.9h0M518.3 1884.9h0M355.0 1805.6h0M357.0 1800.4h0M359.1 1795.3h0M463.1 1831.5h0M465.2 1838.1h0M467.2 1843.2h0M491.7 1766.8h0M493.8 1767.5h0M495.8 1768.2h0M528.5 1771.7h0M365.2 1833.3h0M367.2 1829.9h0M457.0 1858.3h0M459.1 1861.7h0M461.1 1865.1h0M369.3 1861.7h0M471.3 1885.0h0M473.4 1886.3h0M475.4 1887.3h0M477.4 1888.2h0M495.8 1885.7h0M497.9 1885.9h0M499.9 1886.1h0M502.0 1886.1h0M504.0 1886.1h0M506.0 1886.1h0M508.1 1886.0h0M381.5 1905.1h0M383.5 1903.9h0M395.8 1911.8h0M412.1 1910.8h0M414.1 1910.8h0M416.2 1910.4h0M359.1 1938.1h0M361.1 1936.0h0M375.4 1923.4h0M377.4 1921.9h0M379.4 1920.7h0M399.8 1951.0h0M416.2 1951.0h0M508.1 1910.8h0M510.1 1912.5h0M583.8 1910.3h0M585.9 1912.0h0M520.3 1921.4h0M522.4 1921.5h0M524.4 1921.6h0M534.7 1939.1h0M514.2 1950.1h0M416.2 1951.4h0M434.6 1712.8h0M571.6 1717.7h0M573.6 1718.1h0M594.1 1725.2h0M596.1 1726.2h0M510.1 1885.0h0M512.2 1885.1h0M320.3 1578.5h0M318.3 1585.3h0M316.2 1591.7h0M314.2 1597.8h0M312.1 1603.8h0M310.1 1609.6h0M308.1 1615.3h0M306.0 1620.9h0M304.0 1626.3h0M346.8 1678.6h0M344.8 1682.4h0M342.7 1686.1h0M340.7 1689.7h0M338.7 1693.3h0M357.0 1729.8h0M355.0 1737.7h0M352.9 1744.9h0M350.9 1751.5h0M348.9 1757.6h0M357.0 1759.9h0M355.0 1770.1h0M352.9 1781.5h0M510.1 1773.8h0M512.2 1773.8h0M520.3 1916.6h0M587.9 1913.1h0M590.0 1915.1h0M516.3 1951.6h0M414.1 1463.1h0M416.2 1461.2h0M418.2 1457.9h0M420.3 1453.3h0M422.3 1447.6h0M424.3 1441.6h0M426.4 1435.2h0M428.4 1428.3h0M428.4 1490.2h0M430.5 1482.3h0"/>
<path stroke-width="2.2" d="M369.3 1212.8h0M408.0 1286.8h0M408.0 1286.8h0M410.0 1286.2h0M412.1 1285.2h0M414.1 1283.8h0M416.2 1282.0h0M418.2 1279.9h0M420.3 1277.7h0M422.3 1274.8h0M424.3 1271.5h0M426.4 1267.7h0M428.4 1263.6h0M430.5 1259.2h0M432.5 1254.3h0M434.6 1249.1h0M436.6 1243.1h0M438.6 1236.4h0M440.7 1229.3h0M585.9 1459.6h0M583.8 1671.4h0M422.3 1669.2h0M475.4 1687.4h0M579.7 1680.0h0M581.8 1680.2h0M575.6 1684.6h0M596.1 1692.3h0M363.1 1731.3h0M420.3 1677.1h0M357.0 1786.8h0M359.1 1782.7h0M502.0 1883.0h0M504.0 1883.9h0M506.0 1884.3h0M508.1 1884.5h0M510.1 1884.7h0M512.2 1884.8h0M361.1 1790.9h0M363.1 1787.0h0M450.9 1799.6h0M452.9 1804.3h0M455.0 1809.1h0M457.0 1813.6h0M459.1 1818.3h0M461.1 1824.0h0M497.9 1768.8h0M499.9 1769.4h0M502.0 1770.0h0M526.5 1772.3h0M369.3 1826.6h0M371.3 1823.1h0M446.8 1841.2h0M448.9 1844.6h0M450.9 1848.1h0M452.9 1851.5h0M455.0 1854.9h0M371.3 1859.0h0M463.1 1878.4h0M465.2 1880.4h0M467.2 1882.1h0M469.3 1883.6h0M385.6 1902.9h0M387.6 1901.8h0M397.8 1911.5h0M410.0 1910.8h0M412.1 1910.6h0M414.1 1910.5h0M363.1 1934.0h0M369.3 1928.3h0M371.3 1926.5h0M373.3 1924.9h0M401.9 1950.9h0M414.1 1950.9h0M512.2 1913.9h0M514.2 1914.7h0M579.7 1906.9h0M581.8 1908.6h0M504.0 1950.2h0M414.1 1951.4h0M424.3 1708.9h0M432.5 1711.6h0M575.6 1718.5h0M590.0 1723.3h0M592.0 1724.2h0M328.5 1551.8h0M326.4 1558.3h0M324.4 1564.8h0M322.3 1571.6h0M361.1 1642.1h0M359.1 1648.3h0M357.0 1654.0h0M355.0 1659.7h0M352.9 1665.2h0M350.9 1670.2h0M348.9 1674.6h0M365.2 1687.6h0M363.1 1698.5h0M361.1 1709.4h0M359.1 1720.6h0M361.1 1738.8h0M359.1 1750.6h0M522.4 1915.9h0M524.4 1915.1h0M526.5 1914.2h0M528.5 1913.1h0M583.8 1909.4h0M585.9 1911.2h0M514.2 1951.6h0M401.9 1476.0h0M403.9 1472.7h0M406.0 1470.3h0M408.0 1468.4h0M408.0 1468.4h0M410.0 1467.1h0M412.1 1465.8h0M414.1 1531.5h0M416.2 1528.9h0M418.2 1524.0h0M420.3 1518.7h0M422.3 1512.3h0M424.3 1505.3h0M426.4 1498.0h0"/>
<path stroke-width="2.4" d="M218.3 1456.5h0M220.4 1454.6h0M222.4 1452.7h0M224.5 1450.5h0M226.5 1447.8h0M228.5 1444.5h0M230.6 1440.5h0M232.6 1436.1h0M234.7 1431.3h0M236.7 1425.8h0M238.7 1419.4h0M240.8 1412.9h0M242.8 1406.4h0M244.9 1399.6h0M246.9 1392.4h0M248.9 1384.7h0M251.0 1376.5h0M253.0 1367.9h0M255.0 1358.9h0M257.1 1349.5h0M259.1 1340.0h0M261.2 1330.6h0M263.2 1321.2h0M265.2 1311.6h0M267.3 1301.8h0M269.3 1292.0h0M271.4 1281.7h0M273.4 1270.4h0M275.4 1257.8h0M277.5 1244.7h0M279.5 1231.6h0M281.6 1218.4h0M283.6 1205.9h0M285.6 1194.1h0M287.7 1182.4h0M289.7 1170.5h0M291.8 1158.7h0M293.8 1147.2h0M391.7 1155.3h0M393.7 1165.1h0M395.8 1176.2h0M397.8 1188.2h0M367.2 1219.0h0M340.7 1344.7h0M338.7 1352.8h0M336.6 1361.9h0M334.6 1370.3h0M332.5 1379.3h0M377.4 1394.8h0M663.7 1156.0h0M665.8 1167.4h0M667.8 1181.1h0M669.9 1193.6h0M671.9 1205.2h0M674.0 1218.7h0M676.0 1230.9h0M678.1 1241.8h0M680.1 1254.3h0M682.2 1265.4h0M684.2 1275.5h0M686.2 1287.1h0M688.3 1298.0h0M690.3 1309.2h0M692.4 1319.2h0M694.4 1329.2h0M696.5 1339.9h0M698.5 1349.3h0M700.6 1358.1h0M702.6 1367.8h0M704.7 1376.4h0M706.7 1384.7h0M708.8 1392.3h0M710.8 1400.5h0M712.9 1407.1h0M714.9 1414.9h0M717.0 1420.8h0M719.0 1426.6h0M721.1 1432.5h0M723.1 1437.6h0M725.2 1442.3h0M727.2 1446.5h0M729.3 1449.8h0M731.3 1452.6h0M733.4 1454.9h0M735.4 1456.7h0M737.5 1457.8h0M594.1 1155.9h0M596.1 1166.0h0M598.2 1174.7h0M600.2 1181.3h0M602.3 1187.1h0M604.3 1193.9h0M606.4 1204.0h0M608.4 1216.9h0M610.5 1228.8h0M612.5 1240.6h0M614.6 1252.8h0M616.6 1265.6h0M618.7 1277.7h0M620.7 1288.9h0M622.8 1299.6h0M624.8 1309.5h0M626.9 1319.6h0M628.9 1331.1h0M630.9 1342.5h0M633.0 1352.2h0M635.0 1361.3h0M637.1 1371.2h0M639.1 1381.6h0M641.2 1391.3h0M643.2 1400.6h0M645.3 1409.6h0M647.3 1418.4h0M649.4 1427.3h0M651.4 1436.7h0M653.5 1445.9h0M655.5 1454.7h0M657.6 1463.2h0M659.6 1471.4h0M661.7 1479.4h0M663.7 1487.8h0M665.8 1496.4h0M667.8 1504.4h0M669.9 1512.0h0M671.9 1520.0h0M674.0 1528.7h0M676.0 1536.8h0M678.1 1544.1h0M561.3 1318.5h0M581.8 1670.5h0M424.3 1669.5h0M473.4 1687.1h0M418.2 1677.1h0M553.1 1680.5h0M575.6 1679.5h0M577.7 1679.8h0M577.7 1684.9h0M592.0 1689.9h0M594.1 1691.1h0M365.2 1726.8h0M367.2 1722.6h0M418.2 1677.0h0M361.1 1778.5h0M363.1 1774.5h0M489.7 1872.2h0M491.7 1874.2h0M493.8 1876.0h0M495.8 1877.8h0M497.9 1879.7h0M499.9 1881.6h0M365.2 1783.3h0M367.2 1779.9h0M369.3 1776.6h0M438.6 1773.0h0M440.7 1776.2h0M442.7 1780.1h0M444.8 1784.8h0M446.8 1790.0h0M448.9 1794.8h0M504.0 1770.5h0M506.0 1771.1h0M508.1 1771.6h0M522.4 1773.3h0M524.4 1772.8h0M373.3 1819.6h0M375.4 1816.3h0M436.6 1821.7h0M438.6 1826.0h0M440.7 1830.1h0M442.7 1834.0h0M444.8 1837.6h0M373.3 1856.2h0M375.4 1853.5h0M455.0 1865.5h0M457.0 1868.7h0M459.1 1872.6h0M461.1 1876.0h0M389.6 1900.9h0M391.7 1900.0h0M481.5 1946.4h0M483.6 1948.8h0M485.6 1950.9h0M399.8 1911.3h0M406.0 1910.9h0M408.0 1910.8h0M408.0 1910.8h0M410.0 1910.7h0M365.2 1932.1h0M367.2 1930.2h0M403.9 1950.8h0M412.1 1950.9h0M516.3 1915.0h0M518.3 1915.0h0M518.3 1915.0h0M520.3 1913.8h0M522.4 1912.5h0M575.6 1903.9h0M577.7 1905.3h0M506.0 1950.0h0M512.2 1950.0h0M412.1 1951.4h0M426.4 1709.1h0M428.4 1709.6h0M430.5 1710.5h0M577.7 1719.0h0M579.7 1719.6h0M585.9 1721.7h0M587.9 1722.5h0M373.3 1589.4h0M371.3 1598.6h0M369.3 1607.9h0M367.2 1617.2h0M365.2 1626.1h0M363.1 1634.5h0M375.4 1633.3h0M373.3 1644.1h0M371.3 1655.0h0M369.3 1665.9h0M367.2 1676.7h0M365.2 1717.1h0M363.1 1726.1h0M530.6 1911.8h0M532.6 1910.4h0M534.7 1909.1h0M579.7 1906.1h0M581.8 1907.7h0M512.2 1951.6h0M401.9 1380.4h0M403.9 1377.5h0M401.9 1541.0h0M403.9 1538.3h0M406.0 1536.8h0M408.0 1535.6h0M408.0 1535.6h0M410.0 1534.7h0M412.1 1533.6h0M571.5 1443.7h0M573.6 1447.1h0"/>
<path stroke-width="2.6" d="M328.5 1148.9h0M326.4 1157.0h0M324.4 1166.2h0M322.3 1175.9h0M320.3 1185.8h0M318.3 1196.3h0M316.2 1205.9h0M314.2 1216.7h0M312.1 1226.3h0M310.1 1236.3h0M308.1 1247.2h0M306.0 1256.5h0M304.0 1266.8h0M330.5 1328.8h0M328.5 1338.2h0M326.4 1348.8h0M324.4 1356.5h0M322.3 1365.0h0M320.3 1374.3h0M318.3 1382.9h0M316.2 1391.2h0M314.2 1399.6h0M312.1 1408.0h0M310.1 1416.1h0M308.1 1424.4h0M306.0 1433.4h0M304.0 1442.4h0M302.0 1450.9h0M299.9 1459.4h0M297.9 1467.7h0M295.8 1475.8h0M293.8 1483.8h0M291.8 1491.8h0M289.7 1499.8h0M287.7 1507.8h0M285.6 1515.7h0M283.6 1523.4h0M281.6 1531.0h0M279.5 1538.7h0M277.5 1546.1h0M275.4 1553.4h0M397.8 1360.3h0M406.0 1469.0h0M403.9 1470.3h0M401.9 1474.1h0M399.8 1481.0h0M397.8 1489.3h0M395.8 1497.0h0M393.7 1504.9h0M391.7 1513.5h0M389.6 1523.6h0M387.6 1532.3h0M385.6 1540.4h0M383.5 1548.4h0M381.5 1557.6h0M406.0 1537.7h0M403.9 1539.1h0M401.9 1542.0h0M399.8 1546.5h0M397.8 1551.1h0M428.4 1346.6h0M430.5 1341.5h0M432.5 1335.9h0M434.6 1329.2h0M436.6 1321.9h0M438.6 1314.2h0M440.7 1306.6h0M442.7 1298.9h0M444.8 1290.2h0M446.8 1281.7h0M448.9 1272.4h0M450.9 1262.4h0M452.9 1252.5h0M455.0 1241.6h0M457.0 1229.2h0M459.1 1209.5h0M461.1 1187.2h0M463.1 1177.9h0M465.2 1169.0h0M467.2 1159.1h0M469.3 1149.7h0M563.4 1335.1h0M583.8 1445.4h0M438.6 1666.9h0M579.7 1669.6h0M426.4 1670.0h0M469.3 1686.4h0M471.3 1686.8h0M410.0 1678.1h0M412.1 1677.8h0M414.1 1677.5h0M416.2 1677.3h0M555.2 1680.0h0M571.6 1679.1h0M573.6 1679.3h0M579.7 1685.3h0M590.0 1688.8h0M369.3 1718.7h0M371.3 1714.6h0M373.3 1710.4h0M416.2 1677.0h0M365.2 1770.9h0M471.3 1829.6h0M473.4 1835.9h0M475.4 1841.8h0M477.4 1847.5h0M479.5 1852.9h0M481.5 1857.9h0M483.6 1862.5h0M485.6 1866.6h0M487.7 1869.8h0M371.3 1773.6h0M373.3 1771.0h0M426.4 1754.7h0M428.4 1757.7h0M430.5 1760.9h0M432.5 1764.2h0M434.6 1767.2h0M436.6 1770.1h0M510.1 1772.1h0M512.2 1772.7h0M514.2 1773.2h0M520.3 1773.6h0M377.4 1813.3h0M379.4 1810.5h0M424.3 1802.0h0M426.4 1804.7h0M428.4 1807.6h0M430.5 1810.6h0M432.5 1813.9h0M434.6 1817.6h0M377.4 1851.0h0M446.8 1856.3h0M448.9 1857.9h0M450.9 1860.0h0M452.9 1862.5h0M393.7 1899.1h0M395.8 1898.3h0M465.2 1928.2h0M467.2 1930.2h0M469.3 1932.2h0M471.3 1934.3h0M473.4 1936.5h0M475.4 1938.9h0M477.4 1941.3h0M479.5 1943.8h0M401.9 1911.2h0M403.9 1911.0h0M408.0 1910.8h0M408.0 1910.8h0M406.0 1950.8h0M410.0 1950.8h0M524.4 1911.1h0M526.5 1909.4h0M528.5 1907.7h0M530.6 1905.9h0M532.6 1904.3h0M569.5 1899.9h0M571.6 1901.2h0M573.6 1902.5h0M510.1 1949.9h0M410.0 1951.4h0M581.8 1720.3h0M583.8 1721.0h0M381.5 1553.3h0M379.4 1563.7h0M377.4 1573.1h0M375.4 1581.0h0M383.5 1585.5h0M381.5 1597.6h0M379.4 1610.0h0M377.4 1622.2h0M369.3 1702.0h0M367.2 1709.4h0M536.7 1907.8h0M538.8 1906.5h0M540.8 1905.2h0M542.9 1904.0h0M573.6 1902.2h0M575.6 1903.3h0M577.7 1904.7h0M510.1 1951.6h0M406.0 1376.3h0M408.0 1375.4h0M408.0 1375.4h0M410.0 1374.5h0M412.1 1373.4h0M414.1 1371.8h0M567.0 1419.0h0M569.5 1431.7h0"/>
<path stroke-width="2.8" d="M365.2 1225.0h0M338.7 1293.9h0M336.6 1302.7h0M334.6 1311.3h0M332.5 1320.6h0M395.8 1370.4h0M352.9 1515.5h0M350.9 1524.5h0M348.9 1533.2h0M346.8 1540.8h0M344.8 1549.2h0M342.7 1557.0h0M581.8 1428.7h0M440.7 1667.1h0M577.7 1669.0h0M428.4 1670.5h0M467.2 1686.0h0M401.9 1679.1h0M403.9 1678.8h0M406.0 1678.6h0M408.0 1678.3h0M408.0 1678.3h0M567.5 1678.8h0M569.5 1678.9h0M581.8 1685.7h0M585.9 1687.0h0M587.9 1687.8h0M375.4 1706.4h0M377.4 1702.6h0M379.4 1698.9h0M414.1 1677.4h0M367.2 1767.4h0M369.3 1764.1h0M444.8 1767.7h0M446.8 1770.6h0M448.9 1773.9h0M450.9 1777.7h0M452.9 1782.4h0M455.0 1787.5h0M457.0 1792.4h0M459.1 1797.0h0M461.1 1801.8h0M463.1 1806.8h0M465.2 1812.1h0M467.2 1817.7h0M469.3 1823.4h0M375.4 1768.3h0M377.4 1765.6h0M379.4 1762.7h0M414.1 1745.5h0M416.2 1746.4h0M418.2 1747.5h0M420.3 1748.8h0M422.3 1750.3h0M424.3 1752.2h0M516.3 1773.5h0M518.3 1773.7h0M518.3 1773.7h0M381.5 1807.9h0M383.5 1805.4h0M385.6 1802.9h0M387.6 1800.6h0M414.1 1792.1h0M416.2 1793.1h0M418.2 1794.7h0M420.3 1796.8h0M422.3 1799.3h0M379.4 1848.5h0M436.6 1848.9h0M438.6 1850.5h0M440.7 1852.0h0M442.7 1853.5h0M444.8 1854.9h0M397.8 1897.7h0M399.8 1897.1h0M450.9 1914.4h0M452.9 1916.1h0M455.0 1917.9h0M457.0 1919.9h0M459.1 1922.0h0M461.1 1924.1h0M463.1 1926.2h0M408.0 1950.8h0M408.0 1950.8h0M534.7 1902.8h0M536.7 1901.6h0M538.8 1900.6h0M540.8 1899.8h0M542.9 1899.1h0M565.4 1898.1h0M567.5 1898.9h0M508.1 1949.9h0M408.0 1951.4h0M408.0 1951.4h0M387.6 1562.6h0M385.6 1574.9h0M397.8 1553.7h0M395.8 1561.8h0M393.7 1569.8h0M391.7 1578.7h0M389.6 1588.3h0M387.6 1597.5h0M385.6 1608.9h0M383.5 1623.7h0M371.3 1694.4h0M544.9 1902.8h0M547.0 1901.6h0M549.0 1900.5h0M551.1 1899.7h0M569.5 1900.5h0M571.6 1901.3h0M416.2 1369.8h0M418.2 1367.3h0M420.3 1364.5h0M422.3 1361.3h0M424.3 1357.2h0"/>
<path stroke-width="3.0" d="M375.4 1401.6h0M355.0 1463.0h0M352.9 1470.4h0M350.9 1478.0h0M348.9 1485.3h0M346.8 1492.4h0M344.8 1499.4h0M342.7 1506.3h0M340.7 1513.5h0M338.7 1520.6h0M336.6 1527.2h0M334.6 1533.7h0M332.5 1540.1h0M330.5 1546.3h0M328.5 1552.1h0M326.4 1558.1h0M393.7 1380.2h0M367.2 1454.9h0M365.2 1462.8h0M363.1 1472.0h0M361.1 1480.3h0M359.1 1489.3h0M357.0 1498.1h0M355.0 1506.7h0M565.4 1349.6h0M401.9 1629.5h0M403.9 1628.8h0M406.0 1628.1h0M408.0 1627.4h0M408.0 1627.4h0M442.7 1667.3h0M575.6 1668.5h0M465.2 1685.5h0M557.2 1679.5h0M563.4 1678.7h0M565.4 1678.7h0M583.8 1686.3h0M381.5 1695.8h0M383.5 1693.2h0M371.3 1761.2h0M373.3 1758.4h0M428.4 1747.9h0M430.5 1749.9h0M432.5 1752.0h0M434.6 1754.4h0M436.6 1756.8h0M438.6 1759.4h0M440.7 1762.1h0M442.7 1764.8h0M381.5 1760.1h0M383.5 1757.7h0M385.6 1755.5h0M408.0 1743.6h0M408.0 1743.6h0M410.0 1744.2h0M412.1 1744.8h0M389.6 1798.5h0M391.7 1796.7h0M393.7 1795.2h0M395.8 1793.9h0M397.8 1792.9h0M399.8 1792.0h0M408.0 1790.4h0M408.0 1790.4h0M410.0 1790.9h0M412.1 1791.4h0M381.5 1846.2h0M383.5 1844.2h0M385.6 1842.3h0M426.4 1841.2h0M428.4 1842.7h0M430.5 1844.3h0M432.5 1845.9h0M434.6 1847.4h0M401.9 1896.8h0M403.9 1896.6h0M426.4 1902.2h0M428.4 1902.9h0M430.5 1903.5h0M432.5 1904.3h0M434.6 1905.2h0M436.6 1906.1h0M438.6 1907.1h0M440.7 1908.1h0M442.7 1909.2h0M444.8 1910.3h0M446.8 1911.5h0M448.9 1912.9h0M544.9 1898.5h0M547.0 1898.1h0M549.0 1897.8h0M551.1 1897.6h0M561.3 1897.4h0M563.4 1897.5h0M373.3 1687.1h0M553.1 1899.2h0M555.2 1898.8h0M557.2 1898.5h0M565.4 1899.2h0M567.5 1899.7h0M426.4 1352.3h0M428.4 1347.4h0M430.5 1342.3h0M432.5 1336.1h0M434.6 1329.0h0M604.6 1195.1h0M593.7 1154.0h0M604.8 1257.7h0M586.9 1292.0h0M591.5 1366.4h0"/>
<path stroke-width="3.2" d="M340.7 1285.5h0M350.9 1305.3h0M348.9 1311.9h0M346.8 1319.4h0M344.8 1326.7h0M342.7 1335.6h0M340.7 1344.0h0M357.0 1455.9h0M579.7 1413.7h0M410.0 1625.3h0M444.8 1667.4h0M573.6 1668.1h0M430.5 1671.1h0M457.0 1683.3h0M459.1 1684.0h0M461.1 1684.5h0M463.1 1685.1h0M559.3 1679.1h0M561.3 1678.9h0M385.6 1691.0h0M387.6 1689.0h0M389.6 1687.2h0M412.1 1677.9h0M375.4 1755.8h0M420.3 1740.1h0M422.3 1742.0h0M424.3 1744.0h0M426.4 1745.9h0M387.6 1753.5h0M389.6 1751.6h0M391.7 1750.0h0M393.7 1748.5h0M401.9 1791.4h0M403.9 1790.9h0M406.0 1790.6h0M387.6 1840.5h0M389.6 1838.8h0M391.7 1837.3h0M393.7 1835.8h0M414.1 1833.9h0M416.2 1834.8h0M418.2 1835.8h0M420.3 1837.0h0M422.3 1838.4h0M424.3 1839.8h0M406.0 1896.4h0M408.0 1896.4h0M408.0 1896.4h0M410.0 1897.0h0M412.1 1897.7h0M414.1 1898.3h0M416.2 1899.0h0M418.2 1899.6h0M420.3 1900.3h0M422.3 1900.9h0M424.3 1901.6h0M553.1 1897.5h0M555.2 1897.4h0M557.2 1897.3h0M559.3 1897.3h0M375.4 1680.2h0M559.3 1898.4h0M561.3 1898.5h0M563.4 1898.7h0M436.6 1322.0h0M438.6 1314.8h0M440.7 1307.1h0M442.7 1300.8h0M571.5 1472.8h0"/>
<path stroke-width="3.4" d="M363.1 1230.5h0M342.7 1278.3h0M403.9 1278.2h0M373.3 1408.1h0M359.1 1449.1h0M369.3 1447.2h0M567.5 1363.2h0M412.1 1622.2h0M414.1 1618.5h0M446.8 1667.5h0M571.6 1667.8h0M432.5 1671.8h0M442.7 1676.4h0M444.8 1677.4h0M446.8 1678.5h0M448.9 1679.5h0M450.9 1680.5h0M452.9 1681.6h0M455.0 1682.6h0M391.7 1685.5h0M393.7 1684.0h0M395.8 1682.8h0M410.0 1678.4h0M377.4 1753.3h0M379.4 1750.8h0M412.1 1735.4h0M414.1 1736.1h0M416.2 1737.0h0M418.2 1738.4h0M395.8 1747.2h0M397.8 1746.1h0M399.8 1745.2h0M401.9 1744.6h0M395.8 1834.5h0M397.8 1833.4h0M399.8 1832.6h0M401.9 1832.2h0M408.0 1832.0h0M408.0 1832.0h0M410.0 1832.6h0M412.1 1833.2h0"/>
<path stroke-width="3.6" d="M344.8 1271.5h0M401.9 1277.4h0M361.1 1442.6h0M391.7 1389.1h0M569.5 1375.1h0M416.2 1615.0h0M448.9 1667.5h0M569.5 1667.6h0M434.6 1672.5h0M436.6 1673.3h0M438.6 1674.3h0M440.7 1675.3h0M397.8 1681.7h0M399.8 1680.8h0M401.9 1680.2h0M403.9 1679.7h0M406.0 1679.3h0M408.0 1679.0h0M408.0 1679.0h0M381.5 1748.5h0M383.5 1746.5h0M408.0 1734.3h0M408.0 1734.3h0M410.0 1734.8h0M403.9 1744.2h0M406.0 1743.8h0M403.9 1832.0h0M406.0 1831.9h0M377.4 1674.4h0M602.4 1247.9h0M589.0 1352.6h0"/>
<path stroke-width="3.8" d="M363.1 1436.5h0M577.7 1401.7h0M418.2 1610.6h0M450.9 1667.5h0M567.5 1667.4h0M385.6 1744.5h0M387.6 1742.7h0M389.6 1741.1h0M379.4 1668.9h0"/>
<path stroke-width="4.0" d="M361.1 1235.6h0M359.1 1240.2h0M346.8 1264.8h0M399.8 1276.9h0M371.3 1414.1h0M365.2 1430.8h0M371.3 1439.8h0M571.6 1382.1h0M573.6 1386.6h0M575.6 1392.3h0M420.3 1605.2h0M565.4 1667.2h0M391.7 1739.7h0M393.7 1738.5h0M395.8 1737.5h0M397.8 1736.7h0M595.6 1166.1h0M598.2 1174.5h0M600.3 1179.0h0M602.4 1184.2h0M582.8 1273.5h0M573.6 1325.9h0M586.9 1340.9h0"/>
<path stroke-width="4.2" d="M357.0 1244.1h0M355.0 1247.4h0M352.9 1250.4h0M397.8 1276.4h0M367.2 1425.3h0M422.3 1599.7h0M452.9 1667.4h0M563.4 1667.1h0M399.8 1735.9h0M401.9 1735.4h0M403.9 1734.9h0M381.5 1661.9h0"/>
<path stroke-width="4.4" d="M350.9 1253.6h0M348.9 1258.5h0M395.8 1276.8h0M369.3 1419.8h0M424.3 1594.8h0M426.4 1590.1h0M455.0 1667.2h0M457.0 1667.0h0M561.3 1666.9h0M406.0 1734.4h0M383.5 1655.9h0"/>
<path stroke-width="4.6" d="M428.4 1585.5h0M459.1 1666.7h0M461.1 1666.4h0M559.3 1666.6h0M385.6 1650.6h0"/>
<path stroke-width="4.8" d="M393.7 1277.8h0M352.9 1299.6h0M430.5 1580.7h0M463.1 1666.1h0M465.2 1665.7h0M557.2 1666.1h0M387.6 1645.2h0M389.6 1640.2h0M391.7 1635.9h0"/>
<path stroke-width="5.0" d="M391.7 1279.3h0M389.6 1397.2h0M432.5 1576.0h0M467.2 1665.3h0M469.3 1664.8h0M471.3 1664.2h0M555.2 1665.6h0M393.7 1633.1h0M395.8 1631.2h0M397.8 1629.7h0M399.8 1628.9h0M401.9 1628.5h0M602.4 1162.6h0M585.9 1280.7h0M575.6 1336.2h0M569.5 1462.6h0"/>
<path stroke-width="5.2" d="M387.6 1403.3h0M373.3 1433.1h0M434.6 1571.2h0M473.4 1663.6h0M475.4 1662.9h0M551.1 1664.1h0M553.1 1665.0h0M403.9 1628.3h0M406.0 1628.2h0"/>
<path stroke-width="5.4" d="M389.6 1281.2h0M355.0 1293.5h0M385.6 1408.3h0M383.5 1413.1h0M565.4 1461.4h0M436.6 1566.6h0M477.4 1662.1h0M479.5 1661.2h0M544.9 1660.0h0M547.0 1661.6h0M549.0 1663.0h0"/>
<path stroke-width="5.6" d="M387.6 1283.7h0M381.5 1417.3h0M379.4 1420.8h0M377.4 1424.4h0M375.4 1428.3h0M563.4 1466.8h0M438.6 1562.5h0M481.5 1660.3h0M483.6 1659.2h0M485.6 1658.1h0M538.8 1653.5h0M540.8 1655.9h0M542.9 1658.1h0M588.6 1274.6h0"/>
<path stroke-width="5.8" d="M561.3 1473.2h0M440.7 1558.4h0M487.7 1656.7h0M489.7 1655.2h0M491.7 1653.7h0M493.8 1652.0h0M495.8 1650.3h0M534.7 1648.3h0M536.7 1650.9h0"/>
<path stroke-width="6.0" d="M385.6 1286.5h0M383.5 1289.7h0M357.0 1291.6h0M553.1 1500.0h0M555.2 1493.1h0M557.2 1486.9h0M559.3 1480.2h0M532.6 1572.1h0M497.9 1648.5h0M499.9 1646.6h0M502.0 1644.7h0M504.0 1642.9h0M528.5 1640.6h0M530.6 1643.1h0M532.6 1645.7h0M605.0 1158.1h0M598.9 1242.7h0M595.8 1247.9h0M593.5 1256.7h0M591.1 1265.7h0M582.8 1333.5h0M578.7 1338.3h0"/>
<path stroke-width="6.2" d="M381.5 1293.3h0M379.4 1296.6h0M542.9 1534.3h0M544.9 1528.0h0M547.0 1520.9h0M549.0 1513.2h0M551.1 1506.3h0M534.7 1567.0h0M536.7 1561.8h0M506.0 1641.0h0M508.1 1639.2h0M510.1 1637.3h0M512.2 1635.4h0M522.4 1634.2h0M524.4 1635.8h0M526.5 1638.1h0"/>
<path stroke-width="6.4" d="M377.4 1299.1h0M375.4 1301.2h0M538.8 1545.7h0M540.8 1540.1h0M440.7 1558.5h0M530.6 1577.0h0M538.8 1556.4h0M540.8 1550.8h0M514.2 1634.0h0M516.3 1633.1h0M518.3 1632.8h0M518.3 1632.8h0M520.3 1633.2h0M607.5 1149.2h0"/>
<path stroke-width="6.6" d="M373.3 1302.7h0M371.3 1303.0h0M369.3 1301.5h0M367.2 1298.9h0M365.2 1296.2h0M363.1 1294.1h0M361.1 1292.3h0M359.1 1291.2h0M442.7 1554.7h0M444.8 1551.1h0M526.5 1585.0h0M528.5 1581.1h0M542.9 1542.6h0M544.9 1535.1h0"/>
<path stroke-width="6.8" d="M342.7 1148.0h0M344.8 1152.1h0M346.8 1156.2h0M348.9 1160.2h0M350.9 1164.7h0M352.9 1168.7h0M355.0 1169.9h0M357.0 1168.2h0M359.1 1165.4h0M361.1 1161.5h0M363.1 1157.0h0M365.2 1151.7h0M446.8 1548.2h0M448.9 1545.5h0M524.4 1588.5h0M547.0 1527.6h0M549.0 1520.3h0"/>
<path stroke-width="7.0" d="M450.9 1542.8h0M452.9 1540.4h0M520.3 1593.3h0M522.4 1591.1h0M551.1 1513.6h0M553.1 1505.8h0"/>
<path stroke-width="7.2" d="M455.0 1538.2h0M457.0 1536.5h0M510.1 1588.5h0M512.2 1591.1h0M514.2 1593.0h0M516.3 1594.2h0M518.3 1594.4h0M518.3 1594.4h0M555.2 1498.1h0M557.2 1490.6h0"/>
<path stroke-width="7.4" d="M459.1 1535.4h0M493.8 1560.4h0M495.8 1564.1h0M497.9 1567.7h0M499.9 1571.2h0M502.0 1574.8h0M504.0 1578.4h0M506.0 1582.2h0M508.1 1585.6h0"/>
<path stroke-width="7.6" d="M461.1 1534.8h0M463.1 1534.4h0M475.4 1536.9h0M477.4 1538.5h0M479.5 1540.4h0M481.5 1542.5h0M483.6 1545.0h0M485.6 1547.7h0M487.7 1550.6h0M489.7 1553.7h0M491.7 1556.9h0"/>
<path stroke-width="7.8" d="M465.2 1534.2h0M467.2 1534.1h0M469.3 1534.3h0M471.3 1534.8h0M473.4 1535.7h0"/>
</g></g>
<clipPath id="bsR"><rect x="799.7" y="1145.7" width="524.2" height="807.0999999999999"/></clipPath>
<g clip-path="url(#bsR)">
<path fill="none" stroke="#dadada" stroke-width="1.4" d="M862.3,1145.8 C861.8,1148.0 860.4,1155.5 859.6,1159.5 C858.8,1163.5 858.2,1166.2 857.6,1169.8 C856.9,1173.4 856.3,1177.3 855.5,1181.1 C854.7,1184.9 853.8,1187.4 852.8,1192.4 C851.9,1197.4 850.8,1206.3 850.0,1210.9 C849.1,1215.5 848.6,1217.0 847.9,1220.1 C847.2,1223.3 846.5,1226.5 845.8,1229.8 C845.2,1233.0 844.5,1236.5 843.8,1239.6 C843.1,1242.8 842.4,1245.8 841.7,1248.9 C841.0,1252.0 840.5,1254.9 839.7,1258.1 C838.9,1261.4 837.9,1264.1 837.0,1268.4 C836.1,1272.7 835.2,1279.5 834.3,1283.8 C833.5,1288.1 832.8,1289.8 831.9,1294.1 C830.9,1298.4 829.9,1305.0 828.8,1309.5 C827.7,1313.9 826.4,1317.0 825.3,1320.8 C824.2,1324.6 823.3,1328.2 822.2,1332.1 C821.1,1336.0 819.6,1340.8 818.5,1344.4 C817.4,1348.0 816.5,1350.8 815.4,1353.7 C814.4,1356.6 813.6,1358.8 812.4,1361.9 C811.2,1365.0 809.6,1369.1 808.2,1372.2 C806.9,1375.2 805.7,1378.0 804.1,1380.4 C802.6,1382.8 799.9,1385.5 799.0,1386.5 M893.1,1145.8 C892.6,1148.0 891.2,1155.9 890.4,1159.5 C889.6,1163.2 889.1,1164.8 888.4,1167.7 C887.7,1170.6 887.0,1173.9 886.3,1177.0 C885.6,1180.1 884.9,1183.1 884.3,1186.2 C883.6,1189.3 882.9,1192.6 882.2,1195.5 C881.5,1198.4 880.8,1200.8 880.2,1203.7 C879.5,1206.6 879.0,1208.5 878.1,1212.9 C877.2,1217.4 875.9,1226.1 875.0,1230.4 C874.2,1234.7 873.7,1235.7 873.0,1238.6 C872.2,1241.5 871.2,1244.8 870.5,1247.9 C869.7,1250.9 869.2,1254.2 868.4,1257.1 C867.7,1260.0 866.6,1261.2 865.8,1265.3 C864.9,1269.4 864.8,1273.5 863.3,1281.8 C861.8,1290.0 859.4,1304.0 856.5,1314.6 C853.7,1325.2 850.0,1335.2 846.3,1345.4 C842.5,1355.7 838.4,1367.4 833.9,1376.3 C829.5,1385.2 825.4,1392.7 819.5,1398.9 C813.7,1405.0 802.4,1410.8 799.0,1413.2 M918.8,1145.8 C918.2,1147.9 916.2,1154.7 915.1,1158.5 C913.9,1162.3 913.0,1165.3 912.0,1168.8 C911.0,1172.2 909.9,1175.6 908.9,1179.0 C907.9,1182.5 906.9,1185.9 905.8,1189.3 C904.8,1192.7 903.8,1196.5 902.8,1199.6 C901.7,1202.7 900.7,1204.7 899.7,1207.8 C898.6,1210.9 898.6,1210.5 896.6,1218.1 C894.5,1225.6 890.6,1240.3 887.3,1253.0 C884.1,1265.7 880.8,1280.4 877.1,1294.1 C873.3,1307.8 869.2,1321.5 864.7,1335.2 C860.3,1348.9 856.2,1363.3 850.4,1376.3 C844.5,1389.3 836.3,1403.7 829.8,1413.2 C823.3,1422.8 816.5,1430.0 811.3,1433.8 C806.2,1437.6 801.1,1435.5 799.0,1435.8 M991.1,1216.4 C992.3,1215.8 996.1,1214.4 998.3,1212.9 C1000.5,1211.5 1002.4,1210.0 1004.4,1207.8 C1006.5,1205.6 1008.9,1202.3 1010.6,1199.6 C1012.3,1196.8 1013.4,1194.4 1014.7,1191.4 C1016.1,1188.3 1017.6,1184.2 1018.8,1181.1 C1020.0,1178.0 1020.9,1175.6 1021.9,1172.9 C1022.9,1170.1 1024.0,1167.4 1025.0,1164.7 C1026.0,1161.9 1027.0,1159.2 1028.1,1156.4 C1029.1,1153.7 1030.6,1149.6 1031.2,1148.2 M1031.2,1156.4 C1030.6,1158.8 1029.1,1166.0 1028.1,1170.8 C1027.0,1175.6 1026.0,1180.7 1025.0,1185.2 C1024.0,1189.6 1022.9,1193.8 1021.9,1197.5 C1020.9,1201.3 1019.9,1204.4 1018.8,1207.8 C1017.8,1211.2 1016.8,1215.0 1015.7,1218.1 C1014.7,1221.2 1013.9,1223.5 1012.7,1226.3 C1011.5,1229.0 1009.9,1232.1 1008.6,1234.5 C1007.2,1236.9 1006.2,1238.8 1004.4,1240.7 C1002.7,1242.6 1000.5,1244.4 998.3,1245.8 C996.1,1247.2 992.9,1248.2 991.1,1248.9 C989.3,1249.7 988.7,1249.2 987.6,1250.3 C986.6,1251.5 985.8,1253.7 984.9,1255.8 C984.0,1257.9 983.1,1260.6 982.2,1262.7 C981.2,1264.7 980.3,1266.1 979.4,1268.2 C978.5,1270.2 977.6,1272.7 976.7,1275.0 C975.8,1277.3 974.8,1279.6 973.9,1281.9 C973.0,1284.2 972.1,1286.2 971.2,1288.7 C970.3,1291.3 969.3,1294.5 968.4,1297.0 C967.5,1299.5 966.6,1301.6 965.7,1303.8 C964.8,1306.1 963.9,1308.2 962.9,1310.7 C962.0,1313.2 961.1,1316.7 960.2,1318.9 C959.3,1321.2 958.4,1322.4 957.5,1324.4 C956.5,1326.5 955.6,1329.0 954.7,1331.3 C953.8,1333.6 952.9,1335.9 952.0,1338.2 C951.0,1340.4 950.1,1342.7 949.2,1345.0 C948.3,1347.3 947.4,1349.6 946.5,1351.9 C945.6,1354.2 944.6,1356.5 943.7,1358.7 C942.8,1361.0 941.9,1363.5 941.0,1365.6 C940.1,1367.7 939.4,1369.0 938.2,1371.1 C937.1,1373.2 935.5,1375.7 934.1,1378.0 C932.7,1380.2 931.4,1382.5 930.0,1384.8 C928.6,1387.1 927.3,1389.6 925.9,1391.7 C924.5,1393.7 923.1,1395.3 921.8,1397.2 C920.4,1399.0 919.2,1400.6 917.6,1402.7 C916.0,1404.7 914.2,1407.0 912.2,1409.5 C910.1,1412.0 907.7,1414.7 905.3,1417.8 C902.8,1420.8 900.3,1424.3 897.6,1427.6 C895.0,1431.0 892.1,1434.5 889.4,1437.9 C886.7,1441.3 883.9,1445.1 881.2,1448.2 C878.4,1451.3 874.3,1455.0 873.0,1456.4 M1050.7,1146.2 C1050.2,1147.9 1048.8,1152.3 1047.6,1156.4 C1046.4,1160.5 1044.9,1166.0 1043.5,1170.8 C1042.1,1175.6 1040.7,1180.7 1039.4,1185.2 C1038.0,1189.6 1036.6,1193.4 1035.3,1197.5 C1033.9,1201.6 1032.5,1205.7 1031.2,1209.9 C1029.8,1214.0 1028.4,1218.4 1027.0,1222.2 C1025.7,1225.9 1024.3,1229.0 1022.9,1232.5 C1021.6,1235.9 1020.2,1239.5 1018.8,1242.7 C1017.5,1246.0 1016.1,1248.9 1014.7,1252.0 C1013.4,1255.1 1012.0,1258.5 1010.6,1261.2 C1009.2,1264.0 1007.9,1266.4 1006.5,1268.4 C1005.1,1270.5 1004.1,1271.8 1002.4,1273.5 C1000.7,1275.3 998.1,1277.7 996.2,1278.7 C994.3,1279.7 992.5,1279.0 991.1,1279.4 C989.7,1279.8 988.7,1279.9 987.6,1281.2 C986.6,1282.5 985.8,1285.2 984.9,1287.4 C984.0,1289.5 983.1,1291.9 982.2,1294.2 C981.2,1296.5 980.3,1298.8 979.4,1301.1 C978.5,1303.4 977.6,1305.7 976.7,1308.0 C975.8,1310.2 974.8,1312.5 973.9,1314.8 C973.0,1317.1 972.1,1319.4 971.2,1321.7 C970.3,1324.0 969.3,1326.3 968.4,1328.5 C967.5,1330.8 966.6,1333.1 965.7,1335.4 C964.8,1337.7 963.9,1340.0 962.9,1342.3 C962.0,1344.6 961.1,1346.8 960.2,1349.1 C959.3,1351.4 958.4,1353.7 957.5,1356.0 C956.5,1358.3 955.6,1360.6 954.7,1362.9 C953.8,1365.2 952.9,1367.0 952.0,1369.7 C951.0,1372.5 949.7,1377.7 949.2,1379.3 M1052.7,1148.2 C1052.4,1150.3 1051.5,1156.1 1050.7,1160.5 C1049.8,1165.0 1048.8,1169.4 1047.6,1174.9 C1046.4,1180.4 1044.9,1187.3 1043.5,1193.4 C1042.1,1199.6 1040.7,1206.1 1039.4,1211.9 C1038.0,1217.7 1036.6,1222.9 1035.3,1228.3 C1033.9,1233.8 1032.5,1239.6 1031.2,1244.8 C1029.8,1249.9 1028.4,1254.4 1027.0,1259.2 C1025.7,1264.0 1024.3,1268.7 1022.9,1273.5 C1021.6,1278.3 1020.2,1283.5 1018.8,1287.9 C1017.5,1292.4 1016.1,1296.1 1014.7,1300.2 C1013.4,1304.4 1012.0,1309.2 1010.6,1312.6 C1009.2,1316.0 1007.9,1318.4 1006.5,1320.8 C1005.1,1323.2 1004.1,1325.6 1002.4,1327.0 C1000.7,1328.3 998.1,1328.5 996.2,1329.0 C994.3,1329.6 992.5,1329.7 991.1,1330.3 C989.7,1330.9 988.9,1331.4 987.6,1332.7 C986.4,1334.0 984.9,1336.1 983.5,1338.2 C982.2,1340.2 980.6,1342.7 979.4,1345.0 C978.3,1347.3 977.6,1349.6 976.7,1351.9 C975.8,1354.2 974.8,1356.5 973.9,1358.7 C973.0,1361.0 972.1,1363.3 971.2,1365.6 C970.3,1367.9 969.3,1370.2 968.4,1372.5 C967.5,1374.8 966.6,1377.0 965.7,1379.3 C964.8,1381.6 963.9,1383.9 962.9,1386.2 C962.0,1388.5 961.3,1387.4 960.2,1393.1 C959.1,1398.7 956.8,1415.5 956.1,1420.0 M1016.8,1343.4 C1017.5,1342.4 1019.7,1339.1 1020.9,1337.2 C1022.1,1335.3 1022.9,1334.8 1024.0,1332.1 C1025.0,1329.4 1026.2,1324.7 1027.0,1320.8 C1027.9,1316.9 1028.4,1312.6 1029.1,1308.5 C1029.8,1304.4 1030.5,1300.2 1031.2,1296.1 C1031.8,1292.0 1032.5,1287.9 1033.2,1283.8 C1033.9,1279.7 1034.6,1275.6 1035.3,1271.5 C1035.9,1267.4 1036.6,1263.3 1037.3,1259.2 C1038.0,1255.1 1038.7,1250.9 1039.4,1246.8 C1040.1,1242.7 1040.7,1238.6 1041.4,1234.5 C1042.1,1230.4 1042.8,1226.6 1043.5,1222.2 C1044.2,1217.7 1044.8,1212.9 1045.5,1207.8 C1046.3,1202.7 1047.1,1197.2 1048.0,1191.4 C1048.9,1185.5 1049.7,1179.4 1050.7,1172.9 C1051.6,1166.4 1053.2,1155.8 1053.8,1152.3 M981.4,1145.8 C981.8,1146.8 983.1,1149.9 983.9,1152.3 C984.7,1154.8 985.1,1155.8 986.0,1160.5 C986.8,1165.3 988.2,1174.2 989.0,1181.1 C989.9,1187.9 990.8,1198.2 991.1,1201.6 M799.0,1386.5 C802.4,1385.9 809.3,1384.8 819.5,1382.4 C829.8,1380.0 846.9,1376.3 860.6,1372.2 C874.3,1368.0 888.0,1362.9 901.7,1357.8 C915.4,1352.6 930.8,1346.1 942.8,1341.3 C954.8,1336.5 965.6,1331.6 973.6,1329.0 C981.7,1326.4 988.2,1326.4 991.1,1325.9 M799.0,1396.8 C805.8,1396.5 826.4,1395.4 840.1,1394.8 C853.8,1394.1 869.2,1394.1 881.2,1392.7 C893.2,1391.3 901.7,1390.0 912.0,1386.5 C922.3,1383.1 932.5,1376.9 942.8,1372.2 C953.1,1367.4 965.6,1360.9 973.6,1357.8 C981.7,1354.7 986.6,1354.0 991.1,1353.7 C995.5,1353.3 997.1,1354.7 1000.3,1355.7 C1003.6,1356.7 1007.2,1358.1 1010.6,1359.8 C1014.0,1361.5 1017.5,1363.9 1020.9,1366.0 C1024.3,1368.0 1027.0,1369.4 1031.2,1372.2 C1035.3,1374.9 1040.2,1379.7 1045.5,1382.4 C1050.8,1385.2 1053.5,1386.4 1063.0,1388.6 C1072.5,1390.8 1095.9,1394.4 1102.4,1395.6 M799.0,1434.8 C805.8,1435.0 826.4,1435.7 840.1,1435.8 C853.8,1436.0 867.5,1436.9 881.2,1435.8 C894.9,1434.8 908.6,1432.8 922.3,1429.7 C936.0,1426.6 951.9,1420.1 963.4,1417.4 C974.8,1414.6 984.9,1415.0 991.1,1413.2 C997.3,1411.5 997.1,1408.8 1000.3,1407.1 C1003.6,1405.4 1007.2,1403.3 1010.6,1403.0 C1014.0,1402.6 1017.5,1403.3 1020.9,1405.0 C1024.3,1406.7 1027.0,1410.5 1031.2,1413.2 C1035.3,1416.0 1040.2,1419.1 1045.5,1421.5 C1050.8,1423.9 1053.5,1425.4 1063.0,1427.6 C1072.5,1429.8 1095.9,1433.4 1102.4,1434.6 M799.0,1460.5 C804.1,1460.5 819.5,1459.8 829.8,1460.5 C840.1,1461.2 850.4,1464.6 860.6,1464.6 C870.9,1464.6 881.2,1463.2 891.5,1460.5 C901.7,1457.8 912.0,1451.9 922.3,1448.2 C932.5,1444.4 941.6,1439.8 953.1,1437.9 C964.6,1436.0 982.9,1436.9 991.1,1436.9 C999.3,1436.9 998.5,1438.1 1002.4,1437.9 C1006.3,1437.7 1011.0,1435.8 1014.7,1435.8 C1018.5,1435.8 1021.2,1436.2 1025.0,1437.9 C1028.8,1439.6 1033.2,1443.7 1037.3,1446.1 C1041.4,1448.5 1045.4,1450.6 1049.6,1452.3 C1053.9,1454.0 1054.2,1454.7 1063.0,1456.4 C1071.8,1458.1 1095.9,1461.4 1102.4,1462.5 M799.0,1499.5 C804.1,1499.9 819.5,1499.9 829.8,1501.6 C840.1,1503.3 850.4,1508.8 860.6,1509.8 C870.9,1510.8 881.2,1509.1 891.5,1507.8 C901.7,1506.4 912.0,1504.0 922.3,1501.6 C932.5,1499.2 941.6,1495.4 953.1,1493.4 C964.6,1491.4 979.1,1490.2 991.2,1489.6 C1003.3,1488.9 1014.2,1489.5 1025.7,1489.5 C1037.2,1489.4 1050.9,1488.6 1060.0,1489.3 C1069.1,1489.9 1073.5,1491.0 1080.5,1493.4 C1087.6,1495.8 1095.3,1501.6 1102.1,1503.6 C1109.0,1505.7 1115.0,1504.0 1121.6,1505.7 C1128.3,1507.4 1135.3,1510.8 1142.2,1513.9 C1149.0,1517.0 1155.9,1520.4 1162.7,1524.2 C1169.6,1528.0 1178.0,1532.7 1183.3,1536.5 C1188.5,1540.3 1190.6,1541.3 1194.3,1546.9 C1198.0,1552.5 1201.9,1561.6 1205.5,1569.9 C1209.1,1578.3 1212.1,1588.0 1215.9,1597.0 C1219.7,1606.0 1224.2,1615.3 1228.4,1624.0 C1232.5,1632.7 1236.7,1640.6 1240.9,1648.9 C1245.0,1657.3 1249.2,1665.6 1253.3,1673.9 C1257.5,1682.2 1261.6,1691.6 1265.8,1698.8 C1270.0,1706.1 1273.8,1712.0 1278.3,1717.5 C1282.8,1723.1 1285.5,1727.9 1292.8,1732.1 C1300.1,1736.2 1317.1,1740.7 1321.9,1742.5 M799.0,1524.2 C804.1,1524.9 819.5,1526.6 829.8,1528.3 C840.1,1530.0 850.4,1533.8 860.6,1534.5 C870.9,1535.1 881.2,1534.1 891.5,1532.4 C901.7,1530.7 912.0,1526.9 922.3,1524.2 C932.5,1521.4 941.6,1518.0 953.1,1516.0 C964.6,1513.9 984.8,1512.5 991.1,1511.9 M799.0,1405.0 C801.1,1401.9 807.2,1396.5 811.3,1386.5 C815.4,1376.6 819.5,1359.1 823.7,1345.4 C827.8,1331.8 831.9,1318.1 836.0,1304.4 C840.1,1290.7 844.2,1277.0 848.3,1263.3 C852.4,1249.6 856.9,1235.9 860.6,1222.2 C864.4,1208.5 868.3,1193.8 870.9,1181.1 C873.5,1168.4 875.2,1151.6 876.0,1145.8 M799.0,1448.2 C802.4,1443.0 812.7,1429.3 819.5,1417.4 C826.4,1405.4 833.9,1390.0 840.1,1376.3 C846.3,1362.6 851.4,1348.9 856.5,1335.2 C861.7,1321.5 866.5,1309.5 870.9,1294.1 C875.4,1278.7 879.8,1259.8 883.2,1242.7 C886.7,1225.6 889.4,1207.5 891.5,1191.4 C893.5,1175.2 894.9,1153.4 895.6,1145.8 M799.0,1493.4 C802.4,1489.3 812.7,1478.0 819.5,1468.7 C826.4,1459.5 833.2,1449.9 840.1,1437.9 C846.9,1425.9 853.8,1410.5 860.6,1396.8 C867.5,1383.1 875.0,1369.4 881.2,1355.7 C887.3,1342.0 892.8,1328.3 897.6,1314.6 C902.4,1300.9 906.2,1288.9 909.9,1273.5 C913.7,1258.1 917.5,1237.6 920.2,1222.2 C923.0,1206.8 924.7,1193.8 926.4,1181.1 C928.1,1168.4 929.8,1151.6 930.5,1145.8 M860.6,1548.8 C864.1,1542.3 874.3,1523.2 881.2,1509.8 C888.0,1496.5 894.9,1482.4 901.7,1468.7 C908.6,1455.0 915.4,1441.3 922.3,1427.6 C929.1,1413.9 936.0,1398.5 942.8,1386.5 C949.7,1374.6 957.2,1363.6 963.4,1355.7 C969.5,1347.8 975.2,1342.7 979.8,1339.3 C984.4,1335.9 989.2,1335.9 991.1,1335.2 M881.2,1548.8 C884.6,1542.3 894.9,1522.5 901.7,1509.8 C908.6,1497.1 915.4,1484.8 922.3,1472.8 C929.1,1460.8 936.0,1448.9 942.8,1437.9 C949.7,1426.9 957.5,1415.6 963.4,1407.1 C969.2,1398.5 973.1,1392.4 977.7,1386.5 C982.4,1380.7 988.9,1374.6 991.1,1372.2 M891.5,1548.8 C894.9,1542.3 905.1,1523.2 912.0,1509.8 C918.8,1496.5 925.7,1480.7 932.5,1468.7 C939.4,1456.7 946.2,1446.5 953.1,1437.9 C959.9,1429.3 967.3,1422.3 973.6,1417.4 C980.0,1412.4 982.6,1409.4 991.2,1408.4 C999.9,1407.4 1014.2,1410.9 1025.7,1411.4 C1037.2,1411.9 1050.9,1410.5 1060.0,1411.2 C1069.1,1411.8 1073.5,1412.9 1080.5,1415.3 C1087.6,1417.7 1095.3,1423.5 1102.1,1425.6 C1109.0,1427.6 1115.0,1426.6 1121.6,1427.6 C1128.3,1428.7 1135.3,1430.0 1142.2,1431.7 C1149.0,1433.4 1155.9,1434.5 1162.7,1437.9 C1169.6,1441.3 1176.4,1447.1 1183.3,1452.3 C1190.1,1457.4 1197.0,1463.2 1203.8,1468.7 C1210.7,1474.2 1217.5,1479.7 1224.4,1485.2 C1231.2,1490.6 1238.1,1496.8 1244.9,1501.6 C1251.8,1506.4 1258.6,1510.1 1265.4,1513.9 C1272.3,1517.7 1276.6,1520.8 1286.0,1524.2 C1295.4,1527.6 1316.0,1532.7 1321.9,1534.5 M1252.5,1549.2 C1253.4,1550.6 1254.2,1554.0 1257.5,1557.5 C1260.7,1560.9 1266.8,1565.8 1272.0,1569.9 C1277.2,1574.1 1283.1,1579.0 1288.7,1582.4 C1294.2,1585.9 1299.7,1589.3 1305.3,1590.7 C1310.8,1592.1 1319.1,1590.7 1321.9,1590.7 M1323.0,1676.5 C1318.0,1675.2 1301.6,1672.4 1293.2,1668.3 C1284.8,1664.2 1278.8,1659.4 1272.6,1651.9 C1266.5,1644.3 1261.7,1634.1 1256.2,1623.1 C1250.7,1612.1 1244.8,1598.8 1239.8,1586.1 C1234.7,1573.4 1229.1,1555.2 1225.9,1546.9 C1222.6,1538.7 1223.9,1540.6 1220.2,1536.5 C1216.6,1532.4 1210.0,1527.3 1203.8,1522.1 C1197.6,1517.0 1190.1,1510.5 1183.3,1505.7 C1176.4,1500.9 1169.6,1496.8 1162.7,1493.4 C1155.9,1489.9 1149.0,1487.2 1142.2,1485.2 C1135.3,1483.1 1128.3,1482.4 1121.6,1481.0 C1115.0,1479.7 1109.0,1479.0 1102.1,1476.9 C1095.3,1474.9 1087.6,1471.5 1080.5,1468.7 C1073.5,1466.0 1069.1,1461.8 1060.0,1460.5 C1050.9,1459.2 1037.2,1461.0 1025.7,1460.9 C1014.2,1460.8 1000.9,1460.2 991.2,1460.1 C981.5,1460.0 974.2,1457.7 967.5,1460.5 C960.8,1463.3 956.5,1468.7 951.0,1476.9 C945.6,1485.2 939.6,1498.1 934.6,1509.8 C929.6,1521.5 922.1,1537.6 920.9,1546.9 C919.8,1556.3 925.3,1557.4 927.9,1565.8 C930.4,1574.1 932.7,1586.6 936.2,1597.0 C939.7,1607.4 943.8,1620.2 948.7,1628.1 C953.5,1636.1 958.2,1641.5 965.3,1644.8 C972.4,1648.1 981.3,1647.6 991.3,1647.9 C1001.4,1648.2 1014.3,1647.0 1025.7,1646.9 C1037.1,1646.7 1050.8,1646.9 1060.0,1646.9 C1069.2,1646.9 1073.8,1646.9 1080.8,1646.9 C1087.8,1646.9 1095.3,1647.6 1102.2,1646.9 C1109.1,1646.2 1115.5,1643.7 1122.4,1642.7 C1129.2,1641.7 1136.2,1639.9 1143.1,1640.6 C1150.1,1641.3 1157.0,1644.8 1163.9,1646.9 C1170.9,1648.9 1177.8,1650.7 1184.7,1653.1 C1191.7,1655.5 1198.6,1658.6 1205.5,1661.4 C1212.4,1664.2 1219.4,1667.6 1226.3,1669.7 C1233.2,1671.8 1240.2,1673.5 1247.1,1673.9 C1254.0,1674.2 1255.4,1672.5 1267.9,1671.8 C1280.3,1671.1 1312.9,1670.1 1321.9,1669.7 M932.5,1548.8 C934.9,1543.4 942.1,1525.2 946.9,1516.0 C951.7,1506.7 956.5,1499.2 961.3,1493.4 C966.1,1487.5 970.7,1483.4 975.7,1481.0 C980.6,1478.6 987.0,1479.7 991.1,1479.0 C995.2,1478.3 997.1,1476.6 1000.3,1476.9 C1003.6,1477.3 1007.2,1479.0 1010.6,1481.0 C1014.0,1483.1 1016.8,1486.5 1020.9,1489.3 C1025.0,1492.0 1030.5,1495.1 1035.3,1497.5 C1040.1,1499.9 1045.0,1502.3 1049.6,1503.6 C1054.3,1505.0 1054.2,1504.8 1063.0,1505.7 C1071.8,1506.5 1095.9,1508.2 1102.4,1508.7 M823.7,1548.8 C828.1,1545.8 840.8,1538.6 850.4,1530.4 C859.9,1522.1 870.9,1513.2 881.2,1499.5 C891.5,1485.8 903.4,1463.6 912.0,1448.2 C920.6,1432.8 925.7,1420.8 932.5,1407.1 C939.4,1393.4 946.2,1376.9 953.1,1366.0 C959.9,1355.0 967.3,1346.1 973.6,1341.3 C980.0,1336.5 988.2,1337.9 991.1,1337.2 M799.0,1540.6 C805.8,1539.9 826.4,1538.2 840.1,1536.5 C853.8,1534.8 867.5,1534.8 881.2,1530.4 C894.9,1525.9 908.6,1514.6 922.3,1509.8 C936.0,1505.0 951.9,1503.3 963.4,1501.6 C974.8,1499.9 984.6,1500.9 991.1,1499.5 C997.6,1498.2 998.5,1493.0 1002.4,1493.4 C1006.3,1493.7 1011.0,1497.8 1014.7,1501.6 C1018.5,1505.4 1021.2,1511.9 1025.0,1516.0 C1028.8,1520.1 1032.9,1523.8 1037.3,1526.2 C1041.8,1528.6 1047.4,1529.3 1051.7,1530.4 C1056.0,1531.4 1054.5,1531.5 1063.0,1532.4 C1071.5,1533.3 1095.9,1535.4 1102.4,1536.0 M799.0,1548.8 C802.4,1547.5 812.7,1542.2 819.5,1540.6 C826.4,1539.1 833.2,1539.3 840.1,1539.6 C846.9,1539.9 853.8,1541.1 860.6,1542.7 C867.5,1544.2 877.8,1547.8 881.2,1548.8 M991.1,1283.8 C990.8,1287.2 989.9,1295.8 989.0,1304.4 C988.2,1312.9 987.2,1324.9 986.0,1335.2 C984.8,1345.4 983.6,1354.0 981.8,1366.0 C980.1,1378.0 977.7,1393.4 975.7,1407.1 C973.6,1420.8 971.6,1434.5 969.5,1448.2 C967.5,1461.9 965.5,1472.6 963.4,1489.3 C961.2,1505.9 958.0,1535.9 956.6,1548.0 C955.2,1560.0 955.7,1557.6 954.9,1561.6 C954.1,1565.6 952.8,1568.6 951.8,1572.0 C950.7,1575.5 949.7,1579.0 948.7,1582.4 C947.6,1585.9 946.6,1589.7 945.6,1592.8 C944.5,1595.9 943.6,1598.4 942.4,1601.1 C941.2,1603.9 939.7,1606.8 938.3,1609.4 C936.9,1612.0 935.5,1614.6 934.1,1616.7 C932.7,1618.8 930.7,1621.0 930.0,1621.9 M942.8,1548.8 C944.9,1540.6 951.7,1514.6 955.1,1499.5 C958.6,1484.5 960.6,1472.1 963.4,1458.4 C966.1,1444.7 968.8,1431.1 971.6,1417.4 C974.3,1403.7 977.2,1390.0 979.8,1376.3 C982.4,1362.6 985.1,1345.4 987.0,1335.2 C988.9,1324.9 990.4,1318.1 991.1,1314.6 M991.1,1325.9 C992.6,1327.8 997.4,1334.0 1000.3,1337.2 C1003.2,1340.5 1005.8,1343.4 1008.6,1345.4 C1011.3,1347.5 1014.0,1347.5 1016.8,1349.6 C1019.5,1351.6 1021.9,1355.0 1025.0,1357.8 C1028.1,1360.5 1031.8,1363.6 1035.3,1366.0 C1038.7,1368.4 1040.9,1370.4 1045.5,1372.2 C1050.2,1373.9 1053.5,1374.8 1063.0,1376.3 C1072.5,1377.7 1095.9,1380.1 1102.4,1380.9 M991.1,1194.4 C992.6,1193.9 997.1,1193.2 1000.3,1191.4 C1003.6,1189.5 1007.5,1186.6 1010.6,1183.1 C1013.7,1179.7 1016.4,1175.3 1018.8,1170.8 C1021.2,1166.4 1023.3,1160.6 1025.0,1156.4 C1026.7,1152.3 1028.4,1147.5 1029.1,1145.8 M991.1,1203.7 C992.6,1203.3 997.1,1203.3 1000.3,1201.6 C1003.6,1199.9 1007.5,1196.8 1010.6,1193.4 C1013.7,1190.0 1016.4,1185.5 1018.8,1181.1 C1021.2,1176.6 1023.1,1172.6 1025.0,1166.7 C1026.9,1160.8 1029.3,1149.2 1030.1,1145.8 M991.1,1242.7 C993.0,1241.7 998.8,1240.0 1002.4,1236.6 C1006.0,1233.1 1009.6,1227.3 1012.7,1222.2 C1015.7,1217.0 1018.1,1211.9 1020.9,1205.7 C1023.6,1199.6 1026.7,1192.0 1029.1,1185.2 C1031.5,1178.4 1033.6,1171.2 1035.3,1164.7 C1037.0,1158.1 1038.7,1148.9 1039.4,1145.8 M991.1,1314.6 C992.6,1314.3 997.1,1314.6 1000.3,1312.6 C1003.6,1310.5 1007.5,1306.4 1010.6,1302.3 C1013.7,1298.2 1016.1,1293.7 1018.8,1287.9 C1021.6,1282.1 1024.3,1274.9 1027.0,1267.4 C1029.8,1259.8 1032.5,1252.0 1035.3,1242.7 C1038.0,1233.5 1041.1,1222.2 1043.5,1211.9 C1045.9,1201.6 1047.9,1192.1 1049.6,1181.1 C1051.4,1170.1 1053.1,1151.6 1053.8,1145.8 M1025.0,1357.8 C1025.7,1355.0 1027.4,1348.5 1029.1,1341.3 C1030.8,1334.1 1033.2,1324.2 1035.3,1314.6 C1037.3,1305.0 1039.4,1294.1 1041.4,1283.8 C1043.5,1273.5 1045.5,1263.3 1047.6,1253.0 C1049.6,1242.7 1052.0,1232.5 1053.8,1222.2 C1055.5,1211.9 1056.5,1201.6 1057.9,1191.4 C1059.2,1181.1 1061.3,1165.7 1062.0,1160.5 M1004.4,1540.6 C1006.2,1537.2 1011.3,1525.9 1014.7,1520.1 C1018.1,1514.3 1021.6,1509.1 1025.0,1505.7 C1028.4,1502.3 1031.2,1501.2 1035.3,1499.5 C1039.4,1497.8 1045.0,1496.5 1049.6,1495.4 C1054.3,1494.4 1054.2,1494.2 1063.0,1493.4 C1071.8,1492.5 1095.9,1490.8 1102.4,1490.3 M1188.4,1166.7 C1188.7,1167.9 1189.8,1171.3 1190.5,1173.9 C1191.1,1176.5 1191.8,1179.2 1192.5,1182.1 C1193.2,1185.0 1193.8,1188.3 1194.6,1191.4 C1195.4,1194.4 1196.4,1197.5 1197.2,1200.6 C1198.1,1203.7 1199.0,1206.8 1199.7,1209.9 C1200.5,1212.9 1201.1,1216.0 1201.8,1219.1 C1202.4,1222.2 1203.1,1225.3 1203.8,1228.3 C1204.5,1231.4 1205.1,1234.5 1205.9,1237.6 C1206.6,1240.7 1207.5,1243.8 1208.3,1246.8 C1209.1,1249.9 1209.8,1253.0 1210.6,1256.1 C1211.4,1259.2 1212.3,1262.2 1213.1,1265.3 C1213.8,1268.4 1214.4,1271.5 1215.1,1274.6 C1215.9,1277.6 1216.8,1280.7 1217.6,1283.8 C1218.4,1286.9 1219.1,1290.0 1219.8,1293.1 C1220.6,1296.1 1221.6,1299.2 1222.3,1302.3 C1223.1,1305.4 1223.6,1308.5 1224.4,1311.5 C1225.1,1314.6 1226.2,1317.7 1227.0,1320.8 C1227.9,1323.9 1228.6,1327.0 1229.5,1330.0 C1230.4,1333.1 1231.5,1336.4 1232.6,1339.3 C1233.6,1342.2 1234.5,1344.8 1235.7,1347.5 C1236.9,1350.2 1238.2,1353.3 1239.8,1355.7 C1241.3,1358.1 1244.0,1360.9 1244.9,1361.9 M1183.3,1205.7 C1183.7,1207.3 1185.1,1211.9 1185.9,1215.0 C1186.8,1218.1 1187.6,1221.2 1188.4,1224.2 C1189.2,1227.3 1190.1,1230.4 1190.9,1233.5 C1191.7,1236.6 1192.3,1239.6 1193.1,1242.7 C1193.9,1245.8 1194.8,1248.9 1195.6,1252.0 C1196.4,1255.1 1197.3,1258.1 1198.1,1261.2 C1198.8,1264.3 1199.5,1267.4 1200.3,1270.5 C1201.1,1273.5 1201.9,1276.1 1202.8,1279.7 C1203.7,1283.3 1204.8,1287.9 1205.9,1292.0 C1206.9,1296.1 1207.8,1299.9 1208.9,1304.4 C1210.1,1308.8 1211.5,1313.6 1213.1,1318.7 C1214.6,1323.9 1216.3,1329.7 1218.2,1335.2 C1220.1,1340.7 1223.3,1348.9 1224.4,1351.6 M1175.1,1302.3 C1175.4,1303.5 1176.4,1307.1 1177.1,1309.5 C1177.8,1311.9 1178.5,1314.3 1179.2,1316.7 C1179.8,1319.1 1180.5,1321.5 1181.2,1323.9 C1181.9,1326.3 1182.5,1328.7 1183.3,1331.1 C1184.0,1333.5 1184.9,1335.9 1185.7,1338.3 C1186.6,1340.7 1187.4,1342.9 1188.4,1345.4 C1189.4,1348.0 1190.5,1350.6 1191.5,1353.7 C1192.5,1356.7 1193.5,1360.9 1194.6,1363.9 C1195.6,1367.0 1196.6,1369.4 1197.6,1372.2 C1198.7,1374.9 1199.7,1378.0 1200.7,1380.4 C1201.8,1382.8 1202.6,1383.5 1203.8,1386.5 C1205.0,1389.6 1206.6,1395.4 1207.9,1398.9 C1209.3,1402.3 1211.3,1405.7 1212.0,1407.1 M1160.7,1341.3 C1160.3,1339.6 1159.3,1334.7 1158.6,1331.1 C1157.9,1327.5 1157.2,1323.2 1156.6,1319.8 C1155.9,1316.3 1155.0,1313.8 1154.5,1310.5 C1154.0,1307.3 1154.0,1305.0 1153.7,1300.2 C1153.3,1295.5 1153.0,1287.4 1152.5,1281.8 C1151.9,1276.1 1151.1,1271.5 1150.4,1266.4 C1149.7,1261.2 1148.7,1253.5 1148.3,1250.9 M1154.9,1154.4 C1155.3,1156.4 1156.3,1162.6 1157.0,1166.7 C1157.7,1170.8 1158.3,1175.1 1159.0,1179.0 C1159.7,1183.0 1160.4,1186.6 1161.1,1190.3 C1161.8,1194.1 1162.4,1197.9 1163.1,1201.6 C1163.8,1205.4 1164.5,1209.2 1165.2,1212.9 C1165.9,1216.7 1166.6,1220.6 1167.2,1224.2 C1167.9,1227.8 1168.6,1231.1 1169.3,1234.5 C1170.0,1237.9 1170.7,1241.4 1171.4,1244.8 C1172.0,1248.2 1172.7,1251.6 1173.4,1255.1 C1174.1,1258.5 1174.8,1261.9 1175.5,1265.3 C1176.1,1268.7 1176.8,1272.3 1177.5,1275.6 C1178.2,1278.8 1178.9,1281.8 1179.6,1284.8 C1180.3,1287.9 1180.9,1291.2 1181.6,1294.1 C1182.3,1297.0 1183.0,1299.6 1183.7,1302.3 C1184.4,1305.0 1185.0,1307.8 1185.7,1310.5 C1186.4,1313.3 1187.1,1316.0 1187.8,1318.7 C1188.5,1321.5 1189.2,1324.2 1189.8,1327.0 C1190.5,1329.7 1191.2,1332.4 1191.9,1335.2 C1192.6,1337.9 1193.3,1340.7 1194.0,1343.4 C1194.6,1346.1 1195.0,1347.8 1196.0,1351.6 C1197.0,1355.4 1198.4,1360.9 1199.7,1366.0 C1201.0,1371.1 1202.4,1377.3 1203.8,1382.4 C1205.2,1387.6 1206.2,1391.7 1207.9,1396.8 C1209.6,1401.9 1213.1,1410.5 1214.1,1413.2 M1161.7,1149.2 C1162.0,1151.5 1163.1,1158.3 1163.8,1162.6 C1164.4,1166.9 1165.1,1170.6 1165.8,1174.9 C1166.6,1179.2 1167.5,1183.8 1168.3,1188.3 C1169.0,1192.7 1169.6,1197.2 1170.3,1201.6 C1171.0,1206.1 1171.9,1210.5 1172.6,1215.0 C1173.3,1219.4 1174.0,1223.9 1174.6,1228.3 C1175.3,1232.8 1176.0,1237.4 1176.7,1241.7 C1177.4,1246.0 1178.1,1249.9 1178.7,1254.0 C1179.4,1258.1 1180.1,1262.2 1180.8,1266.4 C1181.5,1270.5 1182.1,1274.4 1182.9,1278.7 C1183.6,1283.0 1184.4,1287.1 1185.3,1292.0 C1186.2,1297.0 1187.4,1303.0 1188.4,1308.5 C1189.4,1313.9 1190.5,1319.8 1191.5,1324.9 C1192.5,1330.0 1194.1,1336.9 1194.6,1339.3 M1212.0,1148.2 C1212.4,1150.3 1213.4,1156.4 1214.1,1160.5 C1214.8,1164.7 1215.5,1168.8 1216.1,1172.9 C1216.8,1177.0 1217.3,1181.1 1218.2,1185.2 C1219.1,1189.3 1220.2,1193.4 1221.3,1197.5 C1222.3,1201.6 1223.8,1207.8 1224.4,1209.9 M1232.6,1153.4 C1232.9,1155.1 1233.9,1160.2 1234.6,1163.6 C1235.3,1167.1 1235.9,1170.5 1236.7,1173.9 C1237.4,1177.3 1238.4,1180.7 1239.2,1184.2 C1239.9,1187.6 1240.5,1190.8 1241.2,1194.4 C1241.9,1198.0 1242.7,1202.1 1243.5,1205.7 C1244.2,1209.3 1244.8,1212.6 1245.5,1216.0 C1246.3,1219.4 1247.2,1222.9 1248.0,1226.3 C1248.7,1229.7 1249.3,1233.1 1250.0,1236.6 C1250.8,1240.0 1251.7,1243.4 1252.5,1246.8 C1253.3,1250.3 1254.0,1253.7 1254.8,1257.1 C1255.5,1260.5 1256.1,1264.0 1256.8,1267.4 C1257.5,1270.8 1258.5,1275.9 1258.9,1277.6 M1263.4,1156.4 C1263.7,1158.5 1264.7,1164.7 1265.4,1168.8 C1266.2,1172.9 1267.1,1177.1 1267.9,1181.1 C1268.7,1185.1 1269.4,1188.9 1270.2,1192.8 C1271.0,1196.7 1271.9,1200.4 1272.6,1204.3 C1273.4,1208.2 1274.1,1212.2 1274.9,1216.0 C1275.7,1219.9 1276.4,1223.5 1277.2,1227.3 C1277.9,1231.1 1278.6,1234.8 1279.4,1238.6 C1280.2,1242.4 1281.1,1246.5 1281.9,1249.9 C1282.6,1253.3 1283.3,1255.7 1283.9,1259.2 C1284.6,1262.6 1285.3,1266.9 1286.0,1270.5 C1286.7,1274.1 1287.4,1277.3 1288.0,1280.7 C1288.7,1284.2 1289.3,1287.8 1290.1,1291.0 C1290.9,1294.3 1291.8,1297.2 1292.6,1300.2 C1293.3,1303.3 1293.9,1306.4 1294.6,1309.5 C1295.3,1312.6 1296.2,1315.7 1296.9,1318.7 C1297.6,1321.8 1298.2,1324.9 1298.9,1328.0 C1299.7,1331.1 1300.6,1334.0 1301.4,1337.2 C1302.2,1340.5 1302.6,1343.9 1303.5,1347.5 C1304.3,1351.1 1306.0,1356.9 1306.5,1358.8 M1129.9,1145.8 C1130.5,1155.1 1131.9,1182.0 1134.0,1201.6 C1136.0,1221.2 1139.1,1242.7 1142.2,1263.3 C1145.3,1283.8 1149.0,1307.8 1152.5,1324.9 C1155.9,1342.0 1159.0,1352.3 1162.7,1366.0 C1166.5,1379.7 1170.3,1393.4 1175.1,1407.1 C1179.8,1420.8 1186.0,1434.5 1191.5,1448.2 C1197.0,1461.9 1202.4,1475.6 1207.9,1489.3 C1213.4,1503.0 1220.6,1520.4 1224.4,1530.4 C1228.1,1540.3 1229.5,1545.8 1230.5,1548.8 M1136.0,1145.8 C1136.7,1155.1 1138.1,1182.0 1140.1,1201.6 C1142.2,1221.2 1145.3,1242.7 1148.3,1263.3 C1151.4,1283.8 1154.8,1306.1 1158.6,1324.9 C1162.4,1343.7 1166.1,1359.1 1170.9,1376.3 C1175.7,1393.4 1181.9,1412.2 1187.4,1427.6 C1192.9,1443.0 1198.3,1455.0 1203.8,1468.7 C1209.3,1482.4 1214.9,1496.8 1220.2,1509.8 C1225.6,1522.8 1230.5,1539.3 1235.7,1546.9 C1240.8,1554.5 1245.9,1553.3 1251.2,1555.4 C1256.6,1557.5 1261.6,1558.5 1267.9,1559.6 C1274.1,1560.6 1279.7,1561.6 1288.7,1561.6 C1297.7,1561.6 1316.4,1559.9 1321.9,1559.6 M1144.2,1145.8 C1144.9,1155.1 1146.3,1182.0 1148.3,1201.6 C1150.4,1221.2 1153.5,1242.7 1156.6,1263.3 C1159.6,1283.8 1163.1,1307.8 1166.8,1324.9 C1170.6,1342.0 1174.4,1352.3 1179.2,1366.0 C1184.0,1379.7 1189.8,1393.4 1195.6,1407.1 C1201.4,1420.8 1207.6,1434.5 1214.1,1448.2 C1220.6,1461.9 1227.8,1475.6 1234.6,1489.3 C1241.5,1503.0 1250.0,1520.4 1255.2,1530.4 C1260.3,1540.3 1263.7,1545.8 1265.4,1548.8 M1150.4,1145.8 C1150.9,1153.4 1152.1,1175.2 1153.5,1191.4 C1154.8,1207.5 1156.4,1225.6 1158.6,1242.7 C1160.8,1259.8 1164.1,1278.7 1166.8,1294.1 C1169.6,1309.5 1171.6,1323.2 1175.1,1335.2 C1178.5,1347.2 1182.6,1357.4 1187.4,1366.0 C1192.2,1374.6 1197.6,1381.4 1203.8,1386.5 C1210.0,1391.7 1217.5,1394.4 1224.4,1396.8 C1231.2,1399.2 1238.1,1399.9 1244.9,1400.9 C1251.8,1401.9 1258.6,1401.9 1265.4,1403.0 C1272.3,1404.0 1276.6,1406.4 1286.0,1407.1 C1295.4,1407.8 1316.0,1407.1 1321.9,1407.1 M1162.7,1145.8 C1163.4,1155.1 1164.8,1182.0 1166.8,1201.6 C1168.9,1221.2 1172.0,1244.4 1175.1,1263.3 C1178.1,1282.1 1181.2,1299.2 1185.3,1314.6 C1189.4,1330.0 1194.6,1346.1 1199.7,1355.7 C1204.8,1365.3 1210.0,1368.4 1216.1,1372.2 C1222.3,1375.9 1229.8,1376.6 1236.7,1378.3 C1243.5,1380.0 1250.4,1381.1 1257.2,1382.4 C1264.1,1383.8 1270.9,1385.5 1277.8,1386.5 C1284.6,1387.6 1291.0,1388.8 1298.3,1388.6 C1305.7,1388.4 1318.0,1386.0 1321.9,1385.5 M1175.1,1145.8 C1175.7,1155.1 1177.1,1183.8 1179.2,1201.6 C1181.2,1219.5 1184.3,1237.6 1187.4,1253.0 C1190.5,1268.4 1193.5,1280.4 1197.6,1294.1 C1201.8,1307.8 1206.9,1323.9 1212.0,1335.2 C1217.2,1346.5 1222.3,1355.7 1228.5,1361.9 C1234.6,1368.0 1241.5,1369.4 1249.0,1372.2 C1256.5,1374.9 1265.8,1375.9 1273.7,1378.3 C1281.5,1380.7 1288.2,1383.5 1296.3,1386.5 C1304.3,1389.6 1317.7,1395.1 1321.9,1396.8 M1193.5,1145.8 C1194.6,1153.4 1197.3,1176.9 1199.7,1191.4 C1202.1,1205.8 1204.5,1217.0 1207.9,1232.5 C1211.3,1247.9 1215.8,1268.4 1220.2,1283.8 C1224.7,1299.2 1229.5,1312.9 1234.6,1324.9 C1239.8,1336.9 1245.2,1347.2 1251.1,1355.7 C1256.9,1364.3 1263.1,1369.4 1269.6,1376.3 C1276.1,1383.1 1283.9,1390.0 1290.1,1396.8 C1296.3,1403.7 1301.2,1411.0 1306.5,1417.4 C1311.8,1423.7 1319.4,1431.9 1321.9,1434.8 M1212.0,1145.8 C1213.1,1153.4 1215.8,1176.9 1218.2,1191.4 C1220.6,1205.8 1223.3,1218.8 1226.4,1232.5 C1229.5,1246.1 1232.9,1259.8 1236.7,1273.5 C1240.5,1287.2 1244.6,1302.6 1249.0,1314.6 C1253.5,1326.6 1258.6,1336.9 1263.4,1345.4 C1268.2,1354.0 1273.0,1359.1 1277.8,1366.0 C1282.6,1372.8 1288.0,1379.7 1292.2,1386.5 C1296.3,1393.4 1299.3,1400.2 1302.4,1407.1 C1305.5,1413.9 1307.4,1422.8 1310.6,1427.6 C1313.9,1432.4 1320.1,1434.5 1321.9,1435.8 M1230.5,1145.8 C1231.5,1153.4 1234.3,1176.9 1236.7,1191.4 C1239.1,1205.8 1241.8,1218.8 1244.9,1232.5 C1248.0,1246.1 1251.8,1261.6 1255.2,1273.5 C1258.6,1285.5 1261.7,1294.1 1265.4,1304.4 C1269.2,1314.6 1274.0,1324.9 1277.8,1335.2 C1281.5,1345.4 1285.0,1357.4 1288.0,1366.0 C1291.1,1374.6 1293.9,1379.7 1296.3,1386.5 C1298.7,1393.4 1300.0,1396.8 1302.4,1407.1 C1304.8,1417.4 1307.4,1439.4 1310.6,1448.2 C1313.9,1456.9 1320.1,1457.6 1321.9,1459.5 M1249.0,1145.8 C1250.0,1153.4 1252.8,1176.9 1255.2,1191.4 C1257.6,1205.8 1260.3,1218.8 1263.4,1232.5 C1266.5,1246.1 1270.2,1261.6 1273.7,1273.5 C1277.1,1285.5 1280.5,1294.1 1283.9,1304.4 C1287.4,1314.6 1290.8,1324.9 1294.2,1335.2 C1297.6,1345.4 1301.4,1358.1 1304.5,1366.0 C1307.6,1373.9 1309.8,1379.0 1312.7,1382.4 C1315.6,1385.9 1320.4,1385.9 1321.9,1386.5 M1261.3,1145.8 C1262.4,1151.6 1264.8,1168.4 1267.5,1181.1 C1270.2,1193.8 1274.4,1208.5 1277.8,1222.2 C1281.2,1235.9 1284.6,1249.6 1288.0,1263.3 C1291.5,1277.0 1294.9,1290.7 1298.3,1304.4 C1301.7,1318.1 1305.5,1333.5 1308.6,1345.4 C1311.7,1357.4 1314.6,1369.6 1316.8,1376.3 C1319.0,1382.9 1321.1,1384.0 1321.9,1385.5 M1296.3,1145.8 C1297.3,1151.6 1300.0,1168.4 1302.4,1181.1 C1304.8,1193.8 1307.9,1208.5 1310.6,1222.2 C1313.4,1235.9 1317.0,1253.0 1318.9,1263.3 C1320.7,1273.5 1321.4,1280.4 1321.9,1283.8 M1321.9,1459.5 C1317.7,1459.6 1304.0,1461.0 1296.3,1460.5 C1288.6,1460.0 1282.6,1459.1 1275.7,1456.4 C1268.9,1453.6 1262.0,1448.9 1255.2,1444.1 C1248.3,1439.3 1241.5,1433.8 1234.6,1427.6 C1227.8,1421.5 1220.9,1413.9 1214.1,1407.1 C1207.2,1400.2 1200.0,1392.7 1193.5,1386.5 C1187.0,1380.4 1180.9,1374.2 1175.1,1370.1 C1169.2,1366.0 1164.1,1362.6 1158.6,1361.9 C1153.1,1361.2 1148.3,1363.3 1142.2,1366.0 C1136.0,1368.7 1128.3,1374.6 1121.6,1378.3 C1115.0,1382.1 1109.0,1387.9 1102.1,1388.6 C1095.3,1389.3 1087.6,1384.1 1080.5,1382.4 C1073.5,1380.7 1069.1,1379.0 1060.0,1378.3 C1050.9,1377.7 1037.2,1378.6 1025.7,1378.5 C1014.2,1378.4 1003.3,1376.3 991.2,1377.6 C979.1,1378.9 964.6,1382.3 953.1,1386.5 C941.6,1390.8 932.5,1398.2 922.3,1403.0 C912.0,1407.8 901.7,1411.9 891.5,1415.3 C881.2,1418.7 870.9,1421.8 860.6,1423.5 C850.4,1425.2 840.1,1425.6 829.8,1425.6 C819.5,1425.6 804.1,1423.9 799.0,1423.5 M991.4,1395.4 C997.1,1395.3 1014.3,1395.1 1025.7,1395.0 C1037.1,1394.9 1050.9,1394.1 1060.0,1394.8 C1069.1,1395.4 1073.5,1397.5 1080.5,1398.9 C1087.6,1400.2 1095.3,1401.6 1102.1,1403.0 C1109.0,1404.3 1115.0,1405.4 1121.6,1407.1 C1128.3,1408.8 1135.3,1410.5 1142.2,1413.2 C1149.0,1416.0 1155.9,1419.8 1162.7,1423.5 C1169.6,1427.3 1176.4,1431.7 1183.3,1435.8 C1190.1,1440.0 1197.0,1444.1 1203.8,1448.2 C1210.7,1452.3 1217.5,1456.4 1224.4,1460.5 C1231.2,1464.6 1238.1,1468.0 1244.9,1472.8 C1251.8,1477.6 1258.6,1485.2 1265.4,1489.3 C1272.3,1493.4 1276.6,1495.8 1286.0,1497.5 C1295.4,1499.2 1316.0,1499.2 1321.9,1499.5 M991.4,1530.5 C997.1,1530.5 1014.3,1530.4 1025.7,1530.4 C1037.1,1530.4 1050.9,1530.2 1060.0,1530.4 C1069.1,1530.5 1073.5,1529.3 1080.5,1531.4 C1087.6,1533.4 1095.3,1541.1 1102.1,1542.7 C1109.0,1544.2 1115.0,1540.6 1121.6,1540.6 C1128.3,1540.6 1137.0,1541.3 1142.2,1542.7 C1147.3,1544.0 1150.7,1547.8 1152.5,1548.8 M991.4,1362.5 C997.1,1362.4 1014.3,1362.2 1025.7,1362.1 C1037.1,1362.0 1050.9,1361.2 1060.0,1361.9 C1069.1,1362.5 1073.5,1362.6 1080.5,1366.0 C1087.6,1369.4 1095.3,1379.0 1102.1,1382.4 C1109.0,1385.9 1115.0,1384.1 1121.6,1386.5 C1128.3,1388.9 1136.0,1393.4 1142.2,1396.8 C1148.3,1400.2 1153.8,1401.9 1158.6,1407.1 C1163.4,1412.2 1168.9,1424.2 1170.9,1427.6 M982.6,1549.2 C982.1,1549.9 981.0,1551.3 979.9,1553.3 C978.7,1555.4 977.1,1558.9 975.7,1561.6 C974.3,1564.4 972.9,1567.2 971.5,1569.9 C970.1,1572.7 968.8,1575.5 967.4,1578.3 C966.0,1581.0 964.6,1583.8 963.2,1586.6 C961.8,1589.3 960.4,1592.5 959.1,1594.9 C957.7,1597.3 956.3,1599.2 954.9,1601.1 C953.5,1603.0 952.3,1604.9 950.7,1606.3 C949.2,1607.7 946.4,1608.9 945.6,1609.4 M1011.1,1549.2 C1011.1,1549.2 1011.1,1549.2 1011.1,1549.2 M1019.3,1644.8 C1020.4,1646.9 1023.5,1653.1 1025.6,1657.3 C1027.7,1661.4 1029.7,1665.9 1031.8,1669.7 C1033.9,1673.5 1036.0,1676.7 1038.1,1680.1 C1040.1,1683.6 1043.3,1688.8 1044.3,1690.5 M1011.0,1707.1 C1012.1,1708.9 1015.2,1714.1 1017.3,1717.5 C1019.3,1721.0 1021.4,1724.5 1023.5,1727.9 C1025.6,1731.4 1027.7,1734.9 1029.7,1738.3 C1031.8,1741.8 1033.9,1745.3 1036.0,1748.7 C1038.1,1752.2 1040.1,1755.6 1042.2,1759.1 C1044.3,1762.6 1046.4,1766.4 1048.4,1769.5 C1050.5,1772.6 1052.6,1775.4 1054.7,1777.8 C1056.8,1780.2 1059.9,1783.0 1060.9,1784.1 M799.0,1557.5 C804.2,1557.8 819.8,1559.9 830.2,1559.6 C840.6,1559.2 851.0,1556.8 861.4,1555.4 C871.8,1554.0 886.6,1552.3 892.5,1551.2 C898.5,1550.2 896.4,1549.6 897.2,1549.2 M799.0,1569.9 C801.1,1573.1 807.3,1586.6 811.5,1588.7 C815.6,1590.7 817.4,1585.5 823.9,1582.4 C830.5,1579.3 841.3,1573.4 851.0,1569.9 C860.7,1566.5 871.8,1564.4 882.1,1561.6 C892.5,1558.9 906.4,1555.4 913.3,1553.3 C920.2,1551.3 921.8,1549.9 923.5,1549.2 M799.0,1606.3 C804.2,1606.1 819.8,1606.1 830.2,1605.3 C840.6,1604.4 851.0,1603.2 861.4,1601.1 C871.8,1599.0 882.1,1596.3 892.5,1592.8 C902.9,1589.3 913.3,1584.1 923.7,1580.3 C934.1,1576.5 943.6,1572.4 954.9,1569.9 C966.2,1567.5 983.3,1565.8 991.3,1565.8 C999.3,1565.8 998.7,1568.2 1002.7,1569.9 C1006.7,1571.7 1011.0,1574.1 1015.2,1576.2 C1019.3,1578.3 1023.5,1580.7 1027.7,1582.4 C1031.8,1584.1 1036.0,1585.5 1040.1,1586.6 C1044.3,1587.6 1048.8,1588.3 1052.6,1588.7 C1056.4,1589.0 1054.6,1588.7 1063.0,1588.7 C1071.4,1588.6 1090.3,1586.8 1103.3,1588.4 C1116.3,1590.0 1127.9,1594.4 1141.1,1598.4 C1154.3,1602.5 1168.5,1607.3 1182.2,1612.8 C1195.9,1618.3 1209.6,1624.8 1223.3,1631.3 C1237.0,1637.8 1250.7,1647.1 1264.4,1651.9 C1278.1,1656.7 1295.8,1658.7 1305.5,1660.1 C1315.3,1661.5 1320.1,1660.1 1323.0,1660.1 M799.0,1628.1 C804.2,1627.5 819.8,1626.4 830.2,1624.0 C840.6,1621.6 851.0,1617.1 861.4,1613.6 C871.8,1610.1 882.1,1607.0 892.5,1603.2 C902.9,1599.4 913.3,1594.5 923.7,1590.7 C934.1,1586.9 943.6,1581.9 954.9,1580.3 C966.2,1578.8 982.6,1580.3 991.3,1581.4 C999.9,1582.4 1001.5,1584.0 1006.9,1586.6 C1012.2,1589.2 1018.3,1593.9 1023.5,1597.0 C1028.7,1600.1 1033.2,1603.2 1038.1,1605.3 C1042.9,1607.4 1048.4,1608.4 1052.6,1609.4 C1056.8,1610.5 1054.7,1610.2 1063.0,1611.5 C1071.3,1612.9 1089.0,1614.9 1102.3,1617.7 C1115.7,1620.4 1129.4,1624.3 1143.1,1628.1 C1156.9,1632.0 1170.9,1636.5 1184.7,1640.6 C1198.6,1644.8 1212.4,1649.6 1226.3,1653.1 C1240.2,1656.6 1251.9,1659.3 1267.9,1661.4 C1283.8,1663.5 1312.9,1664.9 1321.9,1665.6 M799.0,1640.6 C804.2,1640.3 819.8,1639.9 830.2,1638.5 C840.6,1637.2 851.0,1635.1 861.4,1632.3 C871.8,1629.5 882.1,1626.1 892.5,1621.9 C902.9,1617.8 913.3,1612.2 923.7,1607.4 C934.1,1602.5 943.6,1595.6 954.9,1592.8 C966.2,1590.1 979.5,1591.5 991.3,1590.8 C1003.1,1590.1 1014.3,1589.1 1025.7,1588.7 C1037.1,1588.3 1050.8,1588.5 1060.0,1588.7 C1069.2,1588.8 1073.8,1589.7 1080.8,1589.7 C1087.8,1589.7 1095.3,1588.1 1102.2,1588.7 C1109.1,1589.2 1115.5,1591.1 1122.4,1592.8 C1129.2,1594.5 1136.2,1596.6 1143.1,1599.0 C1150.1,1601.5 1157.0,1604.6 1163.9,1607.4 C1170.9,1610.1 1177.8,1612.9 1184.7,1615.7 C1191.7,1618.4 1198.6,1621.2 1205.5,1624.0 C1212.4,1626.8 1219.4,1629.5 1226.3,1632.3 C1233.2,1635.1 1240.2,1638.9 1247.1,1640.6 C1254.0,1642.4 1260.9,1642.7 1267.9,1642.7 C1274.8,1642.7 1279.7,1641.3 1288.7,1640.6 C1297.7,1639.9 1316.4,1638.9 1321.9,1638.5 M799.0,1646.9 C804.2,1647.9 819.8,1652.7 830.2,1653.1 C840.6,1653.4 851.0,1651.0 861.4,1648.9 C871.8,1646.9 882.1,1644.1 892.5,1640.6 C902.9,1637.2 913.3,1632.0 923.7,1628.1 C934.1,1624.3 943.6,1619.8 954.9,1617.8 C966.2,1615.7 982.6,1615.0 991.3,1615.7 C999.9,1616.4 1001.5,1619.8 1006.9,1621.9 C1012.2,1624.0 1018.3,1626.4 1023.5,1628.1 C1028.7,1629.9 1033.2,1632.0 1038.1,1632.3 C1042.9,1632.7 1048.4,1630.6 1052.6,1630.2 C1056.8,1629.9 1054.7,1630.2 1063.0,1630.2 C1071.3,1630.2 1095.9,1630.2 1102.5,1630.2 M799.0,1659.3 C804.2,1659.7 819.8,1660.7 830.2,1661.4 C840.6,1662.1 851.0,1664.5 861.4,1663.5 C871.8,1662.4 882.1,1658.3 892.5,1655.2 C902.9,1652.1 913.3,1647.6 923.7,1644.8 C934.1,1642.0 943.6,1639.9 954.9,1638.5 C966.2,1637.2 985.2,1636.8 991.3,1636.5 M799.0,1673.9 C804.2,1673.9 819.8,1673.2 830.2,1673.9 C840.6,1674.6 851.0,1678.0 861.4,1678.0 C871.8,1678.0 882.1,1676.7 892.5,1673.9 C902.9,1671.1 913.3,1665.2 923.7,1661.4 C934.1,1657.6 943.6,1653.1 954.9,1651.0 C966.2,1648.9 982.6,1650.0 991.3,1648.9 C999.9,1647.9 1001.5,1645.8 1006.9,1644.8 C1012.2,1643.7 1018.3,1642.7 1023.5,1642.7 C1028.7,1642.7 1033.2,1644.1 1038.1,1644.8 C1042.9,1645.5 1048.4,1646.5 1052.6,1646.9 C1056.8,1647.2 1054.7,1646.9 1063.0,1646.9 C1071.3,1646.9 1095.9,1646.9 1102.5,1646.9 M799.0,1680.1 C804.2,1681.2 819.8,1684.6 830.2,1686.4 C840.6,1688.1 851.0,1689.1 861.4,1690.5 C871.8,1691.9 882.1,1694.7 892.5,1694.7 C902.9,1694.7 913.3,1689.1 923.7,1690.5 C934.1,1691.9 943.6,1700.6 954.9,1703.0 C966.2,1705.4 982.6,1704.7 991.3,1705.1 C999.9,1705.4 1001.5,1705.4 1006.9,1705.1 C1012.2,1704.7 1018.3,1704.0 1023.5,1703.0 C1028.7,1701.9 1033.2,1700.2 1038.1,1698.8 C1042.9,1697.4 1048.4,1696.1 1052.6,1694.7 C1056.8,1693.3 1054.7,1692.5 1063.0,1690.5 C1071.3,1688.5 1095.9,1683.9 1102.5,1682.6 M799.0,1690.5 C804.2,1691.2 819.8,1692.6 830.2,1694.7 C840.6,1696.7 851.0,1700.2 861.4,1703.0 C871.8,1705.8 882.1,1708.2 892.5,1711.3 C902.9,1714.4 913.3,1720.0 923.7,1721.7 C934.1,1723.4 943.6,1721.0 954.9,1721.7 C966.2,1722.4 982.6,1724.8 991.3,1725.9 C999.9,1726.9 1001.5,1728.3 1006.9,1727.9 C1012.2,1727.6 1018.3,1725.9 1023.5,1723.8 C1028.7,1721.7 1033.2,1717.9 1038.1,1715.5 C1042.9,1713.0 1048.4,1711.0 1052.6,1709.2 C1056.8,1707.5 1054.7,1707.6 1063.0,1705.1 C1071.3,1702.5 1089.0,1695.6 1102.3,1693.8 C1115.7,1692.1 1129.4,1695.2 1143.1,1694.7 C1156.9,1694.1 1170.9,1692.9 1184.7,1690.5 C1198.6,1688.1 1212.4,1683.6 1226.3,1680.1 C1240.2,1676.7 1251.9,1672.8 1267.9,1669.7 C1283.8,1666.6 1312.9,1662.8 1321.9,1661.4 M799.0,1703.0 C804.2,1704.4 819.8,1709.2 830.2,1711.3 C840.6,1713.4 851.0,1713.7 861.4,1715.5 C871.8,1717.2 882.1,1718.9 892.5,1721.7 C902.9,1724.5 913.3,1728.6 923.7,1732.1 C934.1,1735.6 943.6,1740.4 954.9,1742.5 C966.2,1744.6 982.6,1743.9 991.3,1744.6 C999.9,1745.3 1001.5,1745.6 1006.9,1746.6 C1012.2,1747.7 1018.3,1749.8 1023.5,1750.8 C1028.7,1751.8 1033.2,1751.8 1038.1,1752.9 C1042.9,1753.9 1048.4,1756.0 1052.6,1757.0 C1056.8,1758.1 1054.7,1758.1 1063.0,1759.1 C1071.3,1760.1 1095.9,1762.4 1102.5,1763.1 M799.0,1715.5 C804.2,1716.8 819.8,1721.0 830.2,1723.8 C840.6,1726.5 851.0,1729.0 861.4,1732.1 C871.8,1735.2 882.1,1739.4 892.5,1742.5 C902.9,1745.6 913.3,1748.0 923.7,1750.8 C934.1,1753.6 943.6,1756.0 954.9,1759.1 C966.2,1762.2 979.5,1767.1 991.3,1769.5 C1003.1,1771.9 1014.3,1773.0 1025.7,1773.7 C1037.1,1774.4 1050.8,1773.7 1060.0,1773.7 C1069.2,1773.7 1073.8,1773.7 1080.8,1773.7 C1087.8,1773.7 1095.3,1773.3 1102.2,1773.7 C1109.1,1774.0 1115.5,1774.4 1122.4,1775.7 C1129.2,1777.1 1136.2,1779.6 1143.1,1782.0 C1150.1,1784.4 1157.0,1787.5 1163.9,1790.3 C1170.9,1793.1 1177.8,1795.8 1184.7,1798.6 C1191.7,1801.4 1198.6,1804.8 1205.5,1806.9 C1212.4,1809.0 1219.4,1810.7 1226.3,1811.1 C1233.2,1811.4 1240.2,1810.4 1247.1,1809.0 C1254.0,1807.6 1260.9,1805.2 1267.9,1802.8 C1274.8,1800.3 1279.7,1796.5 1288.7,1794.4 C1297.7,1792.4 1316.4,1791.0 1321.9,1790.3 M799.0,1723.8 C804.2,1724.5 819.8,1725.9 830.2,1727.9 C840.6,1730.0 851.0,1732.8 861.4,1736.2 C871.8,1739.7 882.1,1743.9 892.5,1748.7 C902.9,1753.6 913.3,1761.2 923.7,1765.3 C934.1,1769.5 943.6,1770.9 954.9,1773.7 C966.2,1776.4 982.6,1780.9 991.3,1782.0 C999.9,1783.0 1001.5,1781.3 1006.9,1779.9 C1012.2,1778.5 1018.3,1775.0 1023.5,1773.7 C1028.7,1772.3 1033.2,1771.6 1038.1,1771.6 C1042.9,1771.6 1048.4,1773.3 1052.6,1773.7 C1056.8,1774.0 1054.7,1773.7 1063.0,1773.7 C1071.3,1773.7 1095.9,1773.7 1102.5,1773.7 M799.0,1732.1 C804.2,1732.8 819.8,1734.5 830.2,1736.2 C840.6,1738.0 851.0,1738.3 861.4,1742.5 C871.8,1746.6 882.1,1754.3 892.5,1761.2 C902.9,1768.1 913.3,1778.5 923.7,1784.1 C934.1,1789.6 943.6,1791.7 954.9,1794.4 C966.2,1797.2 985.2,1799.6 991.3,1800.7 M799.0,1740.4 C804.2,1741.1 819.8,1742.5 830.2,1744.6 C840.6,1746.6 851.0,1748.0 861.4,1752.9 C871.8,1757.7 882.1,1765.0 892.5,1773.7 C902.9,1782.3 913.3,1797.2 923.7,1804.8 C934.1,1812.5 943.6,1814.9 954.9,1819.4 C966.2,1823.9 982.6,1830.1 991.3,1831.9 C999.9,1833.6 1001.5,1831.5 1006.9,1829.8 C1012.2,1828.1 1018.3,1823.9 1023.5,1821.5 C1028.7,1819.0 1033.2,1816.3 1038.1,1815.2 C1042.9,1814.2 1048.4,1815.2 1052.6,1815.2 C1056.8,1815.2 1054.7,1815.2 1063.0,1815.2 C1071.3,1815.2 1095.9,1815.2 1102.5,1815.2 M799.0,1748.7 C804.2,1748.7 819.8,1747.0 830.2,1748.7 C840.6,1750.4 851.0,1753.2 861.4,1759.1 C871.8,1765.0 882.1,1774.7 892.5,1784.1 C902.9,1793.4 913.3,1805.9 923.7,1815.2 C934.1,1824.6 943.6,1836.0 954.9,1840.2 C966.2,1844.4 979.5,1841.2 991.3,1840.5 C1003.1,1839.8 1014.3,1837.0 1025.7,1836.2 C1037.1,1835.5 1050.8,1835.4 1060.0,1836.0 C1069.2,1836.7 1073.8,1839.5 1080.8,1840.2 C1087.8,1840.9 1095.3,1840.5 1102.2,1840.2 C1109.1,1839.8 1115.5,1839.1 1122.4,1838.1 C1129.2,1837.1 1136.2,1835.0 1143.1,1833.9 C1150.1,1832.9 1157.0,1832.6 1163.9,1831.9 C1170.9,1831.2 1177.8,1830.8 1184.7,1829.8 C1191.7,1828.7 1198.6,1828.1 1205.5,1825.6 C1212.4,1823.2 1219.4,1820.4 1226.3,1815.2 C1233.2,1810.0 1240.2,1801.4 1247.1,1794.4 C1254.0,1787.5 1260.9,1779.9 1267.9,1773.7 C1274.8,1767.4 1279.7,1760.8 1288.7,1757.0 C1297.7,1753.2 1316.4,1751.8 1321.9,1750.8 M799.0,1767.4 C804.2,1767.4 819.8,1766.4 830.2,1767.4 C840.6,1768.5 851.0,1769.2 861.4,1773.7 C871.8,1778.2 882.1,1785.8 892.5,1794.4 C902.9,1803.1 913.3,1815.2 923.7,1825.6 C934.1,1836.0 943.6,1847.1 954.9,1856.8 C966.2,1866.5 979.5,1878.8 991.3,1884.0 C1003.1,1889.2 1014.3,1887.4 1025.7,1888.1 C1037.1,1888.8 1050.8,1887.7 1060.0,1888.0 C1069.2,1888.3 1073.8,1890.1 1080.8,1890.1 C1087.8,1890.1 1095.3,1888.7 1102.2,1888.0 C1109.1,1887.3 1115.5,1887.0 1122.4,1885.9 C1129.2,1884.9 1136.2,1883.1 1143.1,1881.8 C1150.1,1880.4 1157.0,1879.0 1163.9,1877.6 C1170.9,1876.2 1177.8,1875.5 1184.7,1873.4 C1191.7,1871.4 1198.6,1868.6 1205.5,1865.1 C1212.4,1861.7 1219.4,1858.2 1226.3,1852.7 C1233.2,1847.1 1240.2,1839.8 1247.1,1831.9 C1254.0,1823.9 1260.9,1812.8 1267.9,1804.8 C1274.8,1796.9 1279.7,1788.6 1288.7,1784.1 C1297.7,1779.6 1316.4,1778.9 1321.9,1777.8 M799.0,1775.7 C804.2,1776.4 819.8,1776.8 830.2,1779.9 C840.6,1783.0 851.0,1787.5 861.4,1794.4 C871.8,1801.4 882.1,1811.8 892.5,1821.5 C902.9,1831.2 913.3,1842.6 923.7,1852.7 C934.1,1862.7 943.6,1874.1 954.9,1881.8 C966.2,1889.4 982.6,1896.0 991.3,1898.4 C999.9,1900.8 1001.5,1898.0 1006.9,1896.3 C1012.2,1894.6 1018.3,1889.7 1023.5,1888.0 C1028.7,1886.3 1033.2,1885.9 1038.1,1885.9 C1042.9,1885.9 1048.4,1887.3 1052.6,1888.0 C1056.8,1888.7 1054.7,1888.7 1063.0,1890.1 C1071.3,1891.4 1092.5,1894.1 1102.3,1896.2 C1112.2,1898.3 1115.6,1901.8 1122.4,1902.5 C1129.2,1903.3 1136.2,1901.5 1143.1,1900.5 C1150.1,1899.4 1157.0,1897.3 1163.9,1896.3 C1170.9,1895.3 1177.8,1895.3 1184.7,1894.2 C1191.7,1893.2 1198.6,1892.8 1205.5,1890.1 C1212.4,1887.3 1219.4,1883.1 1226.3,1877.6 C1233.2,1872.1 1240.2,1864.4 1247.1,1856.8 C1254.0,1849.2 1260.9,1840.5 1267.9,1831.9 C1274.8,1823.2 1279.7,1811.1 1288.7,1804.8 C1297.7,1798.6 1316.4,1796.2 1321.9,1794.4 M799.0,1790.3 C804.2,1791.7 819.8,1793.8 830.2,1798.6 C840.6,1803.5 851.0,1810.7 861.4,1819.4 C871.8,1828.1 882.1,1839.5 892.5,1850.6 C902.9,1861.7 913.3,1875.2 923.7,1885.9 C934.1,1896.7 943.6,1908.4 954.9,1915.0 C966.2,1921.6 982.6,1924.0 991.3,1925.4 C999.9,1926.8 1001.5,1924.4 1006.9,1923.3 C1012.2,1922.3 1018.3,1920.2 1023.5,1919.2 C1028.7,1918.1 1033.2,1917.1 1038.1,1917.1 C1042.9,1917.1 1048.4,1918.8 1052.6,1919.2 C1056.8,1919.5 1054.7,1919.2 1063.0,1919.2 C1071.3,1919.2 1092.5,1919.5 1102.3,1919.2 C1112.2,1918.8 1115.6,1918.1 1122.4,1917.1 C1129.2,1916.1 1136.2,1914.0 1143.1,1912.9 C1150.1,1911.9 1157.0,1911.2 1163.9,1910.9 C1170.9,1910.5 1177.8,1911.6 1184.7,1910.9 C1191.7,1910.2 1198.6,1908.1 1205.5,1906.7 C1212.4,1905.3 1219.4,1906.7 1226.3,1902.5 C1233.2,1898.4 1240.2,1890.1 1247.1,1881.8 C1254.0,1873.4 1260.9,1863.0 1267.9,1852.7 C1274.8,1842.3 1279.7,1828.4 1288.7,1819.4 C1297.7,1810.4 1316.4,1802.1 1321.9,1798.6 M799.0,1798.6 C802.5,1799.6 812.9,1800.3 819.8,1804.8 C826.7,1809.3 833.6,1817.0 840.6,1825.6 C847.5,1834.3 854.4,1846.4 861.4,1856.8 C868.3,1867.2 875.2,1877.6 882.1,1888.0 C889.1,1898.4 896.0,1910.5 902.9,1919.2 C909.9,1927.8 916.8,1934.4 923.7,1940.0 C930.7,1945.5 941.0,1950.4 944.5,1952.4 M799.0,1634.4 C802.5,1635.8 812.9,1639.6 819.8,1642.7 C826.7,1645.8 833.6,1648.6 840.6,1653.1 C847.5,1657.6 854.4,1664.2 861.4,1669.7 C868.3,1675.3 875.2,1680.8 882.1,1686.4 C889.1,1691.9 896.0,1698.1 902.9,1703.0 C909.9,1707.8 916.8,1712.3 923.7,1715.5 C930.7,1718.6 937.6,1721.3 944.5,1721.7 C951.4,1722.0 957.5,1719.6 965.3,1717.5 C973.1,1715.5 981.3,1711.4 991.3,1709.4 C1001.4,1707.3 1014.3,1705.9 1025.7,1705.2 C1037.1,1704.4 1050.8,1704.7 1060.0,1705.1 C1069.2,1705.4 1073.8,1707.1 1080.8,1707.1 C1087.8,1707.1 1095.3,1705.8 1102.2,1705.1 C1109.1,1704.4 1115.5,1703.0 1122.4,1703.0 C1129.2,1703.0 1136.2,1704.0 1143.1,1705.1 C1150.1,1706.1 1157.0,1707.5 1163.9,1709.2 C1170.9,1711.0 1177.8,1713.0 1184.7,1715.5 C1191.7,1717.9 1198.6,1721.0 1205.5,1723.8 C1212.4,1726.5 1219.4,1729.0 1226.3,1732.1 C1233.2,1735.2 1240.2,1739.7 1247.1,1742.5 C1254.0,1745.3 1255.4,1747.0 1267.9,1748.7 C1280.3,1750.4 1312.9,1752.2 1321.9,1752.9 M799.0,1657.3 C802.5,1659.3 812.9,1664.9 819.8,1669.7 C826.7,1674.6 833.6,1680.8 840.6,1686.4 C847.5,1691.9 854.4,1696.7 861.4,1703.0 C868.3,1709.2 875.2,1716.8 882.1,1723.8 C889.1,1730.7 896.0,1738.0 902.9,1744.6 C909.9,1751.1 916.8,1759.1 923.7,1763.3 C930.7,1767.4 937.6,1769.2 944.5,1769.5 C951.4,1769.9 957.5,1766.5 965.3,1765.3 C973.1,1764.2 981.3,1763.1 991.3,1762.4 C1001.4,1761.7 1014.3,1761.5 1025.7,1761.3 C1037.1,1761.1 1050.8,1760.9 1060.0,1761.2 C1069.2,1761.5 1073.8,1763.3 1080.8,1763.3 C1087.8,1763.3 1095.3,1761.2 1102.2,1761.2 C1109.1,1761.2 1115.5,1761.9 1122.4,1763.3 C1129.2,1764.7 1136.2,1767.8 1143.1,1769.5 C1150.1,1771.2 1157.0,1771.9 1163.9,1773.7 C1170.9,1775.4 1177.8,1777.8 1184.7,1779.9 C1191.7,1782.0 1198.6,1783.7 1205.5,1786.1 C1212.4,1788.6 1219.4,1793.1 1226.3,1794.4 C1233.2,1795.8 1240.2,1795.1 1247.1,1794.4 C1254.0,1793.8 1255.4,1791.0 1267.9,1790.3 C1280.3,1789.6 1312.9,1790.3 1321.9,1790.3 M799.0,1669.7 C802.5,1671.5 812.9,1675.3 819.8,1680.1 C826.7,1685.0 833.6,1691.9 840.6,1698.8 C847.5,1705.8 854.4,1714.4 861.4,1721.7 C868.3,1729.0 875.2,1735.6 882.1,1742.5 C889.1,1749.4 896.0,1756.3 902.9,1763.3 C909.9,1770.2 916.8,1777.1 923.7,1784.1 C930.7,1791.0 937.6,1799.6 944.5,1804.8 C951.4,1810.0 957.5,1812.8 965.3,1815.2 C973.1,1817.7 987.0,1818.7 991.3,1819.4 M840.6,1958.7 C844.0,1953.8 854.4,1941.3 861.4,1929.6 C868.3,1917.8 875.2,1901.9 882.1,1888.0 C889.1,1874.1 896.0,1859.2 902.9,1846.4 C909.9,1833.6 916.8,1821.5 923.7,1811.1 C930.7,1800.7 937.6,1792.0 944.5,1784.1 C951.4,1776.1 957.5,1768.1 965.3,1763.3 C973.1,1758.4 981.3,1756.1 991.3,1755.1 C1001.4,1754.1 1014.3,1756.8 1025.7,1757.1 C1037.1,1757.5 1050.8,1756.7 1060.0,1757.0 C1069.2,1757.4 1073.8,1759.1 1080.8,1759.1 C1087.8,1759.1 1095.3,1758.1 1102.2,1757.0 C1109.1,1756.0 1115.5,1754.3 1122.4,1752.9 C1129.2,1751.5 1136.9,1750.1 1143.1,1748.7 C1149.4,1747.3 1154.2,1743.9 1159.8,1744.6 C1165.3,1745.3 1170.9,1749.4 1176.4,1752.9 C1182.0,1756.3 1187.5,1761.2 1193.0,1765.3 C1198.6,1769.5 1204.1,1775.0 1209.7,1777.8 C1215.2,1780.6 1220.1,1781.6 1226.3,1782.0 C1232.5,1782.3 1240.2,1780.9 1247.1,1779.9 C1254.0,1778.9 1255.4,1776.8 1267.9,1775.7 C1280.3,1774.7 1312.9,1774.0 1321.9,1773.7 M902.9,1958.7 C904.7,1956.6 909.9,1948.6 913.3,1946.2 C916.8,1943.8 918.5,1943.4 923.7,1944.1 C928.9,1944.8 937.6,1947.9 944.5,1950.4 C951.4,1952.8 961.8,1957.3 965.3,1958.7 M799.0,1586.6 C802.5,1584.8 812.9,1581.0 819.8,1576.2 C826.7,1571.3 836.0,1562.0 840.6,1557.5 C845.2,1553.0 846.3,1550.6 847.4,1549.2 M878.8,1549.2 C879.4,1552.0 879.9,1557.8 882.1,1565.8 C884.4,1573.7 887.3,1586.6 892.5,1597.0 C897.7,1607.4 906.4,1619.5 913.3,1628.1 C920.3,1636.8 927.2,1644.1 934.1,1648.9 C941.0,1653.8 945.4,1655.2 954.9,1657.3 C964.4,1659.3 979.5,1660.4 991.3,1661.5 C1003.1,1662.5 1014.3,1663.2 1025.7,1663.5 C1037.1,1663.9 1050.8,1663.3 1060.0,1663.5 C1069.2,1663.7 1073.8,1664.5 1080.8,1664.5 C1087.8,1664.5 1095.3,1664.0 1102.2,1663.5 C1109.1,1663.0 1115.5,1662.1 1122.4,1661.4 C1129.2,1660.7 1136.2,1660.0 1143.1,1659.3 C1150.1,1658.6 1157.0,1656.9 1163.9,1657.3 C1170.9,1657.6 1177.8,1659.7 1184.7,1661.4 C1191.7,1663.1 1198.6,1664.9 1205.5,1667.6 C1212.4,1670.4 1219.4,1674.9 1226.3,1678.0 C1233.2,1681.2 1240.2,1684.3 1247.1,1686.4 C1254.0,1688.4 1255.4,1689.8 1267.9,1690.5 C1280.3,1691.2 1312.9,1690.5 1321.9,1690.5 M991.3,1879.7 C993.9,1879.3 1001.5,1879.3 1006.9,1877.6 C1012.2,1875.9 1018.3,1871.7 1023.5,1869.3 C1028.7,1866.9 1033.2,1864.4 1038.1,1863.0 C1042.9,1861.7 1048.4,1861.3 1052.6,1861.0 C1056.8,1860.6 1054.7,1861.0 1063.0,1861.0 C1071.3,1861.0 1095.9,1861.0 1102.5,1861.0 M1321.9,1657.3 C1316.4,1656.2 1297.7,1652.4 1288.7,1651.0 C1279.7,1649.6 1274.8,1650.0 1267.9,1648.9 C1260.9,1647.9 1254.0,1646.2 1247.1,1644.8 C1240.2,1643.4 1233.2,1641.7 1226.3,1640.6 C1219.4,1639.6 1212.4,1639.2 1205.5,1638.5 C1198.6,1637.9 1191.7,1637.5 1184.7,1636.5 C1177.8,1635.4 1170.9,1634.4 1163.9,1632.3 C1157.0,1630.2 1150.1,1626.8 1143.1,1624.0 C1136.2,1621.2 1129.2,1617.8 1122.4,1615.7 C1115.5,1613.6 1109.1,1612.2 1102.2,1611.5 C1095.3,1610.8 1087.8,1611.5 1080.8,1611.5 C1073.8,1611.5 1069.2,1611.5 1060.0,1611.5 C1050.8,1611.5 1037.1,1611.9 1025.7,1611.5 C1014.3,1611.2 1003.1,1609.1 991.3,1609.4 C979.5,1609.8 966.2,1611.2 954.9,1613.6 C943.6,1616.0 934.1,1620.9 923.7,1624.0 C913.3,1627.1 902.9,1629.5 892.5,1632.3 C882.1,1635.1 871.8,1637.9 861.4,1640.6 C851.0,1643.4 840.6,1646.9 830.2,1648.9 C819.8,1651.0 804.2,1652.4 799.0,1653.1 M1321.9,1663.5 C1316.4,1663.1 1297.7,1662.1 1288.7,1661.4 C1279.7,1660.7 1274.8,1659.3 1267.9,1659.3 C1260.9,1659.3 1254.0,1661.8 1247.1,1661.4 C1240.2,1661.1 1233.2,1659.3 1226.3,1657.3 C1219.4,1655.2 1212.4,1651.7 1205.5,1648.9 C1198.6,1646.2 1191.7,1643.0 1184.7,1640.6 C1177.8,1638.2 1170.9,1635.8 1163.9,1634.4 C1157.0,1633.0 1150.1,1632.3 1143.1,1632.3 C1136.2,1632.3 1129.2,1633.7 1122.4,1634.4 C1115.5,1635.1 1109.1,1636.5 1102.2,1636.5 C1095.3,1636.5 1087.8,1635.4 1080.8,1634.4 C1073.8,1633.3 1069.2,1630.9 1060.0,1630.2 C1050.8,1629.6 1037.1,1630.4 1025.7,1630.4 C1014.3,1630.5 1003.1,1629.9 991.3,1630.5 C979.5,1631.2 966.2,1632.4 954.9,1634.4 C943.6,1636.4 934.1,1640.3 923.7,1642.7 C913.3,1645.1 902.9,1647.2 892.5,1648.9 C882.1,1650.7 871.8,1651.7 861.4,1653.1 C851.0,1654.5 840.6,1655.9 830.2,1657.3 C819.8,1658.6 804.2,1660.7 799.0,1661.4 M1321.9,1711.3 C1312.9,1711.3 1280.3,1711.3 1267.9,1711.3 C1255.4,1711.3 1254.0,1712.7 1247.1,1711.3 C1240.2,1709.9 1233.2,1706.4 1226.3,1703.0 C1219.4,1699.5 1212.4,1694.0 1205.5,1690.5 C1198.6,1687.0 1191.7,1684.3 1184.7,1682.2 C1177.8,1680.1 1170.9,1679.4 1163.9,1678.0 C1157.0,1676.7 1150.1,1674.9 1143.1,1673.9 C1136.2,1672.8 1129.2,1671.8 1122.4,1671.8 C1115.5,1671.8 1109.1,1672.8 1102.2,1673.9 C1095.3,1674.9 1087.8,1678.0 1080.8,1678.0 C1073.8,1678.0 1069.2,1674.5 1060.0,1673.9 C1050.8,1673.2 1037.1,1674.0 1025.7,1674.1 C1014.3,1674.1 1003.1,1673.2 991.3,1674.2 C979.5,1675.2 966.2,1676.7 954.9,1680.1 C943.6,1683.5 934.1,1689.5 923.7,1694.7 C913.3,1699.9 902.9,1705.8 892.5,1711.3 C882.1,1716.8 871.8,1723.1 861.4,1727.9 C851.0,1732.8 840.6,1737.6 830.2,1740.4 C819.8,1743.2 804.2,1743.9 799.0,1744.6 M1321.9,1732.1 C1312.9,1732.1 1280.3,1732.8 1267.9,1732.1 C1255.4,1731.4 1254.0,1729.3 1247.1,1727.9 C1240.2,1726.5 1233.2,1726.5 1226.3,1723.8 C1219.4,1721.0 1212.4,1715.1 1205.5,1711.3 C1198.6,1707.5 1191.7,1703.7 1184.7,1700.9 C1177.8,1698.1 1170.9,1696.4 1163.9,1694.7 C1157.0,1692.9 1150.1,1691.9 1143.1,1690.5 C1136.2,1689.1 1129.2,1686.7 1122.4,1686.4 C1115.5,1686.0 1109.1,1687.7 1102.2,1688.4 C1095.3,1689.1 1087.8,1690.9 1080.8,1690.5 C1073.8,1690.2 1069.2,1687.0 1060.0,1686.4 C1050.8,1685.7 1037.1,1686.5 1025.7,1686.6 C1014.3,1686.6 1003.1,1686.7 991.3,1686.7 C979.5,1686.6 966.2,1685.7 954.9,1686.4 C943.6,1687.0 934.1,1688.4 923.7,1690.5 C913.3,1692.6 902.9,1695.4 892.5,1698.8 C882.1,1702.3 871.8,1707.1 861.4,1711.3 C851.0,1715.5 840.6,1721.0 830.2,1723.8 C819.8,1726.5 804.2,1727.2 799.0,1727.9 M1321.9,1748.7 C1312.9,1749.4 1280.3,1752.5 1267.9,1752.9 C1255.4,1753.2 1254.0,1752.2 1247.1,1750.8 C1240.2,1749.4 1233.2,1746.6 1226.3,1744.6 C1219.4,1742.5 1212.4,1740.4 1205.5,1738.3 C1198.6,1736.2 1191.7,1733.8 1184.7,1732.1 C1177.8,1730.4 1170.9,1729.3 1163.9,1727.9 C1157.0,1726.5 1150.1,1725.2 1143.1,1723.8 C1136.2,1722.4 1129.2,1720.7 1122.4,1719.6 C1115.5,1718.6 1109.1,1717.2 1102.2,1717.5 C1095.3,1717.9 1087.8,1721.7 1080.8,1721.7 C1073.8,1721.7 1069.2,1718.2 1060.0,1717.5 C1050.8,1716.9 1037.1,1717.9 1025.7,1717.7 C1014.3,1717.6 1003.1,1718.6 991.3,1716.8 C979.5,1715.0 966.2,1711.5 954.9,1707.1 C943.6,1702.8 934.1,1696.7 923.7,1690.5 C913.3,1684.3 902.9,1676.0 892.5,1669.7 C882.1,1663.5 871.8,1657.6 861.4,1653.1 C851.0,1648.6 840.6,1645.1 830.2,1642.7 C819.8,1640.3 804.2,1639.2 799.0,1638.5 M991.4,1728.6 C997.1,1728.5 1014.3,1728.2 1025.7,1728.1 C1037.1,1728.0 1050.8,1727.3 1060.0,1727.9 C1069.2,1728.6 1073.8,1732.1 1080.8,1732.1 C1087.8,1732.1 1095.3,1727.9 1102.2,1727.9 C1109.1,1727.9 1115.5,1730.0 1122.4,1732.1 C1129.2,1734.2 1136.2,1738.3 1143.1,1740.4 C1150.1,1742.5 1157.0,1742.8 1163.9,1744.6 C1170.9,1746.3 1177.8,1749.1 1184.7,1750.8 C1191.7,1752.5 1198.6,1753.2 1205.5,1755.0 C1212.4,1756.7 1219.4,1759.8 1226.3,1761.2 C1233.2,1762.6 1240.2,1762.6 1247.1,1763.3 C1254.0,1764.0 1255.4,1764.3 1267.9,1765.3 C1280.3,1766.4 1312.9,1768.8 1321.9,1769.5 M1321.9,1752.9 C1316.4,1754.6 1297.7,1758.1 1288.7,1763.3 C1279.7,1768.5 1274.8,1776.1 1267.9,1784.1 C1260.9,1792.0 1254.0,1803.1 1247.1,1811.1 C1240.2,1819.0 1233.2,1826.0 1226.3,1831.9 C1219.4,1837.8 1212.4,1843.0 1205.5,1846.4 C1198.6,1849.9 1191.7,1850.9 1184.7,1852.7 C1177.8,1854.4 1170.9,1855.4 1163.9,1856.8 C1157.0,1858.2 1150.1,1859.6 1143.1,1861.0 C1136.2,1862.4 1129.2,1864.1 1122.4,1865.1 C1115.5,1866.2 1109.1,1866.7 1102.2,1867.2 C1095.3,1867.7 1087.8,1868.2 1080.8,1868.2 C1073.8,1868.2 1069.2,1867.4 1060.0,1867.2 C1050.8,1867.0 1037.1,1867.2 1025.7,1867.3 C1014.3,1867.3 997.1,1867.3 991.4,1867.4 M1102.2,1935.8 C1105.6,1935.5 1115.5,1934.8 1122.4,1933.7 C1129.2,1932.7 1136.2,1930.6 1143.1,1929.6 C1150.1,1928.5 1157.0,1928.5 1163.9,1927.5 C1170.9,1926.4 1177.8,1925.4 1184.7,1923.3 C1191.7,1921.3 1198.6,1917.8 1205.5,1915.0 C1212.4,1912.2 1219.4,1910.9 1226.3,1906.7 C1233.2,1902.5 1240.2,1896.7 1247.1,1890.1 C1254.0,1883.5 1260.9,1876.2 1267.9,1867.2 C1274.8,1858.2 1279.7,1844.7 1288.7,1836.0 C1297.7,1827.4 1316.4,1818.7 1321.9,1815.2 M1102.2,1950.4 C1105.6,1950.0 1115.5,1949.3 1122.4,1948.3 C1129.2,1947.2 1136.2,1945.9 1143.1,1944.1 C1150.1,1942.4 1157.0,1940.3 1163.9,1937.9 C1170.9,1935.5 1177.8,1932.7 1184.7,1929.6 C1191.7,1926.4 1198.6,1922.3 1205.5,1919.2 C1212.4,1916.1 1221.1,1913.3 1226.3,1910.9 C1231.5,1908.4 1235.0,1905.7 1236.7,1904.6 M1186.8,1549.2 C1188.2,1552.0 1192.0,1559.6 1195.1,1565.8 C1198.2,1572.0 1201.7,1579.6 1205.5,1586.6 C1209.3,1593.5 1213.8,1600.4 1218.0,1607.4 C1222.1,1614.3 1226.3,1621.2 1230.5,1628.1 C1234.6,1635.1 1238.8,1642.0 1242.9,1648.9 C1247.1,1655.9 1251.2,1662.8 1255.4,1669.7 C1259.6,1676.7 1263.7,1683.6 1267.9,1690.5 C1272.0,1697.4 1276.2,1705.8 1280.3,1711.3 C1284.5,1716.8 1285.9,1721.0 1292.8,1723.8 C1299.7,1726.5 1317.1,1727.2 1321.9,1727.9 M1207.6,1549.2 C1209.0,1552.0 1212.8,1559.6 1215.9,1565.8 C1219.0,1572.0 1222.5,1580.3 1226.3,1586.6 C1230.1,1592.8 1234.6,1598.7 1238.8,1603.2 C1242.9,1607.7 1247.1,1611.2 1251.2,1613.6 C1255.4,1616.0 1259.2,1617.4 1263.7,1617.8 C1268.2,1618.1 1273.4,1617.1 1278.3,1615.7 C1283.1,1614.3 1287.6,1611.5 1292.8,1609.4 C1298.0,1607.4 1304.6,1604.2 1309.4,1603.2 C1314.3,1602.2 1319.8,1603.2 1321.9,1603.2 M1218.6,1549.2 C1219.9,1551.3 1222.9,1557.1 1226.3,1561.6 C1229.7,1566.1 1234.6,1572.0 1238.8,1576.2 C1242.9,1580.3 1246.4,1584.5 1251.2,1586.6 C1256.1,1588.7 1262.3,1589.0 1267.9,1588.7 C1273.4,1588.3 1279.0,1586.6 1284.5,1584.5 C1290.0,1582.4 1294.9,1578.6 1301.1,1576.2 C1307.4,1573.8 1318.5,1571.0 1321.9,1569.9 M1205.5,1958.7 C1207.2,1955.6 1212.4,1946.5 1215.9,1940.0 C1219.4,1933.4 1222.5,1926.1 1226.3,1919.2 C1230.1,1912.2 1234.6,1905.3 1238.8,1898.4 C1242.9,1891.5 1247.1,1884.5 1251.2,1877.6 C1255.4,1870.7 1259.6,1863.7 1263.7,1856.8 C1267.9,1849.9 1272.0,1843.0 1276.2,1836.0 C1280.3,1829.1 1283.8,1821.5 1288.7,1815.2 C1293.5,1809.0 1299.7,1802.1 1305.3,1798.6 C1310.8,1795.1 1319.1,1795.1 1321.9,1794.4 M1224.2,1958.7 C1226.3,1953.8 1232.9,1937.9 1236.7,1929.6 C1240.5,1921.3 1243.3,1915.7 1247.1,1908.8 C1250.9,1901.9 1255.4,1894.9 1259.6,1888.0 C1263.7,1881.1 1267.9,1874.1 1272.0,1867.2 C1276.2,1860.3 1280.0,1853.3 1284.5,1846.4 C1289.0,1839.5 1292.8,1830.8 1299.1,1825.6 C1305.3,1820.4 1318.1,1817.0 1321.9,1815.2 M1267.9,1898.4 C1269.6,1894.9 1274.8,1884.5 1278.3,1877.6 C1281.7,1870.7 1285.2,1863.7 1288.7,1856.8 C1292.1,1849.9 1295.6,1843.0 1299.1,1836.0 C1302.5,1829.1 1305.6,1820.4 1309.4,1815.2 C1313.3,1810.0 1319.8,1806.6 1321.9,1804.8 M1149.4,1958.7 C1151.8,1955.6 1158.7,1944.8 1163.9,1940.0 C1169.1,1935.1 1175.0,1931.3 1180.6,1929.6 C1186.1,1927.8 1192.3,1927.8 1197.2,1929.6 C1202.0,1931.3 1205.5,1935.1 1209.7,1940.0 C1213.8,1944.8 1220.1,1955.6 1222.1,1958.7 M991.4,1950.0 C997.1,1950.1 1014.3,1950.2 1025.7,1950.3 C1037.1,1950.3 1050.8,1950.7 1060.0,1950.4 C1069.2,1950.0 1073.8,1948.3 1080.8,1948.3 C1087.8,1948.3 1098.6,1950.0 1102.2,1950.4 M979.4,1194.0 C979.6,1194.5 980.0,1195.2 980.8,1196.8 C981.6,1198.4 983.1,1201.4 984.2,1203.6 C985.4,1205.9 986.6,1208.9 987.6,1210.5 C988.7,1212.1 989.9,1212.8 990.4,1213.3 M934.1,1210.5 C933.8,1211.7 932.7,1215.3 932.1,1217.4 C931.4,1219.4 930.7,1221.0 930.0,1222.9 C929.3,1224.7 928.6,1226.5 927.9,1228.4 C927.3,1230.2 926.6,1232.0 925.9,1233.8 C925.2,1235.7 924.5,1237.5 923.8,1239.3 C923.1,1241.2 922.5,1243.0 921.8,1244.8 C921.1,1246.7 920.4,1248.5 919.7,1250.3 C919.0,1252.1 918.3,1253.7 917.6,1255.8 C917.0,1257.9 916.3,1260.6 915.6,1262.7 C914.9,1264.7 914.2,1266.3 913.5,1268.2 C912.8,1270.0 912.2,1271.8 911.5,1273.6 C910.8,1275.5 910.1,1277.3 909.4,1279.1 C908.7,1281.0 908.0,1282.6 907.4,1284.6 C906.7,1286.7 906.0,1289.4 905.3,1291.5 C904.6,1293.5 903.9,1295.2 903.2,1297.0 C902.5,1298.8 901.9,1300.6 901.2,1302.5 C900.5,1304.3 899.8,1306.1 899.1,1308.0 C898.4,1309.8 897.7,1311.6 897.1,1313.5 C896.4,1315.3 895.7,1317.1 895.0,1318.9 C894.3,1320.8 893.6,1322.6 892.9,1324.4 C892.3,1326.3 891.7,1328.1 890.9,1329.9 C890.1,1331.8 888.9,1333.6 888.1,1335.4 C887.3,1337.2 886.8,1339.1 886.1,1340.9 C885.4,1342.7 884.8,1344.6 884.0,1346.4 C883.2,1348.2 882.2,1350.1 881.3,1351.9 C880.4,1353.7 879.6,1355.5 878.5,1357.4 C877.5,1359.2 875.7,1361.6 875.1,1362.9 C874.5,1364.2 877.1,1362.9 874.7,1365.1 C872.3,1367.4 866.4,1372.0 860.6,1376.3 C854.9,1380.5 846.9,1386.2 840.1,1390.6 C833.2,1395.1 826.4,1400.2 819.5,1403.0 C812.7,1405.7 802.4,1406.4 799.0,1407.1 M942.4,1266.8 C941.9,1267.5 940.5,1269.3 939.6,1270.9 C938.7,1272.5 937.8,1274.6 936.9,1276.4 C935.9,1278.2 935.0,1280.1 934.1,1281.9 C933.2,1283.7 932.3,1285.5 931.4,1287.4 C930.5,1289.2 929.5,1291.3 928.6,1292.9 C927.7,1294.5 926.8,1295.4 925.9,1297.0 C925.0,1298.6 924.1,1300.9 923.1,1302.5 C922.2,1304.1 922.2,1302.9 920.4,1306.6 C918.6,1310.2 915.4,1317.3 912.2,1324.4 C909.0,1331.5 905.3,1340.0 901.2,1349.1 C897.1,1358.3 892.0,1369.7 887.5,1379.3 C882.9,1388.9 877.2,1400.0 873.7,1406.8 C870.3,1413.6 868.0,1417.8 866.9,1420.0 M799.0,1648.9 C804.2,1650.0 819.8,1651.7 830.2,1655.2 C840.6,1658.6 851.0,1663.8 861.4,1669.7 C871.8,1675.6 882.1,1683.6 892.5,1690.5 C902.9,1697.4 913.3,1704.4 923.7,1711.3 C934.1,1718.2 943.6,1727.6 954.9,1732.1 C966.2,1736.6 985.2,1737.3 991.3,1738.3 M799.0,1748.7 C804.2,1749.4 819.8,1750.1 830.2,1752.9 C840.6,1755.6 851.0,1760.5 861.4,1765.3 C871.8,1770.2 882.1,1777.1 892.5,1782.0 C902.9,1786.8 913.3,1790.3 923.7,1794.4 C934.1,1798.6 943.6,1803.8 954.9,1806.9 C966.2,1810.0 985.2,1812.1 991.3,1813.2 M799.0,1752.9 C804.2,1752.5 819.8,1752.5 830.2,1750.8 C840.6,1749.1 851.0,1746.3 861.4,1742.5 C871.8,1738.7 882.1,1733.1 892.5,1727.9 C902.9,1722.7 913.3,1716.1 923.7,1711.3 C934.1,1706.4 943.6,1701.6 954.9,1698.8 C966.2,1696.1 985.2,1695.4 991.3,1694.7 M799.0,1690.5 C802.5,1688.8 812.9,1683.6 819.8,1680.1 C826.7,1676.7 831.9,1672.8 840.6,1669.7 C849.2,1666.6 861.4,1663.5 871.8,1661.4 C882.1,1659.3 892.5,1658.6 902.9,1657.3 C913.3,1655.9 923.7,1655.2 934.1,1653.1 C944.5,1651.0 955.8,1646.9 965.3,1644.8 C974.8,1642.7 987.0,1641.3 991.3,1640.6 M1102.2,1599.0 C1109.0,1600.4 1129.4,1603.2 1143.1,1607.4 C1156.9,1611.5 1170.9,1618.4 1184.7,1624.0 C1198.6,1629.5 1212.4,1635.8 1226.3,1640.6 C1240.2,1645.5 1251.9,1649.6 1267.9,1653.1 C1283.8,1656.6 1312.9,1660.0 1321.9,1661.4 M1102.2,1711.3 C1109.0,1711.3 1129.4,1712.7 1143.1,1711.3 C1156.9,1709.9 1170.9,1706.4 1184.7,1703.0 C1198.6,1699.5 1212.4,1695.4 1226.3,1690.5 C1240.2,1685.7 1251.9,1678.4 1267.9,1673.9 C1283.8,1669.4 1312.9,1665.2 1321.9,1663.5 M1102.2,1794.4 C1109.0,1793.8 1129.4,1793.1 1143.1,1790.3 C1156.9,1787.5 1170.9,1782.0 1184.7,1777.8 C1198.6,1773.7 1212.4,1769.2 1226.3,1765.3 C1240.2,1761.5 1251.9,1757.4 1267.9,1755.0 C1283.8,1752.5 1312.9,1751.5 1321.9,1750.8 M1102.2,1804.8 C1109.0,1804.5 1129.4,1804.5 1143.1,1802.8 C1156.9,1801.0 1170.9,1798.6 1184.7,1794.4 C1198.6,1790.3 1212.4,1783.4 1226.3,1777.8 C1240.2,1772.3 1251.9,1765.3 1267.9,1761.2 C1283.8,1757.0 1312.9,1754.3 1321.9,1752.9 M1184.7,1958.7 C1188.2,1952.1 1198.6,1932.7 1205.5,1919.2 C1212.4,1905.7 1219.4,1891.5 1226.3,1877.6 C1233.2,1863.7 1240.2,1849.9 1247.1,1836.0 C1254.0,1822.2 1260.9,1806.2 1267.9,1794.4 C1274.8,1782.7 1279.7,1772.3 1288.7,1765.3 C1297.7,1758.4 1316.4,1755.0 1321.9,1752.9 M1163.9,1958.7 C1167.4,1953.8 1177.8,1939.6 1184.7,1929.6 C1191.7,1919.5 1198.6,1910.5 1205.5,1898.4 C1212.4,1886.3 1219.4,1870.7 1226.3,1856.8 C1233.2,1843.0 1240.2,1827.4 1247.1,1815.2 C1254.0,1803.1 1255.4,1791.7 1267.9,1784.1 C1280.3,1776.4 1312.9,1771.9 1321.9,1769.5 M799.0,1413.2 C804.1,1412.9 819.5,1412.9 829.8,1411.2 C840.1,1409.5 850.4,1406.4 860.6,1403.0 C870.9,1399.5 881.2,1395.1 891.5,1390.6 C901.7,1386.2 912.0,1381.4 922.3,1376.3 C932.5,1371.1 941.6,1364.6 953.1,1359.8 C964.6,1355.0 984.8,1349.6 991.1,1347.5 M799.0,1479.0 C804.1,1478.6 819.5,1478.6 829.8,1476.9 C840.1,1475.2 850.4,1472.1 860.6,1468.7 C870.9,1465.3 881.2,1460.5 891.5,1456.4 C901.7,1452.3 912.0,1448.2 922.3,1444.1 C932.5,1440.0 941.6,1434.8 953.1,1431.7 C964.6,1428.7 984.8,1426.6 991.1,1425.6 M799.0,1509.8 C804.1,1509.8 819.5,1511.2 829.8,1509.8 C840.1,1508.4 850.4,1505.0 860.6,1501.6 C870.9,1498.2 881.2,1493.4 891.5,1489.3 C901.7,1485.2 912.0,1480.4 922.3,1476.9 C932.5,1473.5 941.6,1470.4 953.1,1468.7 C964.6,1467.0 984.8,1467.0 991.1,1466.7 M1201.5,1549.2 C1203.7,1552.7 1210.1,1561.8 1215.1,1569.7 C1220.1,1577.5 1226.1,1588.5 1231.5,1596.4 C1237.0,1604.3 1241.8,1611.1 1248.0,1616.9 C1254.1,1622.8 1260.6,1627.6 1268.5,1631.3 C1276.4,1635.1 1286.2,1637.8 1295.2,1639.5 C1304.3,1641.3 1318.4,1641.3 1323.0,1641.6 M1209.1,1549.2 C1211.5,1553.7 1218.2,1566.3 1223.3,1575.8 C1228.4,1585.4 1234.3,1597.4 1239.8,1606.7 C1245.2,1615.9 1250.0,1624.5 1256.2,1631.3 C1262.4,1638.2 1269.6,1643.7 1276.7,1647.8 C1283.9,1651.9 1291.6,1654.3 1299.4,1656.0 C1307.1,1657.7 1319.1,1657.7 1323.0,1658.0 M1217.0,1549.2 C1219.4,1554.7 1226.4,1570.4 1231.5,1582.0 C1236.7,1593.6 1242.5,1608.7 1248.0,1619.0 C1253.5,1629.3 1258.2,1636.8 1264.4,1643.7 C1270.6,1650.5 1278.1,1656.3 1285.0,1660.1 C1291.8,1663.9 1299.2,1664.9 1305.5,1666.3 C1311.9,1667.6 1320.1,1668.0 1323.0,1668.3 M1246.4,1549.2 C1248.0,1552.0 1251.8,1559.4 1256.2,1565.6 C1260.6,1571.7 1266.5,1579.9 1272.6,1586.1 C1278.8,1592.3 1284.8,1599.1 1293.2,1602.5 C1301.6,1606.0 1318.0,1606.0 1323.0,1606.7 M1199.9,1549.2 C1201.8,1555.4 1206.4,1573.1 1211.0,1586.1 C1215.6,1599.1 1221.9,1614.9 1227.4,1627.2 C1232.9,1639.5 1237.7,1649.8 1243.9,1660.1 C1250.0,1670.4 1257.6,1680.6 1264.4,1688.9 C1271.3,1697.1 1278.1,1703.6 1285.0,1709.4 C1291.8,1715.2 1299.2,1720.4 1305.5,1723.8 C1311.9,1727.2 1320.1,1728.9 1323.0,1730.0 M1104.1,1610.8 C1110.3,1611.5 1128.1,1612.1 1141.1,1614.9 C1154.1,1617.6 1168.5,1622.4 1182.2,1627.2 C1195.9,1632.0 1209.6,1638.2 1223.3,1643.7 C1237.0,1649.1 1250.7,1656.0 1264.4,1660.1 C1278.1,1664.2 1295.8,1666.6 1305.5,1668.3 C1315.3,1670.0 1320.1,1670.0 1323.0,1670.4"/>
<g fill="none" stroke="#ff4500" stroke-linecap="round" stroke-linejoin="round">
<path stroke-width="0.8" d="M948.5 1854.5h0"/>
<path stroke-width="1.0" d="M897.5 1214.8h0M952.6 1511.1h0M1159.9 1509.7h0M977.0 1632.6h0M928.1 1682.0h0M930.2 1680.2h0M966.8 1646.3h0M924.0 1729.2h0M926.1 1728.5h0M907.7 1746.5h0M922.0 1742.9h0M932.2 1836.2h0M1141.5 1718.9h0M1237.8 1742.8h0M875.1 1454.3h0M873.1 1456.3h0"/>
<path stroke-width="1.2" d="M864.9 1270.3h0M901.6 1202.7h0M899.6 1208.1h0M973.0 1373.9h0M954.6 1506.6h0M962.8 1504.8h0M964.8 1500.8h0M1038.7 1494.0h0M1053.1 1501.2h0M1073.7 1412.7h0M1143.5 1500.0h0M1116.8 1528.7h0M1182.5 1465.8h0M1157.8 1463.3h0M1145.5 1507.9h0M1157.8 1509.5h0M1223.5 1349.2h0M1213.2 1410.9h0M1213.2 1155.2h0M1215.2 1167.5h0M1217.3 1180.3h0M1219.4 1190.1h0M1221.4 1198.0h0M1223.5 1206.2h0M1256.2 1264.5h0M1258.3 1274.8h0M932.2 1619.3h0M930.2 1621.7h0M979.1 1631.4h0M997.5 1630.0h0M932.2 1678.4h0M934.2 1676.6h0M960.7 1651.4h0M962.8 1649.6h0M964.8 1647.9h0M922.0 1730.0h0M909.8 1746.0h0M920.0 1743.4h0M960.7 1768.7h0M934.2 1838.2h0M946.5 1851.2h0M1022.2 1907.3h0M944.4 1906.9h0M1011.9 1951.1h0M1112.8 1733.9h0M1139.4 1720.1h0M1129.2 1767.1h0M1235.8 1743.5h0M1178.3 1805.8h0M1129.2 1888.6h0M1159.9 1867.0h0M873.1 1366.8h0M879.2 1450.3h0M877.2 1452.3h0"/>
<path stroke-width="1.4" d="M871.0 1245.7h0M869.0 1254.8h0M867.0 1261.2h0M905.7 1189.8h0M903.7 1196.7h0M975.0 1372.3h0M979.1 1401.5h0M956.6 1502.7h0M958.7 1498.6h0M966.8 1496.6h0M1040.7 1495.1h0M1051.0 1500.2h0M809.9 1404.8h0M1071.6 1411.2h0M1139.4 1500.5h0M1141.5 1500.4h0M1088.1 1536.3h0M1090.1 1536.0h0M1114.8 1528.6h0M1178.3 1461.9h0M1180.4 1463.7h0M1143.5 1457.1h0M1155.8 1462.6h0M1147.6 1508.2h0M1155.8 1509.2h0M1219.4 1338.4h0M1221.4 1343.9h0M1207.0 1394.1h0M1209.1 1400.2h0M1211.2 1405.6h0M1252.2 1245.3h0M1254.2 1254.5h0M1311.6 1406.2h0M948.5 1607.9h0M946.5 1609.0h0M938.3 1609.4h0M936.3 1613.1h0M934.2 1616.5h0M958.7 1628.6h0M981.1 1630.5h0M983.1 1629.9h0M995.4 1629.6h0M936.3 1674.9h0M938.3 1673.2h0M940.3 1671.5h0M956.6 1655.5h0M958.7 1653.4h0M962.8 1685.9h0M964.8 1685.7h0M1009.8 1693.8h0M920.0 1730.9h0M911.8 1745.5h0M913.8 1745.0h0M917.9 1743.9h0M962.8 1767.7h0M964.8 1766.6h0M966.8 1765.6h0M944.4 1848.4h0M1016.0 1909.6h0M1018.1 1908.9h0M1020.1 1908.1h0M946.5 1908.1h0M1014.0 1950.4h0M1016.0 1949.6h0M1114.8 1733.1h0M1116.8 1732.3h0M1135.3 1722.3h0M1137.3 1721.2h0M1131.2 1766.1h0M1133.2 1765.1h0M1233.7 1744.2h0M1213.2 1771.3h0M1215.2 1769.5h0M1217.3 1767.7h0M1219.4 1765.9h0M1221.4 1764.3h0M1223.5 1762.7h0M1225.5 1761.2h0M1227.5 1759.7h0M1174.2 1803.8h0M1176.3 1804.6h0M1135.3 1833.7h0M1131.2 1887.2h0M1133.2 1885.8h0M1157.8 1868.0h0M1092.2 1861.9h0M1086.0 1909.3h0M981.1 1197.4h0M983.1 1201.5h0M985.2 1205.7h0M987.2 1209.8h0M989.3 1212.3h0M877.2 1359.6h0M875.1 1362.8h0M922.0 1304.3h0M885.3 1443.1h0M883.3 1445.7h0M881.2 1448.1h0M950.5 1374.5h0M973.0 1374.8h0M979.1 1400.0h0"/>
<path stroke-width="1.6" d="M877.2 1218.2h0M875.1 1229.9h0M873.1 1238.2h0M907.7 1183.0h0M977.0 1370.7h0M979.1 1368.9h0M1014.0 1356.5h0M1005.7 1476.6h0M960.7 1494.5h0M1001.6 1454.5h0M968.9 1492.5h0M970.9 1489.1h0M962.8 1541.6h0M964.8 1537.5h0M1042.8 1496.1h0M1049.0 1499.2h0M1121.0 1391.2h0M1069.6 1409.8h0M1135.3 1500.5h0M1137.3 1500.6h0M1182.5 1534.1h0M1092.2 1535.5h0M1112.8 1528.5h0M1176.3 1460.1h0M1145.5 1458.1h0M1153.8 1461.8h0M1149.7 1508.4h0M1153.8 1508.9h0M1215.2 1326.0h0M1217.3 1332.5h0M1211.2 1405.4h0M1203.0 1379.1h0M1205.0 1386.9h0M1190.7 1320.6h0M1192.7 1330.7h0M1246.0 1218.1h0M1248.0 1226.6h0M1250.1 1236.8h0M956.6 1598.7h0M954.6 1601.5h0M952.6 1604.3h0M950.5 1606.5h0M942.4 1601.2h0M940.3 1605.5h0M960.7 1626.6h0M985.2 1629.6h0M942.4 1669.8h0M944.4 1667.8h0M952.6 1659.6h0M954.6 1657.5h0M897.5 1677.9h0M966.8 1685.7h0M1007.8 1692.4h0M893.5 1740.5h0M895.5 1740.7h0M915.9 1733.2h0M917.9 1732.0h0M915.9 1744.4h0M968.9 1764.6h0M970.9 1763.6h0M934.2 1823.6h0M936.3 1840.3h0M1011.9 1910.5h0M1014.0 1910.1h0M948.5 1909.4h0M973.0 1924.0h0M1018.1 1948.8h0M1020.1 1947.9h0M1022.2 1947.0h0M1009.8 1546.6h0M1011.9 1550.6h0M1014.0 1555.6h0M1016.0 1561.8h0M1061.3 1687.6h0M1063.4 1689.6h0M1065.4 1691.6h0M1067.5 1693.8h0M1069.6 1696.2h0M1071.6 1699.0h0M1073.7 1701.9h0M1075.7 1704.3h0M1077.8 1706.4h0M1079.8 1708.3h0M1118.9 1731.5h0M1121.0 1730.7h0M1131.2 1724.7h0M1133.2 1723.5h0M1112.8 1761.0h0M1188.6 1756.1h0M1135.3 1764.1h0M1137.3 1763.0h0M1231.7 1745.0h0M1127.1 1801.5h0M1170.2 1796.1h0M1172.2 1803.0h0M1133.2 1833.5h0M1123.0 1861.7h0M1145.5 1852.2h0M1135.3 1884.4h0M1155.8 1869.2h0M883.3 1348.0h0M881.2 1352.0h0M879.2 1356.1h0M924.0 1300.7h0M891.4 1435.4h0M889.4 1437.9h0M887.3 1440.5h0M952.6 1368.0h0M954.6 1363.1h0M956.6 1358.0h0M956.6 1416.1h0M975.0 1372.8h0M977.0 1370.7h0"/>
<path stroke-width="1.8" d="M883.3 1190.7h0M881.2 1199.4h0M879.2 1207.7h0M911.8 1169.4h0M909.8 1176.2h0M981.1 1367.0h0M1007.8 1363.6h0M1009.8 1360.8h0M1011.9 1358.5h0M981.1 1396.4h0M1007.8 1476.0h0M1009.8 1475.5h0M962.8 1490.4h0M964.8 1486.4h0M973.0 1486.3h0M1003.7 1476.1h0M966.8 1534.3h0M1046.9 1498.2h0M807.9 1405.8h0M1067.5 1408.9h0M1143.5 1388.2h0M1145.5 1387.5h0M1153.8 1487.6h0M1131.2 1500.3h0M1133.2 1500.4h0M1180.4 1533.1h0M1094.3 1534.8h0M1108.7 1528.2h0M1110.7 1528.4h0M1172.2 1456.8h0M1174.2 1458.4h0M1147.6 1459.2h0M1151.7 1461.0h0M1151.7 1508.7h0M1211.2 1312.2h0M1213.2 1319.2h0M1209.1 1401.5h0M1196.8 1354.7h0M1198.9 1362.6h0M1200.9 1370.8h0M1182.5 1276.3h0M1184.5 1287.6h0M1186.5 1298.6h0M1188.6 1309.5h0M1241.9 1197.9h0M1244.0 1208.2h0M1313.7 1406.4h0M962.8 1587.5h0M960.7 1591.7h0M958.7 1595.5h0M948.5 1583.0h0M946.5 1589.9h0M944.4 1596.1h0M962.8 1624.5h0M987.2 1629.4h0M989.3 1629.2h0M993.4 1629.3h0M946.5 1665.7h0M948.5 1663.7h0M950.5 1661.6h0M899.6 1677.6h0M968.9 1685.6h0M1003.7 1689.8h0M1005.7 1691.1h0M897.5 1740.8h0M899.6 1740.7h0M901.6 1740.4h0M903.7 1739.8h0M905.7 1739.1h0M913.8 1734.6h0M973.0 1762.5h0M975.0 1761.4h0M977.0 1760.3h0M936.3 1824.4h0M1003.7 1841.1h0M938.3 1842.3h0M942.4 1846.2h0M958.7 1846.0h0M942.4 1871.2h0M1005.7 1911.6h0M1007.8 1911.3h0M1009.8 1910.9h0M950.5 1910.7h0M970.9 1923.0h0M1024.2 1945.9h0M1026.3 1944.9h0M1020.1 1646.3h0M1022.2 1650.5h0M1024.2 1654.6h0M1026.3 1658.7h0M1028.4 1662.9h0M1030.4 1667.1h0M1032.5 1670.9h0M1034.5 1674.4h0M1036.6 1677.7h0M1038.7 1681.1h0M1040.7 1684.6h0M1042.8 1688.0h0M1011.9 1708.6h0M1014.0 1712.0h0M1016.0 1715.4h0M1018.1 1718.9h0M1020.1 1722.3h0M1022.2 1725.7h0M1024.2 1729.2h0M1026.3 1732.6h0M1028.4 1736.0h0M1030.4 1739.5h0M1032.5 1742.9h0M1034.5 1746.3h0M1036.6 1749.8h0M1038.7 1753.2h0M1040.7 1756.6h0M1042.8 1760.1h0M1044.8 1763.6h0M1046.9 1767.1h0M1049.0 1770.3h0M1051.0 1773.2h0M1053.1 1775.9h0M1055.1 1778.3h0M1057.2 1780.5h0M1059.3 1782.5h0M1123.0 1729.7h0M1129.2 1726.0h0M1114.8 1760.6h0M1116.8 1760.1h0M1186.5 1757.3h0M1139.4 1762.0h0M1229.6 1746.0h0M1129.2 1800.8h0M1131.2 1800.0h0M1168.1 1796.1h0M1168.1 1801.6h0M1170.2 1802.3h0M1114.8 1834.1h0M1125.0 1860.6h0M1143.5 1852.6h0M1121.0 1873.1h0M1143.5 1863.7h0M1137.3 1882.9h0M1139.4 1881.5h0M1153.8 1870.6h0M1155.8 1896.2h0M1157.8 1895.6h0M1090.1 1859.6h0M1071.6 1873.5h0M1073.7 1873.6h0M1075.7 1873.7h0M1077.8 1873.7h0M1079.8 1873.8h0M887.3 1337.4h0M885.3 1343.0h0M926.1 1296.7h0M895.5 1430.3h0M893.5 1432.8h0M958.7 1352.9h0M960.7 1347.8h0M958.7 1402.1h0M960.7 1390.8h0M979.1 1368.6h0M981.1 1395.1h0"/>
<path stroke-width="2.0" d="M889.4 1163.8h0M887.3 1172.3h0M885.3 1181.5h0M915.9 1155.7h0M913.8 1162.6h0M991.3 1248.8h0M991.3 1248.8h0M993.4 1248.0h0M995.4 1247.2h0M997.5 1246.3h0M999.5 1245.0h0M1001.6 1243.4h0M1003.7 1241.5h0M1005.7 1239.1h0M1007.8 1235.9h0M1009.8 1232.2h0M1011.9 1228.0h0M1014.0 1223.2h0M1016.0 1217.3h0M1018.1 1210.4h0M1020.1 1203.6h0M1022.2 1196.5h0M1024.2 1188.4h0M1026.3 1179.2h0M1028.4 1169.5h0M1030.4 1159.8h0M983.1 1365.4h0M1003.7 1366.1h0M1005.7 1365.5h0M1011.9 1475.0h0M1014.0 1474.6h0M966.8 1482.3h0M999.5 1454.9h0M975.0 1482.3h0M1001.6 1474.2h0M968.9 1531.5h0M1007.8 1546.0h0M1044.8 1497.1h0M805.8 1406.6h0M1061.3 1385.1h0M1118.9 1393.0h0M1065.4 1408.3h0M1147.6 1386.9h0M1166.0 1385.3h0M1127.1 1500.1h0M1129.2 1500.2h0M1178.3 1532.2h0M1096.3 1533.3h0M1106.6 1527.6h0M1139.4 1432.8h0M1141.5 1434.4h0M1143.5 1436.1h0M1168.1 1453.8h0M1170.2 1455.2h0M1149.7 1460.2h0M1239.9 1355.8h0M1241.9 1358.5h0M1244.0 1360.8h0M1207.0 1296.9h0M1209.1 1304.9h0M1207.0 1396.5h0M1192.7 1338.4h0M1194.8 1346.6h0M1174.2 1225.8h0M1176.3 1239.2h0M1178.3 1251.6h0M1180.4 1263.9h0M1235.8 1169.4h0M1237.8 1178.6h0M1239.9 1187.5h0M1264.5 1163.0h0M1266.5 1174.1h0M1268.6 1184.4h0M1270.6 1194.8h0M1272.7 1204.4h0M1274.7 1215.0h0M1276.8 1225.3h0M1278.8 1235.6h0M1280.9 1245.2h0M1282.9 1254.4h0M1285.0 1264.7h0M1287.0 1275.6h0M1289.1 1285.9h0M1291.1 1294.9h0M1293.2 1302.8h0M1295.2 1311.9h0M1297.2 1320.4h0M1299.3 1329.4h0M1301.4 1337.0h0M1303.4 1347.3h0M1305.5 1355.0h0M970.9 1571.2h0M968.9 1575.3h0M966.8 1579.3h0M964.8 1583.4h0M954.6 1562.8h0M952.6 1569.5h0M950.5 1576.2h0M964.8 1621.7h0M1057.2 1687.0h0M1059.3 1689.8h0M1061.3 1692.5h0M991.3 1629.2h0M991.3 1629.2h0M901.6 1677.3h0M970.9 1685.5h0M973.0 1685.5h0M999.5 1687.7h0M1001.6 1688.7h0M907.7 1738.2h0M909.8 1737.1h0M911.8 1735.9h0M1042.8 1774.6h0M1044.8 1775.3h0M979.1 1759.4h0M981.1 1758.7h0M983.1 1758.0h0M938.3 1825.2h0M1001.6 1841.0h0M940.3 1844.3h0M1038.7 1865.9h0M944.4 1873.2h0M999.5 1912.1h0M1001.6 1912.0h0M1003.7 1911.8h0M952.6 1912.2h0M966.8 1921.0h0M968.9 1922.0h0M1028.4 1943.7h0M1030.4 1942.5h0M1049.0 1949.8h0M1051.0 1947.8h0M1053.1 1945.7h0M1055.1 1943.7h0M1057.2 1941.6h0M1059.3 1939.5h0M1125.0 1728.5h0M1127.1 1727.3h0M1118.9 1759.7h0M1121.0 1759.3h0M1184.5 1758.2h0M1141.5 1761.0h0M1227.5 1747.2h0M1133.2 1799.3h0M1135.3 1798.6h0M1166.0 1796.0h0M1164.0 1800.7h0M1166.0 1801.1h0M1061.3 1785.1h0M1063.4 1786.8h0M1065.4 1788.4h0M1067.5 1790.0h0M1069.6 1791.7h0M1071.6 1793.4h0M1073.7 1795.0h0M1075.7 1796.7h0M1077.8 1798.4h0M1079.8 1800.0h0M1081.9 1801.5h0M1084.0 1803.0h0M1086.0 1804.5h0M1088.1 1806.0h0M1090.1 1807.3h0M1092.2 1808.6h0M1094.3 1809.7h0M1096.3 1810.7h0M1098.4 1811.6h0M1131.2 1833.2h0M1123.0 1852.1h0M1127.1 1859.6h0M1123.0 1872.0h0M1141.5 1879.9h0M1151.7 1872.1h0M1153.8 1897.2h0M1061.3 1895.3h0M1063.4 1893.7h0M1065.4 1892.2h0M1067.5 1890.7h0M1069.6 1889.2h0M1071.6 1887.8h0M1073.7 1886.5h0M1061.3 1902.6h0M1063.4 1902.6h0M1065.4 1902.7h0M1067.5 1902.9h0M1069.6 1903.1h0M1071.6 1903.5h0M1073.7 1904.0h0M1075.7 1904.4h0M1084.0 1910.3h0M1067.5 1935.3h0M1069.6 1934.4h0M1071.6 1933.6h0M1073.7 1932.9h0M1075.7 1932.4h0M1077.8 1932.1h0M1079.8 1931.9h0M1081.9 1931.7h0M1084.0 1931.6h0M1086.0 1931.9h0M1131.2 1933.6h0M1133.2 1933.1h0M1135.3 1932.5h0M1137.3 1932.0h0M1139.4 1931.6h0M1141.5 1931.2h0M1143.5 1930.9h0M891.4 1328.6h0M889.4 1332.9h0M930.2 1289.9h0M928.1 1293.7h0M901.6 1422.5h0M899.6 1425.1h0M897.5 1427.7h0M962.8 1342.7h0M964.8 1337.6h0M966.8 1332.5h0M962.8 1386.6h0M964.8 1381.5h0M981.1 1367.1h0"/>
<path stroke-width="2.2" d="M860.8 1153.1h0M858.8 1163.5h0M856.8 1174.2h0M854.7 1184.3h0M852.7 1193.1h0M850.7 1206.5h0M848.6 1217.1h0M846.6 1226.3h0M844.5 1236.1h0M842.5 1245.4h0M840.5 1254.7h0M838.4 1262.7h0M836.4 1271.7h0M834.4 1283.7h0M832.3 1292.2h0M830.3 1302.4h0M828.2 1311.6h0M826.2 1317.9h0M824.2 1324.9h0M822.1 1332.4h0M820.1 1339.3h0M818.0 1345.9h0M816.0 1352.0h0M814.0 1357.7h0M891.4 1154.5h0M917.9 1148.7h0M985.2 1364.4h0M999.5 1364.6h0M1001.6 1365.7h0M983.1 1392.3h0M1024.2 1370.3h0M1034.5 1453.3h0M1016.0 1474.3h0M1018.1 1474.0h0M968.9 1478.2h0M970.9 1474.1h0M997.5 1455.3h0M977.0 1478.0h0M979.1 1475.2h0M999.5 1472.3h0M970.9 1529.0h0M1003.7 1536.9h0M1005.7 1541.3h0M1042.8 1506.0h0M1063.4 1386.2h0M1116.8 1394.7h0M1061.3 1407.4h0M1063.4 1407.8h0M1116.8 1410.6h0M1118.9 1409.8h0M1149.7 1386.2h0M1151.7 1485.9h0M1123.0 1499.7h0M1125.0 1499.9h0M1176.3 1531.3h0M1098.4 1530.9h0M1100.4 1528.5h0M1104.5 1527.0h0M1145.5 1437.7h0M1147.6 1439.4h0M1149.7 1441.0h0M1151.7 1442.7h0M1153.8 1444.4h0M1155.8 1446.1h0M1166.0 1452.5h0M1229.6 1330.4h0M1231.7 1336.6h0M1233.7 1342.5h0M1235.8 1347.7h0M1237.8 1352.2h0M1203.0 1280.3h0M1205.0 1288.5h0M1205.0 1390.0h0M1186.5 1313.8h0M1188.6 1322.0h0M1190.7 1330.2h0M1166.0 1176.3h0M1168.1 1187.3h0M1170.2 1200.5h0M1172.2 1212.7h0M1233.7 1159.0h0M1315.7 1406.6h0M979.1 1554.7h0M977.0 1558.9h0M975.0 1563.0h0M973.0 1567.1h0M956.6 1553.8h0M966.8 1618.4h0M968.9 1616.1h0M1040.7 1662.4h0M1042.8 1665.6h0M1044.8 1668.6h0M1046.9 1671.6h0M1049.0 1674.6h0M1051.0 1677.8h0M1053.1 1680.9h0M1055.1 1684.0h0M903.7 1677.0h0M905.7 1676.7h0M975.0 1685.6h0M997.5 1687.1h0M926.1 1765.0h0M1030.4 1768.6h0M1032.5 1769.9h0M1034.5 1771.1h0M1036.6 1772.1h0M1038.7 1773.0h0M1040.7 1773.9h0M985.2 1757.4h0M987.2 1756.8h0M999.5 1840.8h0M960.7 1846.8h0M1036.6 1863.9h0M995.4 1912.1h0M997.5 1912.1h0M954.6 1913.8h0M964.8 1920.0h0M1032.5 1941.3h0M1034.5 1940.0h0M1123.0 1759.0h0M1125.0 1758.7h0M1225.5 1748.7h0M1137.3 1798.0h0M1139.4 1797.5h0M1162.0 1795.9h0M1164.0 1795.9h0M1162.0 1800.5h0M1116.8 1833.0h0M1129.2 1833.0h0M1164.0 1836.1h0M1129.2 1858.5h0M1141.5 1853.2h0M1141.5 1864.5h0M1143.5 1878.4h0M1145.5 1876.8h0M1149.7 1873.7h0M1149.7 1899.3h0M1151.7 1898.2h0M1088.1 1857.7h0M979.1 1193.5h0M897.5 1312.2h0M895.5 1317.6h0M893.5 1323.0h0M932.2 1285.7h0M903.7 1419.8h0M968.9 1327.4h0M970.9 1322.3h0M973.0 1317.2h0M975.0 1312.1h0M977.0 1307.0h0M979.1 1302.0h0M966.8 1376.4h0M968.9 1371.4h0M983.1 1365.8h0M985.2 1364.7h0M983.1 1390.9h0"/>
<path stroke-width="2.4" d="M991.3 1330.0h0M991.3 1330.0h0M993.4 1329.6h0M995.4 1329.2h0M997.5 1328.7h0M999.5 1328.3h0M1001.6 1327.5h0M1003.7 1325.6h0M1005.7 1322.2h0M1007.8 1318.5h0M1009.8 1314.4h0M1011.9 1309.0h0M1014.0 1302.6h0M1016.0 1296.4h0M1018.1 1290.3h0M1020.1 1283.5h0M1022.2 1276.2h0M1024.2 1269.0h0M1026.3 1261.7h0M1028.4 1254.6h0M1030.4 1247.5h0M1032.5 1239.6h0M1034.5 1231.2h0M1036.6 1223.1h0M1038.7 1214.9h0M1040.7 1206.0h0M1042.8 1196.6h0M1044.8 1187.3h0M1046.9 1178.1h0M1049.0 1168.7h0M1051.0 1158.7h0M1051.0 1170.5h0M1053.1 1156.8h0M987.2 1363.7h0M989.3 1363.2h0M995.4 1362.7h0M997.5 1363.4h0M1022.2 1376.4h0M1036.6 1454.8h0M1020.1 1473.9h0M1022.2 1473.9h0M973.0 1469.9h0M975.0 1466.4h0M977.0 1463.4h0M995.4 1455.3h0M981.1 1473.0h0M997.5 1470.6h0M973.0 1527.0h0M975.0 1525.6h0M999.5 1529.1h0M1001.6 1532.6h0M1044.8 1506.4h0M803.8 1407.0h0M1065.4 1387.2h0M1067.5 1388.2h0M1114.8 1396.3h0M1121.0 1409.0h0M1151.7 1385.7h0M1164.0 1384.9h0M1118.9 1499.2h0M1121.0 1499.4h0M1174.2 1530.7h0M1102.5 1527.1h0M1102.5 1527.1h0M1157.8 1447.6h0M1159.9 1449.0h0M1162.0 1450.3h0M1164.0 1451.4h0M1217.3 1282.7h0M1219.4 1291.1h0M1221.4 1298.8h0M1223.5 1307.6h0M1225.5 1315.6h0M1227.5 1322.7h0M1196.8 1256.4h0M1198.9 1264.4h0M1200.9 1272.7h0M1203.0 1384.6h0M1155.8 1159.7h0M1157.8 1172.0h0M1159.9 1183.9h0M1162.0 1195.1h0M1164.0 1206.4h0M1166.0 1217.7h0M1168.1 1228.6h0M1170.2 1238.8h0M1172.2 1249.0h0M1174.2 1259.3h0M1176.3 1269.6h0M1178.3 1279.4h0M1180.4 1288.6h0M1182.5 1297.5h0M1184.5 1305.6h0M1162.0 1150.9h0M1164.0 1164.2h0M1149.7 1260.7h0M1151.7 1276.4h0M1153.8 1289.6h0M1317.8 1406.7h0M983.1 1548.3h0M981.1 1551.3h0M970.9 1614.1h0M1026.3 1636.2h0M1028.4 1639.7h0M1030.4 1643.0h0M1032.5 1646.4h0M1034.5 1650.2h0M1036.6 1654.4h0M1038.7 1658.7h0M907.7 1676.2h0M964.8 1703.9h0M966.8 1699.8h0M968.9 1696.3h0M970.9 1693.4h0M973.0 1690.8h0M975.0 1688.9h0M977.0 1687.7h0M979.1 1686.9h0M981.1 1686.5h0M983.1 1686.2h0M985.2 1686.2h0M987.2 1686.2h0M989.3 1686.3h0M977.0 1685.7h0M979.1 1685.8h0M981.1 1685.9h0M983.1 1686.0h0M993.4 1686.5h0M995.4 1686.7h0M1020.1 1760.2h0M1022.2 1762.1h0M1024.2 1763.9h0M1026.3 1765.5h0M1028.4 1767.1h0M989.3 1756.4h0M991.3 1756.0h0M991.3 1756.0h0M993.4 1755.7h0M995.4 1755.6h0M997.5 1755.8h0M999.5 1756.2h0M1001.6 1756.8h0M1003.7 1757.6h0M1005.7 1758.5h0M1007.8 1759.6h0M1009.8 1761.0h0M1011.9 1762.6h0M1014.0 1764.3h0M1016.0 1766.1h0M1018.1 1768.1h0M1020.1 1770.2h0M1022.2 1772.3h0M1024.2 1774.4h0M1026.3 1776.5h0M1028.4 1778.5h0M1030.4 1780.6h0M1032.5 1782.6h0M1034.5 1784.7h0M1036.6 1786.8h0M1038.7 1788.8h0M1040.7 1790.9h0M1042.8 1793.0h0M1044.8 1795.1h0M1046.9 1797.2h0M1049.0 1799.1h0M1051.0 1800.8h0M1053.1 1802.4h0M1055.1 1803.9h0M1057.2 1805.0h0M1059.3 1805.6h0M1061.3 1805.8h0M940.3 1826.0h0M997.5 1840.7h0M962.8 1847.6h0M1032.5 1861.3h0M1034.5 1862.4h0M1036.6 1854.9h0M946.5 1875.2h0M991.3 1911.9h0M991.3 1911.9h0M993.4 1912.0h0M956.6 1915.4h0M960.7 1918.1h0M962.8 1919.1h0M958.7 1919.2h0M1036.6 1938.8h0M1038.7 1937.5h0M1040.7 1936.3h0M1127.1 1758.4h0M1129.2 1758.2h0M1182.5 1758.9h0M1223.5 1750.4h0M1141.5 1797.1h0M1143.5 1796.8h0M1159.9 1795.8h0M1102.5 1814.9h0M1102.5 1814.9h0M1104.5 1814.2h0M1157.8 1800.4h0M1159.9 1800.4h0M1118.9 1832.2h0M1127.1 1832.7h0M1125.0 1850.4h0M1162.0 1836.3h0M1131.2 1857.5h0M1125.0 1871.0h0M1147.6 1875.3h0M1147.6 1900.3h0M1116.8 1921.0h0M1118.9 1920.3h0M1121.0 1919.6h0M1123.0 1919.0h0M1125.0 1918.5h0M1127.1 1918.2h0M1129.2 1918.1h0M1131.2 1918.3h0M1133.2 1918.6h0M1135.3 1918.9h0M907.7 1283.5h0M905.7 1290.2h0M903.7 1295.9h0M901.6 1301.3h0M899.6 1306.7h0M934.2 1281.7h0M905.7 1417.3h0M907.7 1414.9h0M909.8 1412.4h0M911.8 1410.0h0M913.8 1407.5h0M979.1 1268.9h0M981.1 1264.8h0M983.1 1260.2h0M985.2 1255.2h0M987.2 1250.9h0M989.3 1249.4h0M981.1 1296.9h0M983.1 1291.7h0M985.2 1286.7h0M987.2 1281.9h0M989.3 1279.9h0M970.9 1366.3h0M973.0 1361.2h0M987.2 1363.7h0"/>
<path stroke-width="2.6" d="M991.3 1216.3h0M991.3 1216.3h0M993.4 1215.4h0M995.4 1214.5h0M997.5 1213.4h0M999.5 1212.1h0M1001.6 1210.5h0M1003.7 1208.6h0M1005.7 1206.3h0M1007.8 1203.7h0M1009.8 1200.8h0M1011.9 1197.4h0M1014.0 1193.1h0M1016.0 1188.3h0M1018.1 1183.1h0M1020.1 1177.7h0M1022.2 1172.1h0M1024.2 1166.6h0M1026.3 1161.1h0M1028.4 1155.7h0M1030.4 1150.2h0M991.3 1279.7h0M991.3 1279.7h0M993.4 1279.5h0M995.4 1279.0h0M997.5 1277.9h0M999.5 1276.2h0M1001.6 1274.3h0M1003.7 1272.2h0M1005.7 1269.6h0M1007.8 1266.4h0M1009.8 1262.7h0M1011.9 1258.5h0M1014.0 1253.7h0M1016.0 1249.1h0M1018.1 1244.5h0M1020.1 1239.5h0M1022.2 1234.3h0M1024.2 1229.2h0M1026.3 1224.2h0M1028.4 1218.4h0M1030.4 1212.1h0M1032.5 1205.9h0M1034.5 1199.7h0M1036.6 1193.6h0M1038.7 1187.5h0M1040.7 1180.6h0M1042.8 1173.3h0M1044.8 1166.0h0M1046.9 1158.8h0M1049.0 1151.8h0M1046.9 1198.7h0M1049.0 1184.7h0M991.3 1362.9h0M991.3 1362.9h0M993.4 1362.6h0M985.2 1389.4h0M1022.2 1406.0h0M1038.7 1456.4h0M1024.2 1474.1h0M1026.3 1474.4h0M1028.4 1474.7h0M1030.4 1475.1h0M1032.5 1475.6h0M1034.5 1476.1h0M1036.6 1476.7h0M1038.7 1477.5h0M1040.7 1478.5h0M1042.8 1479.6h0M1044.8 1480.7h0M1046.9 1481.7h0M1049.0 1482.8h0M1051.0 1483.9h0M1053.1 1484.8h0M1055.1 1485.7h0M1057.2 1486.6h0M1059.3 1487.4h0M1061.3 1488.2h0M1063.4 1489.0h0M979.1 1461.2h0M981.1 1459.4h0M983.1 1457.9h0M985.2 1456.7h0M993.4 1454.6h0M983.1 1471.3h0M985.2 1470.1h0M995.4 1469.3h0M977.0 1524.5h0M995.4 1524.8h0M997.5 1526.3h0M801.7 1406.9h0M1069.6 1389.3h0M1112.8 1397.9h0M1123.0 1408.2h0M1153.8 1385.2h0M1162.0 1384.6h0M1149.7 1484.8h0M1112.8 1498.4h0M1114.8 1498.7h0M1116.8 1498.9h0M1172.2 1530.2h0M1207.0 1242.1h0M1209.1 1249.9h0M1211.2 1258.2h0M1213.2 1265.9h0M1215.2 1275.1h0M1192.7 1241.0h0M1194.8 1248.8h0M1196.8 1369.9h0M1198.9 1375.5h0M1200.9 1380.8h0M1319.8 1406.5h0M973.0 1612.2h0M1014.0 1618.2h0M1016.0 1620.9h0M1018.1 1623.6h0M1020.1 1626.3h0M1022.2 1629.3h0M1024.2 1632.7h0M909.8 1675.7h0M922.0 1670.5h0M924.0 1669.1h0M913.8 1750.8h0M962.8 1708.1h0M985.2 1686.1h0M987.2 1686.1h0M989.3 1686.2h0M991.3 1686.4h0M991.3 1686.4h0M928.1 1764.2h0M1009.8 1753.1h0M1011.9 1754.1h0M1014.0 1755.2h0M1016.0 1756.6h0M1018.1 1758.3h0M942.4 1826.9h0M995.4 1840.5h0M1030.4 1860.5h0M948.5 1877.4h0M989.3 1911.8h0M958.7 1916.9h0M1042.8 1935.0h0M1044.8 1933.8h0M1046.9 1932.6h0M1049.0 1931.3h0M1131.2 1758.1h0M1133.2 1758.1h0M1180.4 1759.5h0M1221.4 1752.2h0M1145.5 1796.5h0M1147.6 1796.3h0M1157.8 1795.8h0M1106.6 1813.6h0M1108.7 1812.9h0M1110.7 1812.2h0M1155.8 1800.4h0M1125.0 1832.3h0M1127.1 1848.6h0M1159.9 1836.4h0M1133.2 1856.6h0M1139.4 1854.0h0M1127.1 1870.0h0M1139.4 1865.2h0M1145.5 1901.3h0M1086.0 1856.1h0M1061.3 1863.1h0M1063.4 1863.3h0M1065.4 1863.4h0M1081.9 1911.4h0M915.9 1261.7h0M913.8 1267.3h0M911.8 1272.8h0M909.8 1278.2h0M936.3 1277.6h0M915.9 1404.9h0M917.9 1402.3h0M920.0 1399.6h0M922.0 1396.9h0M924.0 1394.2h0M926.1 1391.4h0M928.1 1388.0h0M930.2 1384.6h0M932.2 1381.2h0M954.6 1331.5h0M956.6 1326.3h0M958.7 1322.0h0M960.7 1317.5h0M962.8 1311.2h0M964.8 1306.0h0M966.8 1301.0h0M968.9 1295.7h0M970.9 1289.5h0M973.0 1284.2h0M975.0 1279.2h0M977.0 1274.1h0M975.0 1356.1h0M977.0 1350.9h0M989.3 1363.1h0M985.2 1388.3h0"/>
<path stroke-width="2.8" d="M1040.7 1238.7h0M1042.8 1226.5h0M1044.8 1212.7h0M1020.1 1381.8h0M987.2 1455.6h0M989.3 1454.8h0M991.3 1454.3h0M991.3 1454.3h0M987.2 1469.4h0M989.3 1468.9h0M993.4 1468.7h0M979.1 1523.7h0M991.3 1524.2h0M991.3 1524.2h0M993.4 1524.4h0M1046.9 1506.9h0M799.7 1406.3h0M983.1 1150.1h0M985.2 1157.3h0M1071.6 1390.3h0M1073.7 1391.3h0M1125.0 1407.4h0M1127.1 1406.5h0M1155.8 1384.9h0M1159.9 1384.5h0M1108.7 1498.0h0M1110.7 1498.2h0M1170.2 1529.9h0M1198.9 1206.5h0M1200.9 1215.1h0M1203.0 1224.5h0M1205.0 1233.8h0M1186.5 1217.2h0M1188.6 1225.0h0M1190.7 1232.6h0M1192.7 1357.7h0M1194.8 1364.5h0M1321.9 1406.4h0M975.0 1610.1h0M1005.7 1607.5h0M1007.8 1610.0h0M1009.8 1612.6h0M1011.9 1615.4h0M911.8 1675.1h0M913.8 1674.5h0M917.9 1672.8h0M920.0 1671.7h0M960.7 1712.1h0M997.5 1748.5h0M999.5 1749.0h0M1001.6 1749.6h0M1003.7 1750.4h0M1005.7 1751.3h0M1007.8 1752.2h0M944.4 1827.7h0M993.4 1840.5h0M964.8 1848.3h0M1026.3 1859.5h0M1028.4 1859.9h0M1038.7 1855.5h0M950.5 1879.8h0M987.2 1911.7h0M960.7 1920.4h0M1051.0 1930.1h0M1053.1 1928.8h0M1055.1 1927.6h0M1057.2 1926.4h0M1135.3 1758.2h0M1178.3 1760.2h0M1219.4 1753.9h0M1149.7 1796.1h0M1155.8 1795.8h0M1112.8 1811.5h0M1114.8 1810.8h0M1116.8 1810.1h0M1151.7 1800.7h0M1153.8 1800.5h0M1121.0 1831.8h0M1129.2 1846.9h0M1157.8 1836.5h0M1135.3 1855.7h0M1137.3 1866.0h0M1123.0 1908.4h0M1125.0 1907.1h0M1127.1 1905.8h0M1129.2 1904.1h0M1131.2 1902.2h0M1133.2 1900.0h0M1135.3 1897.9h0M1137.3 1895.9h0M1141.5 1903.2h0M1143.5 1902.3h0M1073.7 1943.5h0M1075.7 1944.2h0M1077.8 1945.0h0M1079.8 1945.8h0M1081.9 1946.7h0M1084.0 1947.7h0M1086.0 1948.7h0M1088.1 1949.8h0M1090.1 1950.9h0M920.0 1249.6h0M917.9 1255.0h0M938.3 1273.4h0M934.2 1377.8h0M936.3 1374.4h0M938.3 1371.0h0M940.3 1367.0h0M942.4 1362.2h0M944.4 1357.0h0M946.5 1351.9h0M948.5 1346.8h0M950.5 1341.7h0M952.6 1336.6h0M979.1 1345.7h0M981.1 1342.0h0M983.1 1338.7h0"/>
<path stroke-width="3.0" d="M1032.5 1288.2h0M1034.5 1275.8h0M1036.6 1263.5h0M1038.7 1251.1h0M987.2 1387.5h0M1018.1 1385.2h0M1024.2 1407.4h0M1040.7 1457.9h0M1042.8 1459.5h0M991.3 1468.7h0M991.3 1468.7h0M981.1 1523.3h0M983.1 1523.2h0M985.2 1523.2h0M987.2 1523.5h0M989.3 1523.9h0M1049.0 1507.5h0M1075.7 1392.3h0M1077.8 1393.4h0M1108.7 1400.2h0M1110.7 1399.2h0M1129.2 1405.7h0M1131.2 1404.9h0M1157.8 1384.6h0M1147.6 1483.8h0M1102.5 1497.5h0M1102.5 1497.5h0M1104.5 1497.6h0M1106.6 1497.8h0M1168.1 1529.7h0M1194.8 1192.1h0M1196.8 1199.1h0M1184.5 1210.0h0M1184.5 1334.8h0M1186.5 1340.5h0M1188.6 1346.0h0M1190.7 1351.3h0M1153.8 1308.0h0M1155.8 1316.1h0M1157.8 1326.8h0M1159.9 1337.5h0M977.0 1608.0h0M979.1 1606.0h0M981.1 1604.3h0M983.1 1602.8h0M985.2 1601.6h0M987.2 1600.6h0M989.3 1600.0h0M991.3 1599.5h0M991.3 1599.5h0M993.4 1599.5h0M995.4 1599.8h0M997.5 1600.5h0M999.5 1601.8h0M1001.6 1603.3h0M1003.7 1605.2h0M915.9 1673.7h0M915.9 1749.4h0M917.9 1748.0h0M956.6 1720.3h0M958.7 1716.2h0M930.2 1763.3h0M964.8 1755.1h0M966.8 1754.4h0M968.9 1753.6h0M970.9 1752.8h0M973.0 1752.0h0M975.0 1751.4h0M977.0 1750.9h0M979.1 1750.4h0M981.1 1749.9h0M983.1 1749.5h0M985.2 1749.1h0M987.2 1748.8h0M989.3 1748.5h0M991.3 1748.3h0M991.3 1748.3h0M993.4 1748.2h0M995.4 1748.2h0M956.6 1795.3h0M946.5 1828.5h0M991.3 1840.4h0M991.3 1840.4h0M966.8 1849.0h0M1022.2 1858.6h0M1024.2 1859.1h0M1040.7 1856.1h0M952.6 1882.3h0M985.2 1911.5h0M1059.3 1925.2h0M1061.3 1924.1h0M1137.3 1758.3h0M1139.4 1758.6h0M1141.5 1758.9h0M1176.3 1760.7h0M1217.3 1755.4h0M1151.7 1796.0h0M1153.8 1795.9h0M1118.9 1809.5h0M1121.0 1808.8h0M1123.0 1808.1h0M1125.0 1807.4h0M1147.6 1801.1h0M1149.7 1800.9h0M1061.3 1797.3h0M1063.4 1798.6h0M1065.4 1799.9h0M1067.5 1801.1h0M1061.3 1815.8h0M1114.8 1823.3h0M1123.0 1831.9h0M1131.2 1845.4h0M1155.8 1836.7h0M1137.3 1854.8h0M1129.2 1869.0h0M1135.3 1866.8h0M1137.3 1905.7h0M1139.4 1904.4h0M1084.0 1854.7h0M1079.8 1912.8h0M977.0 1190.3h0M924.0 1238.8h0M922.0 1244.2h0M940.3 1269.7h0M985.2 1335.7h0M987.2 1333.1h0M989.3 1331.5h0M987.2 1386.5h0"/>
<path stroke-width="3.2" d="M1018.1 1341.5h0M1030.4 1300.5h0M989.3 1386.3h0M1016.0 1387.2h0M1026.3 1408.9h0M1028.4 1410.6h0M1044.8 1461.0h0M1051.0 1508.3h0M1053.1 1509.4h0M1055.1 1510.5h0M1057.2 1511.6h0M1059.3 1512.4h0M1061.3 1513.1h0M1063.4 1513.7h0M1079.8 1394.5h0M1081.9 1395.5h0M1084.0 1396.5h0M1106.6 1400.8h0M1133.2 1404.0h0M1135.3 1403.2h0M1145.5 1482.9h0M1061.3 1497.6h0M1063.4 1497.9h0M1065.4 1498.1h0M1067.5 1498.3h0M1069.6 1498.5h0M1071.6 1498.6h0M1073.7 1498.6h0M1075.7 1498.6h0M1077.8 1498.6h0M1079.8 1498.5h0M1081.9 1498.5h0M1084.0 1498.3h0M1086.0 1498.2h0M1088.1 1498.0h0M1090.1 1497.9h0M1092.2 1497.8h0M1094.3 1497.7h0M1096.3 1497.6h0M1098.4 1497.5h0M1100.4 1497.5h0M1164.0 1529.4h0M1166.0 1529.5h0M1188.6 1167.4h0M1190.7 1174.6h0M1192.7 1182.9h0M1180.4 1321.0h0M1182.5 1328.3h0M920.0 1746.6h0M952.6 1728.7h0M954.6 1724.4h0M932.2 1762.2h0M960.7 1756.6h0M962.8 1755.9h0M948.5 1787.3h0M1028.4 1792.2h0M1030.4 1791.5h0M1032.5 1790.8h0M1034.5 1790.1h0M1036.6 1789.5h0M1038.7 1789.2h0M1040.7 1789.0h0M1042.8 1788.9h0M1044.8 1789.0h0M1046.9 1789.1h0M1049.0 1789.3h0M1051.0 1789.6h0M1053.1 1790.0h0M1055.1 1790.4h0M1057.2 1790.9h0M1059.3 1791.5h0M1061.3 1792.4h0M958.7 1796.3h0M948.5 1829.3h0M950.5 1830.1h0M987.2 1840.3h0M989.3 1840.3h0M968.9 1849.6h0M1014.0 1857.0h0M1016.0 1857.4h0M1018.1 1857.8h0M1020.1 1858.2h0M1042.8 1856.6h0M1044.8 1856.9h0M954.6 1885.0h0M956.6 1887.6h0M981.1 1910.6h0M983.1 1911.2h0M962.8 1921.7h0M1143.5 1759.2h0M1145.5 1759.5h0M1147.6 1760.0h0M1149.7 1760.4h0M1151.7 1760.9h0M1153.8 1761.2h0M1155.8 1761.5h0M1157.8 1761.8h0M1159.9 1762.0h0M1162.0 1762.2h0M1164.0 1762.2h0M1166.0 1762.2h0M1168.1 1762.1h0M1170.2 1761.9h0M1172.2 1761.6h0M1174.2 1761.2h0M1213.2 1758.3h0M1215.2 1756.9h0M1127.1 1806.7h0M1129.2 1806.0h0M1131.2 1805.3h0M1133.2 1804.5h0M1135.3 1803.8h0M1137.3 1803.2h0M1139.4 1802.7h0M1141.5 1802.2h0M1143.5 1801.8h0M1145.5 1801.4h0M1069.6 1802.3h0M1071.6 1803.4h0M1073.7 1804.5h0M1075.7 1805.6h0M1077.8 1806.6h0M1079.8 1807.6h0M1081.9 1808.4h0M1084.0 1809.1h0M1063.4 1816.6h0M1065.4 1817.4h0M1112.8 1823.0h0M1133.2 1844.1h0M1135.3 1843.0h0M1151.7 1837.4h0M1153.8 1837.0h0M1131.2 1868.2h0M1133.2 1867.5h0M1131.2 1910.5h0M1133.2 1908.8h0M1135.3 1907.2h0M1081.9 1853.5h0M1118.9 1929.9h0M1121.0 1930.9h0M1123.0 1932.0h0M1125.0 1933.0h0M1123.0 1938.2h0M1125.0 1939.2h0M1127.1 1940.2h0M1129.2 1941.0h0M1131.2 1942.6h0M1133.2 1945.7h0M1118.9 1948.8h0M1121.0 1950.3h0M928.1 1227.9h0M926.1 1233.3h0M989.3 1217.3h0M989.3 1385.6h0M1165.8 1175.3h0M1154.9 1310.5h0"/>
<path stroke-width="3.4" d="M1020.1 1338.4h0M1028.4 1313.2h0M991.3 1385.4h0M991.3 1385.4h0M993.4 1384.8h0M995.4 1384.5h0M997.5 1384.5h0M999.5 1384.7h0M1001.6 1384.9h0M1003.7 1385.3h0M1005.7 1385.9h0M1007.8 1386.8h0M1009.8 1387.7h0M1011.9 1388.5h0M1014.0 1388.5h0M1030.4 1412.4h0M1046.9 1462.5h0M1049.0 1464.1h0M1170.2 1413.9h0M1086.0 1397.4h0M1088.1 1398.3h0M1090.1 1399.1h0M1092.2 1399.7h0M1094.3 1400.2h0M1096.3 1400.7h0M1098.4 1401.0h0M1100.4 1401.3h0M1102.5 1401.3h0M1102.5 1401.3h0M1104.5 1401.2h0M1137.3 1402.5h0M1139.4 1401.7h0M1141.5 1400.9h0M1143.5 1482.3h0M1159.9 1529.3h0M1162.0 1529.4h0M1176.3 1306.7h0M1178.3 1313.9h0M922.0 1745.4h0M950.5 1732.4h0M934.2 1761.1h0M936.3 1759.7h0M958.7 1757.1h0M950.5 1785.9h0M991.3 1795.5h0M991.3 1795.5h0M993.4 1795.6h0M995.4 1795.6h0M997.5 1795.5h0M999.5 1795.5h0M1001.6 1795.5h0M1003.7 1795.6h0M1005.7 1795.5h0M1007.8 1795.4h0M1009.8 1795.3h0M1011.9 1795.1h0M1014.0 1794.9h0M1016.0 1794.6h0M1018.1 1794.3h0M1020.1 1794.0h0M1022.2 1793.6h0M1024.2 1793.2h0M1026.3 1792.7h0M960.7 1797.4h0M962.8 1798.4h0M952.6 1830.9h0M954.6 1831.7h0M956.6 1832.6h0M958.7 1833.4h0M960.7 1834.3h0M962.8 1835.1h0M964.8 1835.8h0M966.8 1836.6h0M968.9 1837.3h0M970.9 1837.9h0M973.0 1838.5h0M975.0 1839.0h0M977.0 1839.4h0M979.1 1839.7h0M981.1 1839.8h0M983.1 1840.0h0M985.2 1840.1h0M970.9 1850.2h0M973.0 1850.8h0M1007.8 1855.8h0M1009.8 1856.2h0M1011.9 1856.6h0M1046.9 1856.9h0M958.7 1890.2h0M960.7 1892.8h0M962.8 1895.4h0M964.8 1897.8h0M966.8 1900.1h0M968.9 1902.3h0M970.9 1904.4h0M973.0 1906.2h0M975.0 1907.7h0M977.0 1908.9h0M979.1 1909.9h0M964.8 1923.0h0M1207.0 1762.3h0M1209.1 1761.1h0M1211.2 1759.7h0M1102.5 1812.4h0M1102.5 1812.4h0M1104.5 1810.7h0M1106.6 1809.1h0M1086.0 1809.7h0M1088.1 1810.3h0M1090.1 1810.8h0M1092.2 1811.3h0M1094.3 1811.7h0M1096.3 1812.1h0M1098.4 1812.5h0M1100.4 1812.8h0M1067.5 1818.1h0M1069.6 1818.6h0M1071.6 1819.0h0M1110.7 1822.6h0M1137.3 1842.2h0M1139.4 1841.4h0M1147.6 1838.6h0M1149.7 1838.0h0M1079.8 1852.8h0M1077.8 1913.7h0M975.0 1188.8h0M932.2 1217.0h0M930.2 1222.5h0"/>
<path stroke-width="3.6" d="M1022.2 1335.4h0M1024.2 1331.3h0M1026.3 1324.0h0M1016.0 1423.4h0M1032.5 1414.4h0M1051.0 1465.7h0M1053.1 1467.3h0M1055.1 1468.8h0M1057.2 1470.3h0M1059.3 1471.6h0M1061.3 1472.6h0M1063.4 1473.5h0M1143.5 1400.2h0M1145.5 1399.5h0M1147.6 1398.9h0M1149.7 1398.3h0M1151.7 1397.8h0M1153.8 1397.4h0M1155.8 1397.0h0M1157.8 1396.7h0M1159.9 1396.7h0M1162.0 1397.1h0M1164.0 1397.8h0M1166.0 1398.6h0M1061.3 1469.8h0M1063.4 1471.4h0M1065.4 1473.1h0M1067.5 1474.7h0M1069.6 1476.4h0M1071.6 1478.0h0M1073.7 1479.7h0M1075.7 1481.4h0M1077.8 1483.1h0M1079.8 1484.7h0M1081.9 1486.1h0M1084.0 1487.4h0M1086.0 1488.7h0M1088.1 1489.8h0M1090.1 1491.0h0M1092.2 1492.1h0M1094.3 1493.3h0M1096.3 1494.5h0M1098.4 1495.5h0M1100.4 1496.2h0M1102.5 1496.4h0M1102.5 1496.4h0M1104.5 1495.9h0M1106.6 1494.7h0M1108.7 1493.1h0M1110.7 1491.7h0M1112.8 1490.6h0M1114.8 1489.5h0M1116.8 1488.4h0M1118.9 1487.4h0M1121.0 1486.5h0M1123.0 1485.7h0M1125.0 1484.9h0M1127.1 1484.3h0M1129.2 1483.7h0M1131.2 1483.2h0M1133.2 1482.8h0M1135.3 1482.5h0M1137.3 1482.2h0M1139.4 1482.0h0M1141.5 1482.0h0M1131.2 1530.9h0M1133.2 1530.8h0M1135.3 1530.7h0M1137.3 1530.6h0M1139.4 1530.5h0M1141.5 1530.4h0M1143.5 1530.3h0M1145.5 1530.1h0M1147.6 1529.9h0M1149.7 1529.8h0M1151.7 1529.6h0M1153.8 1529.5h0M1155.8 1529.4h0M1157.8 1529.3h0M924.0 1744.3h0M926.1 1743.3h0M948.5 1734.8h0M938.3 1758.2h0M940.3 1757.0h0M942.4 1756.4h0M954.6 1757.2h0M956.6 1757.2h0M987.2 1794.8h0M989.3 1795.2h0M964.8 1799.4h0M966.8 1800.4h0M975.0 1851.4h0M977.0 1852.0h0M979.1 1852.6h0M981.1 1853.1h0M983.1 1853.6h0M985.2 1854.1h0M987.2 1854.5h0M989.3 1854.7h0M991.3 1854.7h0M991.3 1854.7h0M993.4 1854.8h0M995.4 1854.8h0M997.5 1854.9h0M999.5 1854.9h0M1001.6 1855.1h0M1003.7 1855.2h0M1005.7 1855.5h0M1049.0 1856.9h0M1051.0 1856.8h0M1053.1 1856.8h0M1055.1 1856.9h0M1057.2 1857.0h0M1059.3 1857.1h0M1061.3 1857.2h0M966.8 1924.4h0M1157.8 1777.8h0M1159.9 1777.4h0M1203.0 1764.7h0M1205.0 1763.6h0M1108.7 1807.4h0M1110.7 1805.8h0M1112.8 1804.3h0M1114.8 1802.7h0M1164.0 1783.7h0M1123.0 1826.2h0M1125.0 1824.7h0M1157.8 1806.7h0M1159.9 1806.3h0M1073.7 1819.2h0M1075.7 1819.4h0M1106.6 1822.1h0M1108.7 1822.3h0M1084.0 1826.4h0M1086.0 1825.8h0M1088.1 1825.3h0M1090.1 1824.8h0M1092.2 1824.4h0M1094.3 1824.0h0M1096.3 1823.6h0M1098.4 1823.2h0M1100.4 1822.8h0M1141.5 1840.8h0M1143.5 1840.1h0M1145.5 1839.3h0M1061.3 1856.7h0M1063.4 1856.5h0M1065.4 1856.3h0M1067.5 1855.9h0M1069.6 1855.4h0M1071.6 1854.7h0M1073.7 1853.8h0M1075.7 1853.1h0M1077.8 1852.7h0M1061.3 1911.0h0M1063.4 1911.2h0M1065.4 1911.5h0M1067.5 1911.8h0M1069.6 1912.2h0M1071.6 1912.9h0M1073.7 1913.5h0M1075.7 1914.0h0M987.2 1219.2h0M942.4 1266.8h0M1167.9 1186.2h0M1153.1 1279.7h0M1153.5 1304.4h0"/>
<path stroke-width="3.8" d="M1034.5 1416.6h0M1168.1 1413.0h0M1061.3 1510.8h0M1063.4 1512.3h0M1065.4 1513.9h0M1067.5 1515.4h0M1069.6 1517.0h0M1071.6 1518.6h0M1073.7 1520.2h0M1075.7 1521.7h0M1077.8 1522.9h0M1079.8 1524.0h0M1081.9 1524.9h0M1084.0 1525.9h0M1086.0 1526.9h0M1088.1 1527.9h0M1090.1 1528.9h0M1092.2 1530.0h0M1094.3 1531.2h0M1096.3 1532.6h0M1098.4 1534.0h0M1100.4 1535.0h0M1102.5 1535.5h0M1102.5 1535.5h0M1104.5 1535.5h0M1106.6 1535.1h0M1108.7 1534.6h0M1110.7 1534.1h0M1112.8 1533.6h0M1114.8 1533.2h0M1116.8 1532.8h0M1118.9 1532.4h0M1121.0 1532.0h0M1123.0 1531.7h0M1125.0 1531.5h0M1127.1 1531.2h0M1129.2 1531.1h0M928.1 1742.4h0M930.2 1741.6h0M946.5 1736.3h0M944.4 1756.1h0M946.5 1756.0h0M950.5 1756.6h0M952.6 1757.0h0M952.6 1784.6h0M981.1 1793.2h0M983.1 1793.8h0M985.2 1794.3h0M968.9 1801.5h0M970.9 1802.5h0M968.9 1926.0h0M1162.0 1777.0h0M1198.9 1766.9h0M1200.9 1765.9h0M1116.8 1801.2h0M1118.9 1799.7h0M1121.0 1798.4h0M1159.9 1785.0h0M1162.0 1784.3h0M1127.1 1823.3h0M1153.8 1807.9h0M1155.8 1807.2h0M1077.8 1819.4h0M1079.8 1819.3h0M1081.9 1819.1h0M1104.5 1821.8h0M934.2 1210.3h0M985.2 1221.8h0M946.5 1262.7h0M944.4 1264.6h0"/>
<path stroke-width="4.0" d="M1018.1 1420.3h0M1036.6 1418.7h0M1038.7 1420.8h0M1040.7 1422.9h0M1042.8 1425.0h0M1044.8 1427.0h0M1166.0 1412.4h0M932.2 1740.9h0M934.2 1740.4h0M944.4 1737.6h0M948.5 1756.2h0M954.6 1783.9h0M970.9 1789.0h0M973.0 1790.0h0M975.0 1790.9h0M977.0 1791.7h0M979.1 1792.5h0M973.0 1803.5h0M975.0 1804.4h0M977.0 1805.2h0M979.1 1806.0h0M970.9 1927.6h0M1059.3 1906.0h0M1061.3 1904.7h0M1164.0 1776.6h0M1194.8 1768.8h0M1196.8 1767.9h0M1123.0 1797.2h0M1125.0 1796.2h0M1127.1 1795.3h0M1129.2 1794.6h0M1131.2 1793.9h0M1133.2 1793.3h0M1135.3 1792.8h0M1137.3 1792.5h0M1157.8 1785.7h0M1129.2 1821.8h0M1131.2 1820.4h0M1149.7 1809.7h0M1151.7 1808.7h0M1084.0 1819.0h0M1086.0 1819.0h0M1088.1 1819.0h0M1090.1 1819.1h0M1092.2 1819.3h0M1094.3 1819.6h0M1096.3 1820.0h0M1098.4 1820.6h0M1100.4 1821.1h0M1102.5 1821.5h0M1102.5 1821.5h0M936.3 1207.0h0M968.9 1190.0h0M970.9 1188.3h0M973.0 1187.9h0M983.1 1224.8h0M981.1 1228.2h0M948.5 1261.2h0"/>
<path stroke-width="4.2" d="M1034.5 1349.5h0M1036.6 1346.3h0M1020.1 1418.3h0M1046.9 1428.8h0M1049.0 1430.4h0M1051.0 1431.9h0M1053.1 1433.3h0M1055.1 1434.7h0M1057.2 1436.1h0M1059.3 1437.4h0M1061.3 1438.7h0M1063.4 1440.0h0M1151.7 1319.9h0M936.3 1740.0h0M938.3 1739.8h0M940.3 1739.4h0M942.4 1738.6h0M956.6 1783.7h0M958.7 1784.0h0M960.7 1784.4h0M962.8 1785.1h0M964.8 1785.9h0M966.8 1786.9h0M968.9 1787.9h0M981.1 1806.7h0M983.1 1807.3h0M985.2 1807.8h0M987.2 1808.3h0M989.3 1808.7h0M973.0 1929.1h0M1053.1 1910.4h0M1055.1 1908.9h0M1057.2 1907.4h0M1166.0 1776.2h0M1168.1 1775.7h0M1170.2 1775.3h0M1172.2 1774.8h0M1174.2 1774.2h0M1176.3 1773.7h0M1178.3 1773.2h0M1180.4 1772.7h0M1182.5 1772.2h0M1184.5 1771.7h0M1186.5 1771.3h0M1188.6 1770.8h0M1190.7 1770.3h0M1192.7 1769.6h0M1139.4 1792.1h0M1141.5 1791.8h0M1143.5 1791.2h0M1145.5 1790.5h0M1147.6 1789.6h0M1149.7 1788.8h0M1151.7 1787.9h0M1153.8 1787.1h0M1155.8 1786.4h0M1133.2 1819.1h0M1135.3 1817.8h0M1145.5 1811.8h0M1147.6 1810.8h0M938.3 1205.2h0M956.6 1200.5h0M958.7 1199.0h0M960.7 1197.3h0M962.8 1195.6h0M964.8 1193.8h0M966.8 1191.9h0M979.1 1231.7h0M977.0 1235.1h0M950.5 1260.0h0"/>
<path stroke-width="4.4" d="M1038.7 1344.0h0M1022.2 1417.4h0M936.3 1146.2h0M938.3 1147.6h0M940.3 1148.5h0M942.4 1148.5h0M944.4 1148.0h0M946.5 1147.3h0M1164.0 1412.1h0M991.3 1809.0h0M991.3 1809.0h0M993.4 1809.1h0M995.4 1809.0h0M997.5 1808.9h0M999.5 1809.1h0M975.0 1930.5h0M1044.8 1916.9h0M1046.9 1915.2h0M1049.0 1913.6h0M1051.0 1912.0h0M1137.3 1816.5h0M1139.4 1815.3h0M1141.5 1814.1h0M1143.5 1813.0h0M940.3 1203.8h0M942.4 1203.0h0M944.4 1203.0h0M946.5 1203.4h0M948.5 1203.7h0M950.5 1203.4h0M952.6 1202.7h0M954.6 1201.7h0M975.0 1238.5h0M973.0 1242.0h0M970.9 1245.2h0M968.9 1248.2h0M966.8 1250.5h0M964.8 1252.2h0M962.8 1253.7h0M960.7 1254.9h0M958.7 1256.0h0M956.6 1256.9h0M954.6 1257.9h0M952.6 1258.9h0M1173.0 1296.1h0"/>
<path stroke-width="4.6" d="M1040.7 1342.6h0M1024.2 1417.6h0M1026.3 1418.8h0M1028.4 1420.6h0M1030.4 1422.7h0M1032.5 1424.8h0M1034.5 1426.9h0M1036.6 1429.0h0M1038.7 1431.0h0M1149.7 1320.1h0M1001.6 1809.4h0M1003.7 1809.9h0M1005.7 1810.6h0M1007.8 1811.6h0M1053.1 1839.9h0M1055.1 1839.5h0M1057.2 1839.0h0M1059.3 1838.4h0M1061.3 1837.7h0M977.0 1931.9h0M979.1 1933.2h0M1036.6 1923.4h0M1038.7 1921.8h0M1040.7 1920.2h0M1042.8 1918.6h0"/>
<path stroke-width="4.8" d="M1042.8 1341.8h0M1040.7 1433.1h0M1042.8 1435.2h0M1044.8 1437.3h0M1046.9 1439.4h0M1049.0 1441.4h0M1051.0 1443.2h0M1053.1 1444.8h0M1055.1 1446.4h0M1061.3 1341.7h0M1063.4 1342.3h0M1065.4 1342.9h0M1067.5 1343.5h0M1069.6 1344.2h0M1071.6 1344.9h0M1073.7 1345.7h0M1075.7 1346.5h0M1077.8 1347.4h0M1079.8 1348.2h0M1081.9 1349.1h0M1084.0 1350.0h0M1086.0 1350.9h0M1147.6 1321.7h0M1061.3 1441.4h0M1063.4 1442.0h0M1065.4 1442.7h0M1067.5 1443.3h0M1069.6 1443.9h0M1071.6 1444.4h0M1073.7 1444.9h0M1075.7 1445.3h0M1077.8 1445.7h0M1079.8 1446.0h0M1081.9 1446.3h0M1084.0 1446.6h0M1086.0 1446.8h0M1088.1 1447.0h0M1090.1 1447.1h0M1092.2 1447.2h0M1094.3 1447.3h0M1096.3 1447.3h0M1098.4 1447.3h0M1100.4 1447.2h0M1102.5 1447.1h0M1102.5 1447.1h0M1104.5 1447.0h0M1106.6 1446.9h0M1108.7 1446.8h0M1110.7 1446.6h0M1112.8 1446.2h0M1114.8 1445.8h0M1116.8 1445.2h0M1118.9 1444.3h0M1121.0 1443.4h0M1123.0 1442.3h0M1125.0 1441.2h0M1127.1 1439.9h0M1129.2 1438.5h0M1131.2 1436.7h0M1133.2 1434.7h0M1135.3 1432.6h0M1137.3 1430.4h0M1139.4 1428.3h0M1141.5 1426.2h0M1143.5 1424.1h0M1145.5 1422.1h0M1147.6 1420.3h0M1149.7 1418.6h0M1151.7 1417.1h0M1153.8 1415.7h0M1155.8 1414.6h0M1157.8 1413.7h0M1159.9 1412.9h0M1162.0 1412.4h0M1009.8 1812.9h0M1011.9 1814.5h0M1014.0 1816.2h0M1016.0 1818.1h0M1018.1 1820.1h0M1040.7 1838.4h0M1042.8 1839.1h0M1044.8 1839.7h0M1046.9 1840.0h0M1049.0 1840.2h0M1051.0 1840.1h0M981.1 1934.4h0M983.1 1935.3h0M985.2 1936.0h0M1028.4 1929.2h0M1030.4 1927.9h0M1032.5 1926.5h0M1034.5 1925.0h0M1177.1 1153.4h0M1188.4 1166.7h0M1181.2 1198.6h0"/>
<path stroke-width="5.0" d="M1044.8 1341.2h0M1046.9 1340.8h0M1049.0 1340.4h0M1051.0 1340.1h0M1053.1 1340.0h0M1055.1 1340.1h0M1057.2 1340.3h0M1059.3 1340.5h0M1061.3 1340.8h0M1063.4 1341.2h0M1057.2 1447.8h0M1059.3 1448.9h0M1061.3 1449.7h0M1063.4 1450.4h0M1088.1 1351.7h0M1090.1 1352.4h0M1092.2 1353.0h0M1094.3 1353.6h0M1096.3 1354.1h0M1098.4 1354.5h0M1100.4 1354.7h0M1102.5 1354.7h0M1102.5 1354.7h0M1104.5 1354.4h0M1106.6 1354.0h0M1108.7 1353.4h0M1110.7 1352.7h0M1112.8 1351.9h0M1114.8 1351.0h0M1116.8 1349.9h0M1118.9 1348.7h0M1121.0 1347.4h0M1123.0 1345.9h0M1125.0 1344.4h0M1127.1 1342.8h0M1129.2 1340.9h0M1131.2 1339.0h0M1133.2 1336.9h0M1135.3 1334.5h0M1137.3 1332.2h0M1139.4 1329.8h0M1141.5 1327.6h0M1143.5 1325.5h0M1145.5 1323.5h0M1020.1 1822.2h0M1022.2 1824.3h0M1024.2 1826.3h0M1026.3 1828.2h0M1028.4 1830.1h0M1030.4 1831.8h0M1032.5 1833.4h0M1034.5 1834.9h0M1036.6 1836.2h0M1038.7 1837.4h0M987.2 1936.7h0M989.3 1937.1h0M991.3 1937.5h0M991.3 1937.5h0M993.4 1937.7h0M995.4 1937.8h0M997.5 1937.8h0M999.5 1937.7h0M1001.6 1937.6h0M1003.7 1937.4h0M1005.7 1937.0h0M1007.8 1936.7h0M1009.8 1936.2h0M1011.9 1935.7h0M1014.0 1935.1h0M1016.0 1934.5h0M1018.1 1933.8h0M1020.1 1933.0h0M1022.2 1932.2h0M1024.2 1931.3h0M1026.3 1930.3h0M1150.4 1319.8h0M1148.3 1321.8h0"/>
<path stroke-width="5.2" d="M1170.9 1195.5h0M1174.0 1197.5h0M1178.1 1196.5h0M1170.9 1291.0h0"/>
<path stroke-width="5.6" d="M1180.2 1161.6h0M1183.3 1162.6h0M1186.4 1163.6h0M1155.5 1291.0h0M1158.6 1293.1h0M1162.7 1290.0h0M1166.8 1287.9h0"/>
</g></g>
<line x1="216.3" y1="1549.25" x2="739.5" y2="1549.25" stroke="#000" stroke-width="1.7" stroke-dasharray="6.7,2.9" stroke-dashoffset="6.7"/>
<line x1="408" y1="1145.7" x2="408" y2="1952.8" stroke="#000" stroke-width="2.2"/>
<line x1="518.3" y1="1145.7" x2="518.3" y2="1952.8" stroke="#000" stroke-width="2.2"/>
<rect x="216.3" y="1145.7" width="523.2" height="807.0999999999999" fill="none" stroke="#000" stroke-width="2.4"/>
<line x1="216.3" y1="1952.8" x2="216.3" y2="1956.8" stroke="#000" stroke-width="2"/>
<line x1="408" y1="1952.8" x2="408" y2="1956.8" stroke="#000" stroke-width="2"/>
<line x1="518.3" y1="1952.8" x2="518.3" y2="1956.8" stroke="#000" stroke-width="2"/>
<line x1="739.5" y1="1952.8" x2="739.5" y2="1956.8" stroke="#000" stroke-width="2"/>
<text x="217.60000000000002" y="1993.7" text-anchor="middle" style="font-family:'Liberation Serif',serif;font-size:34.5px">Γ</text>
<text x="740.8" y="1993.7" text-anchor="middle" style="font-family:'Liberation Serif',serif;font-size:34.5px">Γ</text>
<text x="408" y="1995.8" text-anchor="middle" style="font-family:'Liberation Sans',sans-serif;font-size:34px">M</text>
<text x="519.3" y="1995.8" text-anchor="middle" style="font-family:'Liberation Sans',sans-serif;font-size:34px">K</text>
<line x1="799.7" y1="1549.25" x2="1323.9" y2="1549.25" stroke="#000" stroke-width="1.7" stroke-dasharray="6.7,2.9" stroke-dashoffset="6.7"/>
<line x1="991.3" y1="1145.7" x2="991.3" y2="1952.8" stroke="#000" stroke-width="2.2"/>
<line x1="1102.5" y1="1145.7" x2="1102.5" y2="1952.8" stroke="#000" stroke-width="2.2"/>
<rect x="799.7" y="1145.7" width="524.2" height="807.0999999999999" fill="none" stroke="#000" stroke-width="2.4"/>
<line x1="799.7" y1="1952.8" x2="799.7" y2="1956.8" stroke="#000" stroke-width="2"/>
<line x1="991.3" y1="1952.8" x2="991.3" y2="1956.8" stroke="#000" stroke-width="2"/>
<line x1="1102.5" y1="1952.8" x2="1102.5" y2="1956.8" stroke="#000" stroke-width="2"/>
<line x1="1323.9" y1="1952.8" x2="1323.9" y2="1956.8" stroke="#000" stroke-width="2"/>
<text x="801.0" y="1993.7" text-anchor="middle" style="font-family:'Liberation Serif',serif;font-size:34.5px">Γ</text>
<text x="1325.2" y="1993.7" text-anchor="middle" style="font-family:'Liberation Serif',serif;font-size:34.5px">Γ</text>
<text x="991.3" y="1995.8" text-anchor="middle" style="font-family:'Liberation Sans',sans-serif;font-size:34px">M</text>
<text x="1103.5" y="1995.8" text-anchor="middle" style="font-family:'Liberation Sans',sans-serif;font-size:34px">K</text>
<line x1="212.3" y1="1145.7" x2="216.3" y2="1145.7" stroke="#000" stroke-width="2"/>
<text x="204.5" y="1158.7" text-anchor="end" style="font-family:'Liberation Sans',sans-serif;font-size:33.5px">3.0</text>
<line x1="212.3" y1="1280.2166666666667" x2="216.3" y2="1280.2166666666667" stroke="#000" stroke-width="2"/>
<text x="202.1" y="1295.4" text-anchor="end" style="font-family:'Liberation Sans',sans-serif;font-size:33.5px">2.0</text>
<line x1="212.3" y1="1414.7333333333333" x2="216.3" y2="1414.7333333333333" stroke="#000" stroke-width="2"/>
<text x="202.1" y="1432.5" text-anchor="end" style="font-family:'Liberation Sans',sans-serif;font-size:33.5px">1.0</text>
<line x1="212.3" y1="1549.25" x2="216.3" y2="1549.25" stroke="#000" stroke-width="2"/>
<text x="202.1" y="1566.5" text-anchor="end" style="font-family:'Liberation Sans',sans-serif;font-size:33.5px">0.0</text>
<line x1="212.3" y1="1683.7666666666667" x2="216.3" y2="1683.7666666666667" stroke="#000" stroke-width="2"/>
<text x="202.1" y="1702.1" text-anchor="end" style="font-family:'Liberation Sans',sans-serif;font-size:33.5px">−1.0</text>
<line x1="212.3" y1="1818.2833333333333" x2="216.3" y2="1818.2833333333333" stroke="#000" stroke-width="2"/>
<text x="202.1" y="1837.8" text-anchor="end" style="font-family:'Liberation Sans',sans-serif;font-size:33.5px">−2.0</text>
<line x1="212.3" y1="1952.8" x2="216.3" y2="1952.8" stroke="#000" stroke-width="2"/>
<text x="202.1" y="1973.5" text-anchor="end" style="font-family:'Liberation Sans',sans-serif;font-size:33.5px">−3.0</text>
<text transform="translate(103,1550) rotate(-90)" text-anchor="middle" style="font-family:'Liberation Sans',sans-serif;font-size:33px">Energy (eV)</text>
</svg>
</body></html>
